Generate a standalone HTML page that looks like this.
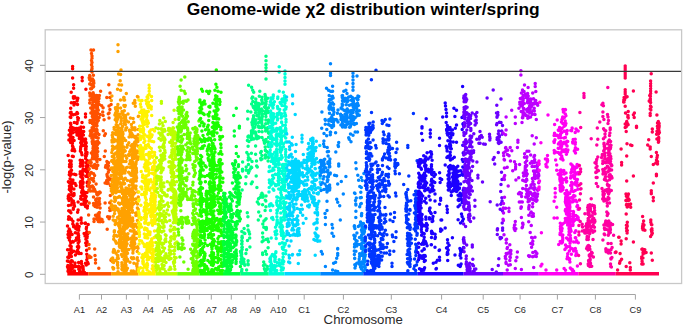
<!DOCTYPE html>
<html><head><meta charset="utf-8"><style>
html,body{margin:0;padding:0;background:#fff;overflow:hidden;}
svg{display:block;font-family:"Liberation Sans",sans-serif;}
</style></head><body>
<svg width="685" height="326" viewBox="0 0 685 326">
<rect width="685" height="326" fill="#fff"/>
<text x="363.2" y="14.8" text-anchor="middle" font-size="17.4" font-weight="bold" fill="#000">Genome-wide χ2 distribution winter/spring</text>
<g fill="none" stroke-width="3.50" stroke-linecap="round">
<path d="M72.6 66.4h0M72.6 68.8h0M72.6 78.0h0M73.6 84.8h0M73.6 88.2h0M71.2 92.3h0M82.2 77.4h0M82.2 80.7h0M85.9 89.3h0M70.7 108.3h0M85.5 113.9h0M85.5 117.0h0M82.0 122.6h0M73.5 97.1h0M73.4 97.9h0M77.1 101.1h0M77.4 99.5h0M74.3 97.3h0M76.8 98.5h0M74.7 103.2h0M77.5 104.6h0M73.7 98.2h0M74.2 103.1h0M74.6 102.8h0M73.6 97.6h0M73.8 102.4h0M74.0 105.1h0M77.8 98.3h0M73.4 96.7h0M74.7 96.7h0M71.3 102.8h0M77.0 123.4h0M71.1 112.2h0M78.0 120.2h0M77.1 122.5h0M70.2 117.0h0M71.5 114.3h0M75.6 114.2h0M70.8 124.5h0M70.8 113.0h0M78.4 118.3h0M77.0 112.4h0M73.2 114.7h0M77.9 119.7h0M70.3 113.0h0M70.5 123.2h0M70.5 117.0h0M74.3 122.4h0M70.8 117.5h0M77.6 113.6h0M70.5 112.5h0M77.6 117.5h0M70.7 132.5h0M70.8 142.5h0M71.1 130.0h0M70.8 131.4h0M70.6 132.0h0M70.6 127.6h0M68.9 140.1h0M71.6 127.2h0M72.4 139.7h0M70.8 127.7h0M69.4 130.3h0M73.6 129.5h0M70.8 135.4h0M70.6 142.4h0M70.7 135.5h0M70.5 134.3h0M72.8 132.7h0M70.2 136.5h0M71.7 132.1h0M73.4 127.9h0M75.9 128.5h0M75.8 131.9h0M69.0 135.0h0M70.0 130.6h0M71.0 133.1h0M71.4 141.4h0M70.7 137.2h0M74.1 140.6h0M69.8 139.5h0M70.8 136.1h0M70.4 135.0h0M73.0 137.6h0M70.2 135.1h0M72.6 149.8h0M72.1 150.6h0M72.5 145.9h0M72.3 156.2h0M68.2 155.4h0M74.7 151.1h0M73.3 156.4h0M74.1 149.2h0M73.0 146.9h0M72.4 143.3h0M72.8 148.6h0M73.1 148.2h0M82.5 133.0h0M82.9 138.7h0M78.5 128.2h0M79.2 130.2h0M80.6 131.7h0M80.3 134.7h0M78.5 132.5h0M80.3 128.9h0M78.3 134.5h0M76.7 129.9h0M83.5 127.3h0M83.7 131.5h0M80.7 136.6h0M80.9 127.1h0M78.2 134.4h0M79.3 138.6h0M80.6 138.0h0M81.8 136.1h0M79.4 136.4h0M77.0 134.9h0M79.8 134.1h0M81.1 130.7h0M76.5 128.5h0M80.1 129.8h0M83.4 135.1h0M78.0 129.5h0M80.0 128.0h0M85.4 156.0h0M80.7 146.9h0M85.5 149.7h0M86.3 146.5h0M81.5 140.5h0M85.6 158.6h0M81.9 143.1h0M80.9 142.4h0M86.0 147.1h0M81.8 141.9h0M85.7 153.5h0M80.4 150.9h0M85.5 143.2h0M87.0 152.4h0M86.2 142.9h0M85.8 142.2h0M85.5 148.4h0M82.3 141.8h0M85.8 142.1h0M81.3 145.6h0M85.9 151.4h0M83.1 145.5h0M86.9 153.9h0M80.6 149.0h0M80.7 142.7h0M82.0 154.8h0M86.2 156.1h0M85.5 139.1h0M85.6 139.3h0M85.4 145.3h0M86.0 149.1h0M81.4 152.6h0M83.6 140.5h0M70.8 164.6h0M69.6 164.6h0M69.2 182.5h0M75.9 174.8h0M73.9 189.0h0M71.2 166.5h0M71.5 170.3h0M70.8 165.8h0M69.6 172.2h0M71.3 183.3h0M71.0 170.6h0M69.3 189.4h0M73.5 182.9h0M71.3 184.6h0M70.9 186.2h0M74.4 174.3h0M71.8 174.0h0M69.7 160.9h0M71.5 186.7h0M70.4 173.6h0M70.2 175.4h0M70.9 162.8h0M70.8 185.1h0M76.0 185.5h0M70.7 162.4h0M69.6 174.7h0M70.8 167.1h0M69.3 174.7h0M69.6 160.8h0M70.8 189.3h0M71.7 181.3h0M72.9 180.1h0M68.4 181.7h0M70.8 165.8h0M69.4 186.0h0M69.7 188.3h0M70.1 178.7h0M75.1 183.6h0M71.2 164.4h0M70.3 190.4h0M69.6 187.9h0M71.3 170.5h0M69.5 166.7h0M69.8 166.6h0M69.6 171.9h0M71.0 191.6h0M71.0 185.0h0M71.2 160.9h0M85.8 176.2h0M80.3 171.7h0M82.9 165.5h0M83.0 169.4h0M82.5 181.8h0M80.8 185.1h0M83.5 191.6h0M82.6 178.8h0M82.2 164.3h0M80.2 166.2h0M82.6 171.8h0M82.7 171.5h0M87.1 182.8h0M80.7 183.9h0M82.2 162.7h0M86.6 165.9h0M80.2 160.3h0M82.4 160.4h0M82.3 163.5h0M86.6 166.9h0M82.2 165.1h0M82.6 189.4h0M82.0 191.0h0M80.5 163.5h0M82.9 182.6h0M80.7 181.6h0M87.5 168.0h0M80.5 187.3h0M80.3 182.4h0M83.1 182.3h0M82.7 181.6h0M82.8 174.6h0M81.8 172.0h0M82.5 174.2h0M80.7 184.2h0M81.2 162.3h0M82.8 186.8h0M80.1 173.9h0M82.2 177.2h0M80.8 176.7h0M86.6 166.3h0M82.3 190.9h0M85.3 169.6h0M82.6 161.6h0M80.6 184.0h0M82.9 183.5h0M80.4 186.0h0M82.8 187.0h0M80.8 163.0h0M85.8 162.7h0M82.9 166.3h0M82.9 170.2h0M86.0 171.4h0M81.8 177.5h0M68.7 210.7h0M69.2 200.1h0M68.5 205.4h0M73.3 195.7h0M70.9 212.8h0M69.0 200.4h0M69.4 217.2h0M72.0 202.3h0M70.1 210.9h0M68.5 219.2h0M70.5 198.1h0M74.5 206.2h0M70.7 219.2h0M73.4 207.9h0M69.4 211.3h0M71.2 199.1h0M69.0 194.7h0M72.9 221.2h0M74.1 194.9h0M74.0 203.0h0M71.2 194.5h0M68.3 196.2h0M71.3 219.1h0M74.1 204.8h0M70.9 205.0h0M73.3 201.0h0M68.7 216.8h0M74.0 193.4h0M73.3 209.2h0M68.2 198.5h0M85.1 200.6h0M83.0 194.0h0M83.6 195.3h0M81.6 192.6h0M81.2 204.2h0M85.5 202.7h0M84.3 201.4h0M85.5 198.1h0M86.7 201.2h0M85.2 192.6h0M83.6 194.3h0M82.3 195.3h0M81.2 198.5h0M80.7 198.8h0M80.9 196.2h0M83.6 194.5h0M85.4 202.5h0M84.8 194.1h0M83.7 199.5h0M87.0 192.6h0M86.2 196.4h0M78.1 202.1h0M84.0 202.0h0M83.7 204.3h0M81.3 199.3h0M84.6 198.4h0M81.0 219.9h0M85.2 223.4h0M86.5 206.9h0M85.5 206.6h0M81.9 223.1h0M85.4 223.1h0M87.3 208.1h0M87.5 206.0h0M81.1 218.1h0M78.1 220.0h0M78.1 209.9h0M86.1 205.8h0M81.3 223.2h0M77.6 212.3h0M75.4 254.9h0M72.6 241.4h0M69.2 229.1h0M77.5 237.5h0M69.5 231.4h0M77.7 249.9h0M77.2 252.4h0M77.5 226.1h0M69.5 230.1h0M76.5 238.1h0M71.5 253.0h0M79.1 241.4h0M69.8 235.6h0M71.0 250.6h0M78.6 237.4h0M67.6 249.8h0M78.2 233.5h0M69.8 237.3h0M78.2 246.0h0M67.5 226.0h0M78.5 252.2h0M79.1 253.6h0M77.7 229.9h0M78.7 246.7h0M71.0 248.3h0M73.7 251.2h0M78.2 236.6h0M78.2 243.0h0M78.3 238.5h0M75.9 228.7h0M70.7 232.0h0M68.0 234.4h0M69.4 239.9h0M71.0 252.1h0M69.8 230.5h0M78.6 235.5h0M69.8 233.1h0M78.6 227.0h0M69.4 252.9h0M78.7 230.3h0M73.6 226.8h0M78.4 247.8h0M75.8 240.3h0M72.8 224.1h0M68.3 237.5h0M70.8 242.9h0M71.3 250.3h0M79.2 226.4h0M78.7 247.3h0M70.0 245.7h0M78.7 246.8h0M78.9 240.0h0M70.7 242.0h0M71.1 251.7h0M68.4 231.5h0M71.2 246.4h0M73.2 241.9h0M70.8 242.5h0M70.0 249.6h0M77.2 224.1h0M71.0 251.4h0M73.8 225.4h0M78.6 228.8h0M75.3 232.7h0M77.9 234.0h0M69.4 255.0h0M77.5 246.8h0M69.8 232.5h0M77.4 246.8h0M74.1 226.7h0M77.5 252.9h0M76.7 226.5h0M76.6 251.8h0M72.1 234.6h0M71.1 250.9h0M86.3 245.5h0M87.0 241.4h0M84.1 233.5h0M87.1 232.7h0M87.2 243.3h0M86.6 250.3h0M86.8 254.2h0M85.9 239.3h0M87.0 237.9h0M87.7 233.7h0M85.0 234.2h0M86.5 234.9h0M87.2 236.5h0M86.3 228.8h0M88.2 224.5h0M81.1 253.4h0M86.5 227.3h0M85.0 236.1h0M85.7 242.9h0M86.8 231.7h0M72.0 260.9h0M67.5 266.8h0M68.0 261.3h0M68.0 271.2h0M68.9 257.7h0M71.1 267.6h0M68.0 268.0h0M71.4 256.5h0M71.7 267.0h0M71.9 260.8h0M71.4 260.7h0M72.2 268.5h0M72.3 261.3h0M70.6 265.8h0M70.5 262.4h0M71.6 261.0h0M72.4 267.0h0M72.1 266.9h0M71.5 271.5h0M67.4 260.9h0M72.0 271.4h0M71.4 264.8h0M70.1 261.9h0M71.5 264.9h0M67.8 257.2h0M71.5 261.5h0M71.1 264.5h0M67.9 265.6h0M68.6 257.5h0M68.3 270.2h0M74.8 265.2h0M75.0 262.9h0M78.6 262.5h0M83.1 267.1h0M71.8 272.0h0M82.6 272.3h0M82.5 266.2h0M84.5 272.4h0M74.3 272.2h0M79.6 271.6h0M81.0 267.1h0M69.9 267.5h0M82.4 266.2h0M78.6 266.2h0M83.3 269.9h0M78.5 267.4h0M70.3 272.2h0M67.7 266.5h0M75.9 266.5h0M82.9 266.4h0M70.6 271.0h0M81.2 267.1h0M82.9 267.6h0M73.3 271.9h0M74.5 271.1h0M81.8 271.9h0M83.1 268.8h0M69.6 272.2h0M78.8 269.3h0M69.0 270.9h0M82.9 269.2h0M82.9 271.3h0M70.2 266.9h0M74.3 266.8h0M79.1 268.3h0M79.3 269.6h0M85.5 263.3h0M81.6 263.7h0M81.0 263.1h0M87.3 256.9h0M81.4 261.6h0M86.3 265.0h0M87.7 262.5h0M86.8 259.7h0M88.2 263.8h0M87.4 174.2h0M87.8 162.1h0M87.7 161.3h0M88.0 172.6h0M87.5 182.3h0M87.9 167.5h0M87.7 176.6h0M87.4 186.1h0M88.2 165.6h0M87.5 163.3h0M87.3 182.0h0M87.2 160.4h0M87.4 164.4h0M88.1 170.1h0" stroke="#FF0000"/>
<path d="M67.3 273.8H88.3" stroke="#FF0000" stroke-linecap="butt"/>
<path d="M91.0 50.0h0M93.5 50.0h0M91.5 53.5h0M92.0 56.0h0M92.0 58.3h0M91.5 60.6h0M92.0 62.6h0M91.5 64.7h0M92.0 66.7h0M92.0 68.8h0M91.5 70.3h0M92.0 71.9h0M100.6 91.3h0M108.8 84.8h0M110.0 93.0h0M94.7 249.1h0M95.0 255.5h0M95.5 259.7h0M95.5 263.0h0M98.8 268.2h0M89.2 203.1h0M88.6 215.0h0M89.3 232.4h0M89.2 255.9h0M89.1 248.4h0M89.0 244.4h0M90.9 257.3h0M89.1 257.4h0M88.6 256.2h0M93.4 75.3h0M89.7 93.1h0M90.6 88.7h0M90.0 83.8h0M89.2 77.7h0M89.7 75.4h0M89.7 84.0h0M90.0 79.2h0M93.1 85.6h0M93.1 92.8h0M93.7 82.5h0M90.6 84.2h0M93.5 80.5h0M89.9 77.0h0M93.3 86.2h0M93.6 81.1h0M93.8 83.2h0M93.3 94.9h0M90.1 94.8h0M93.7 94.4h0M91.5 88.7h0M89.6 79.4h0M90.0 76.8h0M90.7 80.4h0M90.3 94.1h0M92.6 79.1h0M93.2 83.1h0M91.4 85.0h0M92.9 87.3h0M93.6 86.4h0M92.8 97.6h0M93.6 146.8h0M92.4 136.4h0M92.8 142.8h0M92.8 96.1h0M96.8 145.1h0M99.0 134.6h0M92.8 157.1h0M95.3 124.2h0M96.8 131.7h0M96.9 101.2h0M91.9 130.0h0M94.5 98.9h0M89.7 102.9h0M94.4 122.4h0M96.5 141.8h0M99.0 143.0h0M94.1 135.0h0M91.3 152.9h0M93.0 106.2h0M90.8 113.1h0M89.9 99.9h0M96.3 125.4h0M94.1 158.7h0M93.7 142.4h0M96.3 142.9h0M98.2 137.9h0M94.1 99.4h0M96.5 104.5h0M96.1 100.4h0M92.1 111.5h0M93.7 110.7h0M93.7 151.0h0M94.0 137.2h0M93.9 153.5h0M90.0 122.6h0M90.0 120.6h0M97.2 113.3h0M99.0 98.6h0M92.7 115.5h0M92.4 111.5h0M97.8 151.5h0M97.4 148.3h0M95.7 153.1h0M95.8 116.2h0M96.9 108.1h0M94.0 151.6h0M93.5 134.9h0M99.4 95.4h0M96.4 106.7h0M93.8 116.4h0M96.6 101.0h0M93.7 111.3h0M94.5 129.3h0M96.8 110.1h0M93.6 120.3h0M92.9 152.8h0M96.7 145.7h0M98.3 117.8h0M93.3 146.3h0M98.9 117.2h0M99.9 159.5h0M96.6 160.0h0M93.0 135.8h0M96.2 112.9h0M95.8 137.3h0M97.4 132.8h0M97.6 108.3h0M96.7 105.5h0M96.8 96.1h0M95.1 118.7h0M96.4 147.5h0M94.8 137.0h0M94.0 117.8h0M94.2 97.4h0M97.3 104.6h0M94.3 107.2h0M90.7 108.0h0M98.5 96.5h0M90.2 131.1h0M97.0 99.9h0M97.0 130.0h0M94.0 155.3h0M91.0 121.2h0M97.6 141.3h0M98.3 110.3h0M91.4 132.5h0M92.6 138.4h0M92.3 104.9h0M92.2 135.1h0M99.2 117.4h0M97.0 125.8h0M92.3 120.0h0M97.2 158.6h0M97.1 103.1h0M95.8 136.9h0M99.2 104.4h0M92.7 158.7h0M96.4 147.0h0M92.8 151.1h0M94.1 153.7h0M96.8 152.3h0M94.3 153.5h0M96.7 131.3h0M92.2 141.6h0M96.5 118.8h0M93.6 117.9h0M94.4 98.4h0M97.0 156.4h0M92.3 142.3h0M96.4 129.1h0M92.6 97.4h0M96.8 111.1h0M92.3 131.6h0M92.6 141.2h0M96.8 119.9h0M93.0 119.6h0M93.8 149.6h0M91.8 99.9h0M92.7 154.8h0M100.0 114.4h0M97.4 132.9h0M96.8 97.4h0M96.9 105.0h0M97.0 149.0h0M93.8 114.0h0M92.6 155.0h0M95.8 112.4h0M96.2 107.2h0M93.2 127.9h0M94.1 147.8h0M90.1 135.8h0M96.8 112.2h0M97.3 145.0h0M92.6 135.0h0M92.1 129.8h0M92.6 121.5h0M92.3 127.7h0M96.4 144.7h0M92.3 158.6h0M96.6 104.5h0M93.1 108.0h0M97.3 106.7h0M90.7 133.8h0M96.9 153.7h0M92.9 115.3h0M91.9 138.2h0M96.3 130.8h0M96.4 137.5h0M97.1 133.2h0M94.4 135.6h0M98.9 97.9h0M97.1 154.4h0M96.2 100.4h0M93.9 148.2h0M98.5 101.6h0M95.0 141.9h0M97.0 106.8h0M92.1 127.8h0M96.3 143.4h0M94.2 151.8h0M93.7 148.2h0M96.9 150.6h0M93.4 97.6h0M96.3 154.9h0M92.9 106.0h0M96.8 150.2h0M94.0 129.1h0M97.0 118.0h0M96.1 130.9h0M92.3 116.6h0M94.3 101.5h0M96.4 144.8h0M96.8 108.4h0M96.5 157.3h0M96.7 123.2h0M94.0 147.1h0M97.2 102.8h0M95.2 148.8h0M96.4 112.4h0M94.2 156.0h0M95.6 135.9h0M97.2 95.8h0M96.6 132.1h0M96.5 95.4h0M96.9 100.2h0M92.8 121.9h0M92.5 123.7h0M97.1 122.4h0M96.4 149.8h0M96.7 112.6h0M95.1 115.1h0M96.5 137.3h0M92.1 131.3h0M96.9 102.4h0M93.7 122.6h0M93.8 129.8h0M96.4 104.0h0M97.1 143.7h0M97.4 104.2h0M94.4 134.5h0M98.6 142.5h0M92.3 110.2h0M93.7 153.8h0M90.1 96.1h0M96.9 104.2h0M93.0 123.5h0M97.3 156.2h0M93.7 105.6h0M93.0 148.2h0M97.8 113.2h0M94.1 149.2h0M96.5 114.7h0M94.7 130.2h0M91.2 99.2h0M93.6 101.5h0M96.8 158.2h0M93.8 130.2h0M93.8 126.5h0M93.2 152.4h0M94.1 145.8h0M92.5 143.7h0M96.5 143.7h0M96.8 144.6h0M97.3 133.8h0M93.0 102.2h0M92.8 154.9h0M96.1 151.4h0M96.7 143.2h0M96.8 120.3h0M94.1 144.8h0M96.4 155.4h0M94.3 144.6h0M92.2 112.2h0M95.7 131.7h0M93.8 148.5h0M93.0 139.4h0M92.4 119.7h0M94.0 111.7h0M96.9 131.9h0M94.0 96.4h0M96.8 155.2h0M92.8 156.3h0M92.8 127.2h0M93.6 154.0h0M96.2 119.6h0M92.3 111.6h0M93.0 144.0h0M98.3 120.6h0M109.9 109.4h0M102.7 112.1h0M109.0 118.0h0M109.0 106.1h0M109.1 113.1h0M104.1 119.8h0M108.3 113.7h0M101.7 105.7h0M111.1 104.5h0M106.8 97.5h0M110.0 97.5h0M103.1 115.6h0M103.1 107.8h0M105.4 133.7h0M103.3 130.7h0M105.3 150.9h0M104.3 156.6h0M104.5 135.4h0M92.8 190.8h0M89.4 190.0h0M89.4 174.3h0M94.8 165.2h0M88.7 162.4h0M91.2 162.4h0M90.0 162.4h0M93.5 187.4h0M91.2 178.5h0M94.7 164.5h0M89.9 186.4h0M94.6 167.4h0M89.5 182.4h0M89.4 175.6h0M97.8 165.2h0M91.5 179.2h0M89.0 190.3h0M90.6 191.0h0M93.2 167.6h0M92.4 185.9h0M89.2 168.9h0M93.1 191.0h0M96.5 168.5h0M88.4 185.8h0M89.2 183.1h0M93.6 173.7h0M88.9 190.8h0M95.2 191.2h0M91.3 172.6h0M89.8 187.5h0M94.6 175.5h0M91.3 165.7h0M97.2 166.0h0M90.3 173.7h0M88.8 179.6h0M96.1 183.9h0M92.6 187.2h0M88.8 190.1h0M90.2 160.7h0M88.7 184.4h0M94.6 189.4h0M92.8 179.9h0M93.6 165.7h0M97.0 161.8h0M93.7 181.2h0M93.4 178.4h0M107.3 183.0h0M107.5 176.7h0M107.9 166.2h0M107.6 177.2h0M109.2 179.7h0M108.0 167.0h0M107.7 166.0h0M107.5 163.4h0M107.1 183.4h0M108.6 162.7h0M110.9 179.1h0M108.3 172.3h0M109.3 169.9h0M108.7 178.2h0M108.4 165.8h0M108.2 183.3h0M107.0 174.4h0M107.9 168.6h0M106.9 161.5h0M105.9 165.6h0M107.1 175.8h0M108.4 177.8h0M108.0 168.9h0M107.9 181.0h0M105.1 183.0h0M108.0 166.2h0M107.8 163.1h0M105.5 167.3h0M106.7 180.4h0M110.4 185.5h0M96.2 199.2h0M98.9 219.5h0M94.0 218.9h0M97.1 215.6h0M96.3 218.7h0M98.3 221.6h0M97.4 218.6h0M98.1 213.8h0M99.2 201.2h0M99.2 204.7h0M96.8 204.5h0M97.1 207.2h0M96.9 218.2h0M99.1 216.9h0M97.0 198.7h0M102.0 219.4h0M96.3 201.7h0M99.1 213.6h0M97.3 217.5h0M99.5 198.6h0M97.5 194.9h0M100.2 192.4h0M93.8 205.2h0M101.4 219.2h0M95.7 199.9h0M98.3 215.3h0M98.9 215.3h0M100.1 221.7h0M99.1 202.1h0M98.1 193.9h0M97.1 205.9h0M97.6 192.7h0M97.2 218.6h0M96.7 203.4h0M96.8 194.3h0M97.4 218.5h0M99.6 192.9h0M99.8 203.9h0M100.1 208.0h0M93.5 203.4h0M98.8 204.1h0M96.8 193.4h0M98.7 221.3h0M98.9 213.0h0M102.8 221.8h0M94.0 221.5h0M95.5 215.2h0M95.1 206.5h0M99.6 192.1h0M93.5 196.9h0M97.3 219.6h0M98.5 194.1h0M99.4 212.4h0M98.6 193.4h0M109.8 210.5h0M108.7 217.1h0M105.1 202.9h0M110.3 195.4h0M109.7 217.0h0M109.1 218.8h0M107.6 216.7h0M109.7 208.0h0M109.7 202.7h0M107.2 229.3h0M111.0 260.2h0M111.1 210.1h0" stroke="#FF5100"/>
<path d="M88.3 273.8H111.1" stroke="#FF5100" stroke-linecap="butt"/>
<path d="M118.0 44.7h0M118.0 51.5h0M121.0 69.9h0M118.6 74.0h0M120.6 74.5h0M120.2 80.7h0M119.0 84.8h0M121.6 85.0h0M117.5 89.3h0M120.6 90.3h0M126.3 93.4h0M135.0 103.0h0M138.0 97.0h0M133.3 103.2h0M135.3 106.2h0M134.8 100.6h0M137.4 96.5h0M111.9 95.9h0M111.3 100.4h0M111.8 152.6h0M111.9 160.6h0M111.6 168.4h0M111.7 168.7h0M111.4 168.0h0M111.4 184.5h0M111.6 161.0h0M111.1 175.5h0M111.3 190.9h0M111.2 188.6h0M111.4 258.9h0M123.7 97.6h0M124.6 100.0h0M124.0 97.5h0M123.9 99.9h0M120.5 99.9h0M123.9 98.9h0M115.7 113.0h0M125.2 115.6h0M122.2 112.4h0M117.7 126.6h0M117.4 117.0h0M125.5 124.4h0M119.0 116.6h0M125.3 105.5h0M117.2 107.3h0M117.4 108.8h0M120.5 107.9h0M117.6 111.3h0M117.1 108.9h0M124.5 120.4h0M124.4 118.0h0M123.9 105.5h0M121.2 121.1h0M125.5 116.3h0M115.9 113.0h0M124.7 123.3h0M117.3 106.9h0M117.1 107.4h0M117.0 125.0h0M115.5 113.3h0M117.9 125.8h0M124.4 116.0h0M115.2 119.7h0M125.6 117.9h0M124.4 117.8h0M122.0 111.5h0M115.6 109.0h0M121.5 118.5h0M117.9 114.6h0M117.2 118.8h0M120.6 117.3h0M116.0 116.7h0M119.6 114.3h0M118.9 115.2h0M124.2 105.9h0M116.1 112.2h0M115.8 118.8h0M120.7 123.8h0M115.6 115.0h0M116.0 115.1h0M115.4 107.7h0M124.1 123.8h0M124.8 106.6h0M115.8 119.2h0M126.1 120.2h0M114.9 115.0h0M116.0 109.6h0M125.4 121.8h0M117.9 104.5h0M117.7 119.3h0M116.7 121.7h0M117.3 118.9h0M124.2 123.0h0M122.9 114.9h0M122.9 113.6h0M116.2 124.7h0M123.9 111.1h0M122.5 126.4h0M124.3 110.7h0M131.4 124.5h0M130.4 118.0h0M133.1 118.4h0M128.0 114.0h0M133.7 122.2h0M128.5 122.1h0M118.1 152.5h0M119.6 135.5h0M122.1 141.6h0M112.4 146.3h0M123.0 134.0h0M118.3 146.0h0M114.2 129.3h0M119.2 131.9h0M128.8 142.7h0M134.6 156.4h0M122.8 132.0h0M117.8 134.4h0M122.3 153.9h0M132.4 157.4h0M119.2 158.8h0M135.4 136.6h0M122.5 154.6h0M122.2 159.7h0M114.5 148.2h0M132.2 129.8h0M122.3 151.6h0M112.5 149.3h0M120.0 137.4h0M122.0 137.9h0M128.7 154.6h0M134.9 127.7h0M133.2 128.1h0M134.9 158.2h0M133.8 145.3h0M122.1 156.7h0M118.1 151.0h0M134.6 144.3h0M129.7 130.2h0M121.9 129.3h0M114.1 127.5h0M134.7 151.7h0M122.6 134.8h0M118.0 155.4h0M134.8 141.9h0M119.1 154.7h0M114.1 133.7h0M118.2 146.1h0M136.2 140.0h0M118.7 135.1h0M121.4 140.1h0M119.4 131.9h0M118.4 127.7h0M115.6 132.7h0M120.9 142.8h0M136.0 144.2h0M125.5 155.8h0M117.2 133.6h0M119.6 147.4h0M116.1 146.9h0M121.4 139.5h0M134.9 129.4h0M118.1 158.4h0M131.8 136.7h0M122.1 141.3h0M116.6 140.6h0M114.2 158.0h0M129.1 136.9h0M117.2 146.1h0M112.7 149.7h0M122.1 145.0h0M121.6 133.1h0M122.5 153.1h0M122.2 138.4h0M125.7 130.1h0M131.1 155.0h0M114.2 154.4h0M121.0 140.3h0M123.0 156.2h0M132.5 146.9h0M117.6 127.4h0M118.6 149.0h0M121.2 134.5h0M116.8 133.2h0M135.4 137.0h0M118.2 138.6h0M112.2 135.3h0M135.0 149.8h0M122.2 159.5h0M133.3 155.9h0M117.0 154.3h0M134.6 149.3h0M132.6 159.1h0M122.5 133.0h0M130.2 134.2h0M132.7 135.1h0M114.2 157.8h0M115.7 153.1h0M131.7 133.6h0M134.9 143.0h0M118.0 147.3h0M135.0 130.0h0M133.5 146.4h0M121.1 141.7h0M122.0 137.7h0M112.7 132.8h0M135.8 154.3h0M133.4 155.5h0M130.7 130.2h0M112.6 137.3h0M114.4 139.5h0M121.4 154.5h0M122.2 146.6h0M125.2 150.9h0M130.8 149.8h0M120.9 149.3h0M112.1 141.9h0M120.3 145.0h0M125.9 128.3h0M118.2 128.4h0M123.7 147.0h0M122.0 131.2h0M113.4 156.3h0M118.3 157.0h0M118.1 139.5h0M119.4 140.9h0M117.0 148.2h0M132.5 128.1h0M135.2 154.4h0M113.5 141.7h0M126.7 158.3h0M121.6 134.5h0M119.7 137.7h0M119.5 132.8h0M112.8 146.2h0M133.1 151.4h0M116.6 146.9h0M128.8 155.5h0M136.2 156.0h0M112.3 156.5h0M118.7 150.8h0M118.7 135.1h0M118.1 153.6h0M112.3 150.0h0M132.2 153.4h0M132.4 148.8h0M121.8 146.2h0M122.2 150.7h0M119.2 130.9h0M122.5 141.4h0M116.0 130.4h0M118.0 146.6h0M118.0 145.2h0M122.3 136.4h0M130.9 145.7h0M114.3 141.6h0M131.9 127.2h0M118.8 135.9h0M132.1 154.9h0M122.0 156.8h0M117.1 127.0h0M123.9 152.1h0M118.4 136.1h0M122.0 137.0h0M119.4 148.7h0M132.4 144.6h0M132.8 149.5h0M120.9 141.0h0M134.6 158.2h0M121.1 157.1h0M122.2 158.4h0M121.3 148.7h0M118.2 131.8h0M118.3 132.1h0M125.6 140.5h0M119.5 135.7h0M129.8 131.4h0M134.6 128.7h0M134.3 156.7h0M122.6 136.8h0M127.5 145.0h0M122.0 144.0h0M118.1 156.6h0M132.0 146.9h0M134.3 143.6h0M119.7 143.1h0M122.6 136.4h0M122.1 145.2h0M120.4 159.4h0M117.0 147.6h0M124.3 149.9h0M116.1 134.4h0M121.3 141.3h0M117.9 158.9h0M118.3 127.4h0M124.1 138.5h0M121.8 157.9h0M134.8 146.4h0M117.7 150.9h0M126.9 147.2h0M119.1 143.9h0M119.4 150.6h0M118.1 140.6h0M134.5 149.1h0M117.6 156.8h0M120.9 132.8h0M119.8 143.6h0M120.4 155.6h0M122.0 145.1h0M120.2 153.8h0M114.0 159.9h0M129.4 130.3h0M118.0 142.4h0M119.6 156.8h0M121.3 128.3h0M117.9 152.3h0M135.8 152.5h0M134.8 137.4h0M121.2 158.1h0M118.4 130.9h0M120.9 132.5h0M122.2 143.2h0M132.1 147.3h0M129.7 151.7h0M112.0 140.2h0M136.1 137.7h0M121.6 146.1h0M126.7 127.8h0M116.4 191.7h0M130.6 181.7h0M131.0 180.0h0M122.2 169.5h0M121.6 173.2h0M116.5 184.8h0M116.0 164.9h0M131.2 173.2h0M131.2 162.5h0M114.1 172.5h0M132.9 170.3h0M136.4 170.2h0M115.5 189.6h0M120.4 165.7h0M135.9 189.1h0M128.6 189.8h0M114.9 170.0h0M133.9 187.3h0M117.4 172.7h0M132.3 184.7h0M121.0 173.0h0M124.2 179.1h0M117.7 162.9h0M120.6 191.1h0M127.3 167.3h0M112.6 179.4h0M132.6 162.3h0M121.3 165.6h0M136.2 171.4h0M135.9 177.2h0M116.8 180.8h0M123.0 171.4h0M130.0 174.0h0M120.5 163.8h0M120.5 168.3h0M116.2 168.8h0M136.1 161.9h0M120.3 178.8h0M113.8 179.8h0M120.6 166.6h0M123.6 180.2h0M115.5 165.5h0M132.6 182.9h0M135.9 173.3h0M114.8 160.9h0M135.9 173.7h0M136.6 172.3h0M133.1 186.1h0M121.5 177.2h0M124.0 161.4h0M120.3 171.7h0M121.9 184.3h0M116.4 187.2h0M115.5 185.7h0M118.5 183.1h0M120.6 168.5h0M113.5 185.3h0M116.8 187.5h0M130.2 160.7h0M112.1 181.5h0M124.1 169.7h0M130.3 167.6h0M120.1 169.5h0M132.7 171.6h0M116.7 178.3h0M125.7 191.5h0M119.0 163.1h0M116.5 167.2h0M114.0 186.6h0M114.1 189.8h0M121.7 183.5h0M132.9 169.3h0M115.1 182.7h0M121.9 189.3h0M133.1 185.1h0M118.1 180.6h0M120.8 178.6h0M120.4 182.7h0M125.3 170.7h0M120.4 172.6h0M116.7 182.7h0M117.7 191.5h0M116.1 162.4h0M122.9 172.2h0M129.7 173.3h0M120.5 184.3h0M113.7 178.2h0M125.3 178.3h0M121.9 184.3h0M116.8 160.8h0M120.2 164.6h0M115.3 182.3h0M122.9 182.9h0M115.1 165.9h0M121.4 188.0h0M135.9 173.9h0M133.1 186.6h0M116.6 189.4h0M119.8 191.2h0M136.3 168.3h0M117.6 169.5h0M122.0 188.5h0M120.4 162.2h0M136.0 164.0h0M124.9 173.0h0M132.3 184.9h0M115.6 184.4h0M117.3 187.5h0M132.3 182.5h0M128.6 172.3h0M124.0 184.0h0M129.3 188.8h0M134.4 168.0h0M136.2 180.9h0M114.0 184.5h0M121.7 165.9h0M116.8 181.3h0M132.8 172.8h0M114.3 182.2h0M112.8 171.4h0M115.3 184.0h0M132.9 174.9h0M121.3 177.2h0M119.9 171.5h0M135.5 165.1h0M129.4 164.1h0M120.3 172.9h0M120.4 160.3h0M120.2 190.9h0M130.5 181.3h0M123.0 167.0h0M116.3 169.2h0M136.0 177.6h0M135.4 180.2h0M135.9 163.8h0M135.9 177.5h0M112.8 168.1h0M116.7 163.4h0M113.0 192.0h0M135.7 172.7h0M122.3 191.1h0M115.1 168.4h0M117.6 167.1h0M115.3 168.4h0M121.7 168.9h0M131.1 175.3h0M116.5 185.4h0M115.9 176.8h0M116.4 184.0h0M132.7 183.6h0M113.6 160.6h0M124.6 172.7h0M132.8 165.1h0M115.4 181.9h0M134.2 171.5h0M113.7 160.3h0M136.1 176.1h0M112.1 186.4h0M113.7 163.4h0M113.6 175.0h0M132.7 187.8h0M113.9 174.7h0M120.3 178.8h0M133.2 176.2h0M120.9 177.1h0M117.7 182.9h0M122.7 172.9h0M134.1 179.1h0M127.5 188.8h0M135.8 167.6h0M117.0 166.4h0M115.3 172.3h0M112.5 191.5h0M116.4 171.2h0M121.5 187.0h0M120.0 175.5h0M132.6 180.8h0M132.8 179.6h0M133.2 186.2h0M116.4 190.7h0M126.0 188.0h0M136.1 161.7h0M132.7 183.6h0M112.3 161.6h0M132.1 161.2h0M116.9 162.3h0M133.1 184.2h0M117.3 167.9h0M115.3 165.1h0M119.6 178.0h0M132.8 172.7h0M132.6 171.3h0M120.6 177.5h0M117.5 164.4h0M124.4 179.0h0M121.2 168.0h0M116.6 160.7h0M133.3 164.5h0M136.0 185.9h0M135.6 187.1h0M117.0 162.0h0M131.5 188.9h0M120.6 177.2h0M135.9 179.8h0M113.9 189.4h0M121.5 172.9h0M135.8 180.3h0M113.2 188.9h0M113.2 189.2h0M120.5 161.5h0M120.1 174.7h0M131.5 191.8h0M114.1 190.4h0M115.5 177.0h0M133.6 164.2h0M121.8 173.9h0M119.9 191.4h0M121.1 174.7h0M115.4 177.2h0M117.2 173.2h0M117.1 189.1h0M117.4 187.9h0M116.6 190.0h0M115.7 182.2h0M136.4 177.3h0M113.6 180.5h0M133.7 181.6h0M121.3 167.5h0M132.8 191.6h0M119.9 172.8h0M132.7 171.3h0M116.3 189.4h0M124.6 183.5h0M115.3 183.2h0M114.0 171.5h0M116.3 178.6h0M119.8 167.6h0M116.4 187.3h0M132.6 166.7h0M115.8 174.0h0M116.3 177.1h0M120.6 162.0h0M118.0 179.0h0M120.0 179.0h0M126.4 167.8h0M117.3 160.7h0M113.2 179.3h0M117.3 182.3h0M117.1 162.2h0M132.5 170.5h0M133.0 187.0h0M124.6 190.2h0M113.2 188.2h0M115.1 160.9h0M120.2 163.3h0M132.4 164.9h0M131.7 165.0h0M115.8 188.0h0M132.6 173.5h0M116.9 188.9h0M116.5 186.1h0M126.0 161.6h0M134.8 165.7h0M120.9 161.1h0M125.2 190.7h0M132.4 191.9h0M132.6 190.2h0M120.1 173.8h0M133.0 175.1h0M136.6 177.9h0M117.1 174.2h0M117.2 185.6h0M121.5 162.1h0M120.7 186.8h0M116.9 165.6h0M114.0 190.5h0M133.4 165.5h0M129.7 190.9h0M114.2 176.9h0M117.7 181.0h0M115.7 186.3h0M113.6 163.2h0M129.2 185.6h0M116.6 170.1h0M127.4 180.5h0M133.7 194.0h0M138.2 223.1h0M128.2 193.2h0M117.6 197.6h0M124.4 206.4h0M126.4 203.0h0M115.1 209.8h0M122.3 217.9h0M123.9 205.3h0M132.3 219.6h0M118.6 210.9h0M119.4 196.9h0M134.6 193.0h0M122.5 216.8h0M114.8 221.3h0M124.5 217.5h0M117.7 209.8h0M124.5 204.1h0M126.5 201.6h0M123.7 196.3h0M132.1 194.7h0M127.1 220.2h0M119.6 213.5h0M122.4 193.4h0M115.4 192.1h0M114.6 197.3h0M125.1 220.9h0M133.8 203.8h0M124.9 204.8h0M124.1 192.8h0M132.8 195.4h0M124.1 203.7h0M126.0 198.4h0M124.0 193.5h0M119.3 222.6h0M124.4 209.8h0M117.0 208.3h0M126.3 211.7h0M114.6 201.5h0M133.0 200.3h0M125.3 213.5h0M121.9 198.3h0M132.6 217.9h0M119.2 210.8h0M126.7 197.2h0M128.1 205.8h0M122.3 211.5h0M131.6 222.2h0M119.4 196.6h0M111.7 204.8h0M124.4 211.0h0M114.7 210.6h0M119.2 212.7h0M126.4 193.5h0M128.6 205.5h0M125.6 193.0h0M123.2 218.8h0M124.8 215.6h0M127.4 214.5h0M124.9 197.1h0M119.3 216.1h0M132.4 210.4h0M128.6 216.8h0M137.5 204.1h0M129.7 216.9h0M129.0 215.7h0M128.4 206.2h0M135.9 215.4h0M114.4 206.4h0M125.2 218.2h0M128.0 192.3h0M125.0 199.1h0M112.4 192.2h0M132.6 200.6h0M128.1 209.4h0M129.5 194.5h0M115.4 206.2h0M130.4 198.8h0M129.9 195.8h0M127.6 212.5h0M129.7 202.8h0M129.6 223.0h0M132.4 212.3h0M122.7 219.3h0M124.3 222.3h0M129.7 195.5h0M129.8 194.9h0M132.0 223.4h0M115.8 192.8h0M119.7 219.3h0M121.8 221.0h0M128.1 205.1h0M135.6 212.9h0M115.4 200.5h0M125.0 197.6h0M125.8 196.6h0M124.8 203.9h0M123.2 192.5h0M123.7 215.4h0M124.0 209.3h0M125.1 201.6h0M127.9 206.8h0M127.7 218.9h0M129.5 213.0h0M138.3 197.1h0M129.8 223.7h0M137.4 207.9h0M115.2 220.7h0M130.0 207.4h0M114.9 197.8h0M119.4 212.0h0M125.1 192.8h0M123.4 194.3h0M121.3 211.6h0M128.8 213.5h0M119.2 222.8h0M126.6 221.9h0M122.3 203.6h0M123.7 211.2h0M129.7 222.1h0M114.9 221.1h0M132.3 197.4h0M129.7 215.7h0M123.8 201.7h0M124.2 202.1h0M126.6 219.7h0M128.8 203.2h0M113.2 220.1h0M135.0 199.3h0M125.2 202.8h0M123.7 211.4h0M122.1 219.8h0M122.6 200.8h0M124.9 192.9h0M137.9 211.8h0M129.7 219.2h0M118.5 202.9h0M111.4 205.4h0M125.1 194.3h0M122.1 213.1h0M129.8 221.4h0M137.4 220.5h0M132.8 220.7h0M118.2 209.0h0M127.1 207.4h0M119.6 203.4h0M123.8 194.6h0M124.1 218.1h0M128.5 208.3h0M129.8 207.1h0M137.8 214.9h0M128.8 221.1h0M132.0 209.9h0M119.1 219.2h0M125.6 195.2h0M124.9 217.4h0M129.0 210.5h0M111.2 207.0h0M125.3 199.8h0M125.8 212.5h0M126.9 206.6h0M122.4 218.1h0M113.2 216.2h0M122.3 214.6h0M121.9 211.2h0M128.4 206.6h0M114.0 206.2h0M124.4 212.9h0M112.5 194.0h0M124.4 213.6h0M114.9 208.7h0M132.4 194.0h0M114.6 213.4h0M128.5 214.6h0M119.7 204.3h0M136.2 202.6h0M126.7 215.7h0M123.9 221.5h0M132.4 205.0h0M122.1 213.3h0M129.6 200.0h0M123.9 207.8h0M135.9 199.0h0M132.1 204.5h0M112.2 209.2h0M125.0 205.6h0M122.1 202.5h0M114.9 208.8h0M114.6 198.4h0M125.0 197.1h0M124.2 205.9h0M120.5 219.8h0M127.0 217.6h0M132.4 202.4h0M121.9 222.8h0M126.5 193.2h0M126.3 214.1h0M129.0 205.2h0M132.1 197.2h0M127.0 219.8h0M115.3 199.0h0M123.8 220.7h0M111.2 201.1h0M129.5 194.6h0M115.5 221.6h0M124.1 193.2h0M138.2 209.3h0M122.0 208.6h0M129.3 192.3h0M132.7 220.8h0M120.5 221.2h0M131.9 207.3h0M137.9 192.1h0M131.3 206.2h0M125.2 193.5h0M123.7 211.6h0M128.3 206.5h0M122.5 211.3h0M124.8 193.4h0M125.0 194.8h0M132.2 223.8h0M128.5 199.9h0M133.5 192.3h0M129.5 195.1h0M120.5 215.5h0M119.5 211.7h0M125.7 212.4h0M115.2 200.7h0M125.0 205.6h0M115.8 220.4h0M116.6 223.3h0M122.1 214.0h0M123.2 217.1h0M117.5 217.6h0M124.8 229.3h0M114.5 230.7h0M125.1 235.8h0M123.2 233.2h0M116.3 243.0h0M117.2 236.3h0M137.6 246.8h0M124.0 237.6h0M119.1 231.5h0M127.5 236.8h0M125.9 237.4h0M118.6 232.1h0M119.5 224.8h0M133.9 236.9h0M121.2 234.1h0M126.4 224.5h0M124.2 233.1h0M123.9 230.6h0M133.1 244.1h0M125.9 239.2h0M119.4 246.1h0M132.3 224.1h0M126.4 237.7h0M131.2 242.5h0M124.0 245.4h0M132.9 244.5h0M123.8 238.8h0M120.5 234.7h0M115.4 241.2h0M120.5 230.6h0M136.1 232.2h0M127.2 224.3h0M123.2 241.4h0M132.3 238.4h0M119.4 246.6h0M126.2 246.0h0M124.0 246.4h0M126.5 243.6h0M134.3 242.0h0M126.8 227.9h0M134.1 226.4h0M130.9 239.3h0M119.4 226.9h0M119.5 226.0h0M116.3 243.3h0M133.2 242.4h0M135.6 238.9h0M126.6 235.7h0M124.0 225.2h0M120.4 229.5h0M124.1 230.4h0M114.3 236.1h0M133.5 244.3h0M124.2 238.4h0M127.5 227.0h0M113.7 239.2h0M131.8 248.0h0M123.5 242.0h0M127.1 243.8h0M136.3 238.6h0M116.4 235.5h0M118.7 225.7h0M137.0 247.4h0M134.1 246.2h0M124.1 246.4h0M124.3 238.9h0M120.9 236.4h0M126.2 241.7h0M137.0 233.6h0M133.2 231.0h0M114.3 232.1h0M120.9 247.7h0M113.9 236.6h0M120.4 238.6h0M127.9 233.7h0M132.8 224.1h0M120.1 246.8h0M119.7 241.1h0M118.9 242.4h0M123.4 237.9h0M123.8 227.1h0M127.5 239.8h0M137.4 227.6h0M134.0 230.1h0M133.3 237.9h0M114.4 235.2h0M114.3 231.1h0M132.1 247.0h0M130.7 226.0h0M120.1 225.8h0M131.0 238.3h0M119.5 231.0h0M123.9 234.6h0M123.9 242.1h0M130.5 239.0h0M119.7 228.3h0M120.9 245.9h0M126.2 245.7h0M132.7 242.9h0M131.3 230.9h0M132.6 241.0h0M123.6 234.0h0M133.9 235.8h0M119.4 239.9h0M122.6 241.9h0M121.3 243.2h0M126.9 234.3h0M133.0 227.2h0M121.1 232.2h0M119.6 235.8h0M119.3 244.1h0M132.3 241.1h0M120.1 241.7h0M133.0 235.8h0M123.6 233.9h0M123.4 247.0h0M122.7 234.0h0M130.6 245.6h0M122.2 228.7h0M126.4 236.9h0M119.7 234.3h0M130.3 230.8h0M133.8 239.7h0M135.0 224.2h0M134.2 232.7h0M126.5 226.2h0M127.4 226.3h0M124.1 236.6h0M119.8 247.2h0M123.4 227.0h0M120.9 239.1h0M120.2 241.1h0M126.2 239.1h0M119.3 242.1h0M135.6 225.4h0M132.9 227.4h0M132.9 236.6h0M123.8 243.0h0M134.8 243.8h0M127.2 224.2h0M125.7 225.5h0M126.2 235.6h0M128.7 239.1h0M132.9 247.5h0M127.7 225.1h0M124.3 238.4h0M134.0 244.1h0M123.7 230.1h0M135.2 233.4h0M123.3 245.5h0M115.2 224.4h0M132.9 245.4h0M120.3 242.8h0M125.5 261.0h0M125.3 255.9h0M118.0 267.9h0M125.1 258.5h0M133.1 250.5h0M113.6 262.4h0M124.5 267.6h0M136.9 266.2h0M134.2 248.4h0M127.4 259.3h0M118.0 257.8h0M122.2 250.5h0M122.1 268.7h0M125.9 257.3h0M125.9 249.2h0M118.3 258.5h0M112.4 261.7h0M124.1 259.6h0M130.0 262.2h0M126.4 251.1h0M125.6 270.1h0M116.0 253.2h0M128.8 249.6h0M117.7 262.5h0M125.6 268.1h0M113.3 252.2h0M125.8 255.4h0M132.3 258.7h0M131.4 257.8h0M137.3 257.7h0M112.6 257.9h0M117.6 265.2h0M117.4 255.2h0M127.4 268.2h0M136.9 263.8h0M123.7 250.4h0M127.7 260.4h0M126.3 253.4h0M113.7 268.2h0M125.6 258.5h0M121.5 254.4h0M133.3 271.0h0M137.1 263.8h0M124.0 265.4h0M131.3 271.0h0M115.9 260.6h0M121.9 262.7h0M121.4 254.4h0M117.5 264.3h0M124.4 270.3h0M126.1 259.2h0M132.9 253.0h0M126.1 269.3h0M112.9 259.2h0M117.8 255.7h0M126.0 265.2h0M124.2 254.3h0M122.0 266.5h0M117.7 265.2h0M125.4 257.7h0M124.1 268.9h0M125.9 248.4h0M127.5 253.3h0M137.1 270.8h0M113.8 249.6h0M137.8 271.5h0M125.9 255.0h0M125.3 263.7h0M125.6 265.5h0M121.9 269.3h0M125.7 258.0h0M133.9 263.3h0M123.2 255.0h0M136.7 264.9h0M122.3 256.4h0M126.0 259.3h0M113.4 269.0h0M124.2 265.4h0M122.0 264.7h0M122.3 248.4h0M126.0 270.9h0M126.0 252.2h0M133.6 258.6h0M117.3 258.2h0M113.3 251.4h0M133.4 257.7h0M126.2 257.2h0M137.1 259.3h0M122.4 268.9h0M127.4 253.4h0M133.3 271.4h0M125.3 255.8h0M138.1 260.7h0M123.7 251.7h0M126.1 261.7h0M124.3 251.5h0M137.4 268.0h0M124.3 271.2h0M137.2 251.5h0M126.5 270.3h0M122.5 269.9h0M126.6 251.7h0M114.5 250.5h0M137.3 269.0h0M113.7 268.2h0M125.1 261.4h0M117.8 257.1h0M133.9 271.5h0M118.0 271.8h0M125.3 248.2h0M138.0 248.2h0M123.6 249.2h0M112.8 267.4h0M118.3 251.3h0M138.5 116.3h0M138.3 116.6h0M138.1 134.8h0M138.0 138.7h0M137.8 152.5h0M138.4 157.0h0M137.8 159.6h0M137.7 150.9h0M138.1 158.4h0M137.9 138.3h0M138.2 129.5h0M137.9 141.4h0M138.4 139.8h0M138.3 146.3h0M138.4 269.1h0" stroke="#FFA100"/>
<path d="M111.1 273.8H138.5" stroke="#FFA100" stroke-linecap="butt"/>
<path d="M141.0 101.0h0M141.0 107.0h0M149.2 85.2h0M149.2 88.2h0M149.2 91.3h0M149.2 94.4h0M138.9 100.1h0M140.4 104.2h0M142.0 100.6h0M138.8 222.2h0M138.5 211.5h0M139.1 214.8h0M139.0 217.5h0M139.1 199.7h0M139.0 213.2h0M138.7 201.1h0M138.8 192.1h0M138.6 271.4h0M139.0 253.4h0M138.8 269.1h0M139.7 112.5h0M142.9 123.0h0M144.5 115.8h0M142.5 114.1h0M144.3 121.7h0M143.1 118.0h0M144.0 122.3h0M139.6 126.2h0M143.9 110.0h0M141.1 119.3h0M139.9 126.2h0M141.5 110.7h0M142.8 123.0h0M144.1 112.4h0M141.8 116.4h0M142.3 121.6h0M142.3 111.8h0M144.3 124.6h0M144.3 111.2h0M142.9 120.1h0M142.3 110.3h0M142.7 125.8h0M147.0 115.6h0M148.4 107.8h0M151.2 109.0h0M148.4 123.1h0M145.9 100.4h0M147.7 121.0h0M148.9 106.8h0M151.3 106.7h0M147.9 123.3h0M148.0 103.7h0M150.9 106.7h0M147.2 121.9h0M149.8 105.6h0M147.1 124.1h0M146.8 102.9h0M145.9 114.5h0M147.9 98.3h0M146.7 111.6h0M151.7 115.6h0M146.7 119.4h0M148.5 101.9h0M146.6 116.8h0M147.3 126.2h0M148.1 95.4h0M148.0 105.7h0M147.1 96.9h0M147.4 123.9h0M147.8 106.1h0M148.2 106.7h0M147.0 104.2h0M151.7 100.4h0M147.1 102.3h0M148.3 111.6h0M146.6 113.4h0M151.5 96.6h0M146.7 103.8h0M152.7 157.3h0M145.5 145.4h0M143.3 132.9h0M140.6 136.9h0M143.4 158.4h0M150.9 130.0h0M140.5 139.6h0M144.0 138.6h0M146.1 148.2h0M150.0 133.5h0M141.5 156.6h0M140.6 131.7h0M149.3 154.3h0M140.7 149.6h0M140.0 150.3h0M140.3 152.7h0M148.9 156.4h0M144.0 138.6h0M141.0 157.4h0M150.6 156.0h0M143.5 156.6h0M143.1 147.9h0M149.0 141.1h0M151.7 141.2h0M143.7 157.2h0M143.2 128.2h0M143.3 131.2h0M149.4 140.2h0M154.6 155.3h0M151.1 152.6h0M146.3 154.6h0M140.4 148.3h0M144.9 141.1h0M148.9 136.1h0M143.3 135.9h0M144.1 148.9h0M148.3 144.6h0M148.9 153.3h0M140.7 158.7h0M144.7 134.7h0M140.5 145.6h0M146.5 145.5h0M154.6 152.6h0M141.9 158.9h0M143.0 128.4h0M152.0 151.8h0M143.4 130.3h0M141.9 156.0h0M140.4 135.9h0M142.7 132.0h0M140.5 151.9h0M140.1 154.6h0M141.8 136.7h0M143.0 153.9h0M150.5 137.5h0M149.4 158.6h0M140.4 147.0h0M142.7 152.4h0M152.1 135.0h0M143.6 129.6h0M139.7 130.0h0M151.3 148.4h0M140.3 130.5h0M143.9 142.6h0M149.1 152.5h0M140.7 154.0h0M149.2 154.4h0M147.0 136.2h0M149.6 147.3h0M148.4 145.8h0M140.0 152.8h0M149.3 152.6h0M151.5 136.7h0M154.5 131.1h0M140.5 147.0h0M152.1 152.3h0M140.3 147.2h0M140.4 148.4h0M153.0 129.4h0M149.1 137.9h0M151.8 156.0h0M140.5 129.5h0M143.1 151.8h0M143.1 150.3h0M140.7 146.7h0M142.9 152.4h0M143.1 137.1h0M149.4 138.6h0M153.7 141.8h0M140.3 137.5h0M139.2 147.6h0M149.4 131.7h0M143.6 129.5h0M144.9 164.6h0M154.5 188.8h0M154.3 161.0h0M145.7 189.0h0M154.6 178.3h0M154.9 173.5h0M146.6 170.8h0M148.3 180.0h0M154.8 169.1h0M146.1 184.3h0M144.5 191.9h0M154.9 172.4h0M146.4 166.0h0M154.1 174.5h0M148.5 175.1h0M155.3 162.3h0M145.7 170.8h0M152.1 169.5h0M155.5 189.5h0M145.3 165.4h0M146.9 166.1h0M155.4 183.8h0M145.7 163.3h0M154.7 181.0h0M145.6 184.5h0M142.0 189.0h0M145.3 179.3h0M146.4 182.9h0M148.7 183.9h0M148.1 164.5h0M151.8 181.9h0M146.4 166.4h0M154.6 189.4h0M154.2 165.7h0M142.7 175.1h0M149.1 173.3h0M145.0 182.6h0M148.6 181.5h0M154.2 166.0h0M145.8 182.5h0M154.9 189.0h0M146.2 169.8h0M155.0 162.7h0M145.8 185.6h0M148.2 181.2h0M146.5 179.8h0M151.2 187.9h0M146.5 160.7h0M152.6 168.2h0M145.4 183.5h0M154.5 191.5h0M147.0 163.3h0M145.9 175.9h0M154.1 166.9h0M144.5 178.0h0M148.2 168.8h0M141.2 171.6h0M145.6 178.6h0M154.6 186.7h0M142.2 181.2h0M153.1 185.2h0M149.8 190.3h0M144.2 182.9h0M147.8 182.3h0M146.9 176.1h0M147.7 187.6h0M154.8 191.7h0M145.5 186.2h0M152.1 173.3h0M145.6 168.6h0M152.6 167.0h0M154.6 179.5h0M145.2 160.1h0M150.7 179.7h0M155.5 191.6h0M149.6 181.2h0M145.6 180.8h0M146.6 180.2h0M155.2 176.9h0M147.9 181.7h0M154.8 162.4h0M146.5 190.6h0M154.8 182.4h0M154.9 177.0h0M146.8 186.3h0M148.8 170.6h0M155.0 180.3h0M154.8 183.6h0M153.7 162.6h0M146.6 189.4h0M154.6 160.4h0M141.7 186.9h0M140.8 187.0h0M145.7 166.2h0M148.1 189.3h0M141.8 187.2h0M148.0 161.6h0M144.9 179.1h0M145.7 168.4h0M154.0 168.9h0M148.0 169.2h0M142.5 177.3h0M148.1 167.7h0M153.1 187.9h0M147.8 186.4h0M154.1 190.0h0M146.2 180.9h0M154.5 182.8h0M145.4 164.9h0M154.2 169.7h0M144.3 167.1h0M146.5 175.9h0M145.8 188.3h0M146.0 182.0h0M155.2 172.7h0M150.3 163.4h0M144.8 218.9h0M144.4 207.6h0M143.9 210.9h0M143.3 194.5h0M144.6 194.4h0M144.2 210.3h0M144.0 217.4h0M144.8 222.6h0M141.7 194.5h0M140.9 205.3h0M140.7 217.5h0M141.1 219.4h0M154.1 207.7h0M155.0 202.1h0M145.2 212.1h0M146.2 194.1h0M154.4 216.0h0M155.5 209.7h0M146.5 205.5h0M155.5 197.3h0M145.8 222.3h0M153.1 220.4h0M151.2 217.1h0M146.1 219.3h0M152.8 213.3h0M155.0 195.4h0M151.3 222.8h0M155.4 215.7h0M150.7 204.5h0M146.4 216.9h0M145.1 214.8h0M148.8 209.8h0M150.7 198.8h0M154.5 195.6h0M154.9 201.7h0M149.1 212.3h0M154.0 204.9h0M145.7 202.7h0M154.8 206.3h0M150.8 200.1h0M146.0 214.6h0M154.2 223.0h0M152.0 213.7h0M144.8 223.2h0M154.2 223.0h0M145.3 211.1h0M152.6 214.9h0M151.2 200.4h0M153.8 222.3h0M145.1 202.7h0M153.0 197.0h0M146.2 199.7h0M154.8 203.7h0M155.0 199.3h0M151.5 193.3h0M155.2 223.5h0M145.6 205.3h0M155.2 201.5h0M154.4 219.4h0M154.6 219.9h0M151.4 201.1h0M153.4 195.5h0M151.2 201.6h0M153.9 211.1h0M151.7 220.3h0M154.6 203.0h0M154.6 209.0h0M154.3 205.3h0M147.9 224.0h0M145.6 215.8h0M154.8 209.9h0M154.1 198.8h0M155.5 216.1h0M145.9 222.8h0M151.4 195.9h0M152.4 195.9h0M155.1 216.2h0M154.8 199.5h0M150.7 215.6h0M151.0 202.1h0M155.2 208.5h0M151.2 205.2h0M150.9 216.5h0M153.3 206.0h0M149.3 204.5h0M154.8 211.3h0M146.2 194.1h0M154.4 201.9h0M149.1 223.3h0M145.2 202.9h0M154.7 216.5h0M145.5 208.1h0M154.0 206.2h0M155.1 205.2h0M153.7 196.4h0M154.9 205.8h0M151.4 210.0h0M155.3 220.9h0M151.2 208.1h0M154.5 215.5h0M147.8 204.7h0M155.0 202.4h0M150.8 200.2h0M146.9 214.2h0M145.4 197.4h0M154.0 216.2h0M154.5 221.0h0M154.7 217.8h0M146.3 192.6h0M145.5 192.9h0M154.4 216.4h0M155.3 195.2h0M153.9 200.1h0M154.7 195.2h0M147.7 209.7h0M155.2 217.2h0M145.9 220.1h0M154.0 223.1h0M145.6 194.2h0M145.6 222.0h0M155.2 197.4h0M146.5 203.1h0M154.4 195.9h0M154.0 215.5h0M147.4 206.2h0M151.5 202.3h0M146.2 192.5h0M154.2 209.7h0M149.0 204.5h0M154.3 220.6h0M153.4 193.5h0M151.6 212.0h0M140.4 224.2h0M152.6 245.6h0M151.4 245.8h0M152.0 242.9h0M154.1 237.4h0M149.8 234.7h0M150.2 242.0h0M147.1 246.0h0M139.5 234.8h0M138.7 230.1h0M141.5 227.0h0M147.3 234.3h0M147.0 235.1h0M151.7 239.1h0M145.0 228.0h0M144.1 244.4h0M151.8 239.1h0M149.1 247.1h0M149.6 232.8h0M154.5 231.0h0M150.1 231.9h0M139.4 225.4h0M142.8 242.9h0M146.9 236.5h0M139.4 224.2h0M144.9 237.5h0M152.5 225.2h0M139.3 236.5h0M147.2 243.6h0M147.7 230.8h0M144.3 233.9h0M145.1 236.7h0M139.3 232.2h0M149.7 244.1h0M146.9 228.7h0M139.0 225.5h0M139.1 243.9h0M139.6 240.4h0M144.6 229.8h0M147.4 234.3h0M152.5 242.6h0M144.4 246.4h0M138.7 230.6h0M147.8 238.0h0M155.6 242.5h0M146.3 237.7h0M139.0 228.4h0M151.5 240.9h0M148.3 224.5h0M148.0 247.0h0M149.9 232.9h0M146.8 237.4h0M144.6 229.1h0M141.5 240.9h0M142.9 258.6h0M148.5 248.0h0M146.7 256.4h0M142.9 271.6h0M143.7 255.4h0M153.2 259.9h0M150.9 253.0h0M155.4 250.0h0M143.1 268.2h0M153.1 250.3h0M152.4 260.1h0M144.0 264.7h0M151.7 257.9h0M144.7 266.5h0M147.0 250.1h0M143.2 255.7h0M146.7 268.3h0M153.2 268.2h0M145.3 253.3h0M147.3 263.8h0M146.9 251.2h0M147.1 253.7h0M152.7 265.8h0M152.6 253.9h0M147.4 251.3h0M149.4 272.0h0M153.3 266.4h0M142.8 261.7h0M142.7 254.7h0M155.6 271.3h0M155.1 259.1h0M147.1 269.9h0M154.0 262.1h0M147.2 267.0h0M147.2 260.1h0M154.2 262.0h0M143.7 257.2h0M143.0 260.2h0M143.0 263.6h0M151.9 256.9h0M152.8 250.1h0M153.1 271.8h0M147.0 266.4h0M147.6 251.9h0M140.5 267.7h0M147.1 255.7h0M148.5 259.5h0M147.0 249.0h0M153.3 269.4h0M146.5 256.4h0M152.7 254.9h0M152.2 260.9h0M153.2 253.0h0M147.5 264.9h0M147.5 255.5h0M143.3 261.9h0M142.9 255.9h0M153.2 254.7h0M154.2 250.9h0M149.6 257.6h0M141.9 257.6h0M153.1 256.6h0M147.1 254.7h0M152.6 248.9h0M149.5 251.3h0M143.2 261.3h0M147.0 263.5h0M152.2 268.8h0M147.5 258.6h0M154.8 251.2h0M150.6 249.0h0M155.6 259.4h0M155.5 260.0h0" stroke="#FFF200"/>
<path d="M138.5 273.8H155.7" stroke="#FFF200" stroke-linecap="butt"/>
<path d="M161.4 101.6h0M161.4 103.2h0M174.1 110.3h0M175.2 119.5h0M173.1 122.6h0M155.9 191.1h0M163.7 118.1h0M159.8 120.5h0M162.2 123.0h0M165.3 121.4h0M159.4 124.0h0M163.0 125.7h0M158.4 128.8h0M156.6 157.7h0M155.9 128.0h0M161.6 133.3h0M162.1 129.8h0M161.0 140.3h0M161.8 132.9h0M164.2 140.4h0M159.0 138.4h0M163.4 144.9h0M163.3 153.5h0M164.9 140.0h0M164.6 156.1h0M163.5 144.5h0M161.8 129.9h0M164.3 142.8h0M165.1 152.6h0M163.9 130.4h0M163.4 147.7h0M164.2 137.7h0M164.4 129.6h0M163.9 146.3h0M161.4 156.5h0M160.7 135.2h0M163.3 131.6h0M165.0 139.5h0M162.2 146.9h0M162.7 157.2h0M164.8 158.9h0M162.2 134.5h0M164.3 137.9h0M161.3 128.7h0M162.9 156.1h0M160.9 159.8h0M165.0 131.0h0M163.0 136.3h0M163.6 145.8h0M159.4 147.2h0M162.2 130.1h0M159.0 133.0h0M160.2 150.7h0M163.8 145.9h0M164.1 147.0h0M161.6 138.9h0M161.6 158.8h0M164.1 147.5h0M163.8 158.9h0M164.2 153.6h0M164.8 150.4h0M160.9 155.3h0M163.3 130.3h0M170.9 132.9h0M172.2 132.8h0M176.1 159.2h0M171.8 152.4h0M174.9 151.4h0M172.0 145.9h0M175.6 143.2h0M175.2 154.3h0M175.8 149.0h0M172.1 145.7h0M172.4 145.7h0M175.5 146.7h0M172.0 130.3h0M175.0 133.8h0M172.2 128.7h0M172.4 139.8h0M170.6 142.6h0M175.4 156.1h0M171.8 141.9h0M172.5 158.7h0M173.1 149.3h0M171.4 134.8h0M175.1 151.7h0M171.7 139.9h0M175.8 137.4h0M172.0 150.1h0M171.8 145.9h0M171.4 141.2h0M168.1 134.5h0M169.5 128.6h0M168.6 128.5h0M173.1 127.8h0M172.7 144.7h0M172.7 135.4h0M168.6 130.2h0M172.1 153.7h0M169.8 156.9h0M173.4 150.8h0M174.0 159.4h0M169.0 130.9h0M175.5 156.7h0M173.0 137.2h0M172.9 152.5h0M174.0 150.4h0M172.4 142.5h0M171.9 154.4h0M174.8 139.0h0M175.5 146.9h0M171.5 155.2h0M175.8 135.3h0M171.0 155.6h0M173.5 128.2h0M172.3 145.0h0M171.8 141.8h0M172.6 142.0h0M174.5 131.8h0M169.7 142.3h0M176.3 133.3h0M172.1 155.9h0M169.7 130.2h0M159.2 168.0h0M161.0 190.5h0M161.2 177.0h0M160.9 182.9h0M156.5 184.0h0M163.9 186.7h0M160.7 187.3h0M156.4 170.4h0M161.1 180.2h0M161.3 186.4h0M161.2 187.2h0M161.0 172.4h0M157.4 169.8h0M161.0 186.7h0M161.1 179.8h0M157.3 188.4h0M157.2 166.9h0M160.8 181.4h0M159.4 160.6h0M162.9 169.8h0M161.7 171.2h0M161.3 185.8h0M163.3 168.2h0M161.2 166.8h0M161.0 172.7h0M160.6 179.9h0M157.2 180.7h0M156.8 176.1h0M156.9 181.0h0M163.8 183.1h0M160.7 162.5h0M161.9 184.2h0M159.0 176.8h0M161.6 170.9h0M161.2 189.6h0M160.5 162.5h0M159.0 165.0h0M161.8 190.0h0M160.7 165.1h0M159.8 178.7h0M161.3 185.0h0M162.8 160.2h0M160.4 183.7h0M161.3 163.2h0M160.6 179.4h0M156.8 177.8h0M160.1 185.9h0M161.0 168.8h0M168.1 190.3h0M169.0 162.1h0M167.3 181.7h0M168.5 189.6h0M169.1 166.7h0M168.9 162.1h0M173.4 175.0h0M172.1 187.6h0M171.0 170.8h0M172.6 182.4h0M170.1 182.9h0M172.0 164.1h0M174.1 189.5h0M174.0 167.4h0M173.4 191.0h0M176.9 170.4h0M172.7 162.8h0M170.3 166.4h0M175.1 166.3h0M172.4 164.3h0M171.6 177.0h0M173.3 172.0h0M172.9 190.0h0M172.6 176.5h0M172.5 169.0h0M170.3 184.5h0M171.8 163.4h0M173.8 189.2h0M173.6 165.1h0M171.1 186.7h0M174.0 177.5h0M173.0 191.2h0M173.3 180.7h0M173.6 183.5h0M172.6 161.8h0M172.4 174.9h0M172.0 163.9h0M173.6 182.8h0M171.0 172.7h0M172.1 182.2h0M171.2 167.3h0M170.9 183.1h0M173.3 165.9h0M171.1 169.9h0M174.5 167.0h0M175.2 190.9h0M173.0 162.0h0M172.5 172.9h0M171.1 187.5h0M171.1 188.1h0M170.8 167.8h0M172.1 180.5h0M171.6 162.7h0M173.6 181.2h0M172.9 181.1h0M173.5 191.8h0M171.1 169.9h0M172.2 172.9h0M172.0 188.6h0M172.8 167.9h0M171.5 190.0h0M171.2 173.1h0M173.7 173.5h0M174.6 184.7h0M170.8 165.9h0M176.7 181.7h0M176.3 176.5h0M171.9 185.4h0M170.1 161.7h0M162.1 215.7h0M161.3 198.5h0M161.0 201.1h0M161.9 220.6h0M159.1 206.2h0M159.3 217.7h0M159.3 195.5h0M161.2 204.5h0M159.5 210.1h0M159.4 196.2h0M161.4 220.8h0M159.4 202.0h0M161.4 208.0h0M161.4 196.6h0M159.8 216.1h0M159.2 214.4h0M157.3 213.9h0M157.5 219.8h0M160.9 208.9h0M157.7 192.4h0M160.1 214.7h0M157.9 208.0h0M159.4 220.7h0M159.9 207.3h0M160.0 213.5h0M161.9 213.9h0M159.2 204.8h0M162.6 192.3h0M167.4 209.9h0M165.5 216.9h0M164.0 206.3h0M167.8 203.0h0M166.7 221.7h0M163.9 211.2h0M163.8 215.6h0M162.6 222.9h0M163.9 192.7h0M163.0 201.3h0M163.2 214.8h0M167.2 196.1h0M168.6 206.4h0M167.0 204.2h0M165.5 220.4h0M164.4 218.2h0M167.1 194.9h0M166.2 195.9h0M164.5 195.1h0M163.2 192.4h0M169.0 215.1h0M166.2 213.6h0M169.8 220.6h0M163.3 215.5h0M162.4 223.0h0M167.6 203.7h0M163.8 222.3h0M164.3 193.0h0M164.5 205.5h0M176.3 203.3h0M173.5 211.4h0M174.2 214.1h0M174.5 220.1h0M173.8 195.3h0M174.0 218.0h0M175.8 192.7h0M174.4 207.6h0M173.8 201.7h0M174.6 209.3h0M174.7 195.3h0M174.0 194.5h0M174.2 205.2h0M176.0 210.3h0M175.9 194.5h0M176.5 219.6h0M174.0 214.0h0M175.8 220.5h0M173.8 216.7h0M176.1 216.8h0M176.7 220.7h0M174.0 199.0h0M174.6 196.5h0M175.8 196.4h0M176.1 202.7h0M175.2 200.7h0M175.8 201.1h0M176.6 197.9h0M173.7 209.5h0M174.6 198.8h0M174.5 200.6h0M175.0 210.9h0M174.7 216.7h0M174.5 202.5h0M175.8 194.1h0M174.7 212.4h0M173.1 201.3h0M175.7 220.8h0M175.8 219.8h0M172.6 212.4h0M175.2 212.5h0M176.2 202.6h0M174.8 208.0h0M176.0 198.5h0M174.5 214.4h0M173.8 201.5h0M176.1 204.7h0M176.6 202.9h0M173.3 214.5h0M174.6 203.7h0M172.9 198.1h0M174.1 204.5h0M174.8 207.0h0M176.2 202.6h0M174.8 201.9h0M174.7 197.5h0M174.3 206.8h0M174.6 207.9h0M174.2 219.8h0M175.9 194.1h0M175.2 194.7h0M176.1 207.4h0M175.2 217.7h0M175.9 199.1h0M173.3 222.7h0M175.5 203.5h0M174.9 202.8h0M174.9 196.5h0M171.5 202.7h0M175.8 214.1h0M175.9 206.4h0M176.1 200.8h0M176.1 222.8h0M175.6 216.1h0M174.5 212.6h0M175.7 207.2h0M175.9 199.7h0M174.0 195.7h0M176.3 218.1h0M173.8 222.2h0M176.5 203.4h0M175.7 192.5h0M176.1 195.7h0M171.1 197.5h0M174.1 192.4h0M174.3 208.1h0M175.7 217.0h0M176.0 203.2h0M172.3 211.1h0M175.3 200.9h0M158.1 254.8h0M159.1 226.2h0M161.7 232.1h0M158.3 224.3h0M162.6 247.4h0M158.4 230.4h0M158.6 255.7h0M158.6 250.3h0M158.5 229.2h0M160.4 253.9h0M158.6 249.5h0M158.2 248.3h0M158.0 253.8h0M158.9 231.6h0M158.2 255.2h0M159.3 244.2h0M159.6 241.6h0M159.1 244.5h0M158.5 239.8h0M160.6 239.0h0M158.4 243.7h0M158.9 229.2h0M156.5 242.7h0M162.0 252.1h0M158.9 249.0h0M160.2 237.5h0M158.9 252.3h0M158.7 227.7h0M158.5 246.8h0M157.9 243.2h0M156.4 254.7h0M156.9 237.4h0M159.3 253.6h0M162.1 243.2h0M158.7 238.3h0M158.8 255.7h0M159.5 240.4h0M158.7 231.0h0M158.7 243.0h0M158.9 246.5h0M158.3 233.8h0M158.6 245.5h0M159.2 244.4h0M158.3 228.8h0M159.4 229.8h0M160.4 231.2h0M158.7 235.0h0M158.8 247.8h0M159.3 230.2h0M158.6 253.8h0M159.5 243.1h0M159.4 244.1h0M157.2 230.5h0M158.7 228.0h0M158.2 253.5h0M160.7 227.1h0M158.9 237.6h0M159.1 252.4h0M159.1 231.2h0M159.1 252.3h0M159.1 226.1h0M156.2 248.5h0M157.9 249.1h0M158.8 225.2h0M159.8 238.4h0M158.7 231.7h0M159.1 225.8h0M162.3 244.4h0M159.6 254.8h0M158.5 253.5h0M162.0 231.6h0M158.0 232.1h0M159.1 252.8h0M156.2 250.8h0M158.4 229.1h0M156.0 235.8h0M158.9 247.5h0M158.2 228.8h0M158.2 224.8h0M157.1 245.9h0M159.4 249.9h0M158.2 234.2h0M159.3 253.8h0M159.3 244.1h0M160.2 236.2h0M158.7 255.2h0M157.4 234.9h0M164.5 248.3h0M166.1 235.6h0M165.3 234.8h0M164.1 227.1h0M166.1 254.9h0M163.1 227.5h0M165.0 240.1h0M163.5 251.1h0M163.6 243.5h0M165.9 253.7h0M165.7 238.7h0M165.4 241.5h0M163.8 230.9h0M166.0 241.4h0M163.9 225.7h0M170.9 253.9h0M173.8 250.8h0M169.5 246.4h0M174.7 250.4h0M169.6 242.2h0M174.4 228.1h0M174.1 234.4h0M170.7 251.1h0M173.8 238.8h0M174.9 244.1h0M174.4 235.9h0M177.0 242.1h0M174.7 228.1h0M174.2 233.3h0M170.1 230.0h0M174.2 227.6h0M171.2 236.7h0M170.7 237.5h0M170.3 243.9h0M175.3 243.3h0M174.2 254.1h0M171.7 246.4h0M169.3 249.8h0M173.0 229.4h0M170.8 225.9h0M170.4 231.1h0M170.6 230.9h0M174.4 239.1h0M170.7 240.4h0M175.7 236.1h0M174.8 247.2h0M175.5 229.2h0M169.5 252.9h0M166.9 257.7h0M165.7 271.7h0M162.9 261.6h0M156.2 265.3h0M164.6 261.3h0M174.5 257.3h0M155.8 266.3h0M164.1 269.1h0M156.6 270.2h0M162.0 264.6h0M158.1 267.4h0M169.0 269.7h0M162.6 260.1h0M155.8 262.0h0M164.9 257.4h0M160.3 258.3h0M160.5 257.6h0M157.3 259.7h0M157.6 267.3h0M155.9 265.1h0M158.7 256.4h0M158.1 267.6h0M159.7 269.1h0M158.0 257.3h0M174.4 266.3h0M160.0 259.1h0M174.2 261.2h0M171.1 258.6h0M158.2 266.1h0M158.1 261.6h0M173.8 263.5h0M174.4 260.5h0M164.8 256.0h0M162.5 267.3h0M176.1 257.7h0M174.9 269.3h0M170.2 267.2h0M170.9 269.0h0M164.9 256.3h0M169.1 259.4h0M164.4 259.0h0M155.9 258.4h0M164.1 265.4h0M173.5 261.9h0M169.1 256.1h0M160.4 260.6h0M174.6 262.2h0M156.1 268.1h0M159.9 258.6h0M159.1 260.9h0M166.0 262.6h0M162.7 268.7h0M160.1 269.1h0M159.9 271.7h0M162.3 258.3h0" stroke="#BCFF00"/>
<path d="M155.7 273.8H177.2" stroke="#BCFF00" stroke-linecap="butt"/>
<path d="M184.8 77.0h0M181.1 80.0h0M180.1 86.2h0M181.1 90.3h0M184.2 91.3h0M185.2 93.4h0M179.0 199.8h0M178.6 203.0h0M178.6 222.9h0M181.3 112.8h0M181.4 102.3h0M183.4 110.1h0M181.7 126.4h0M182.6 116.3h0M178.8 119.5h0M186.3 118.5h0M185.4 122.6h0M179.5 123.7h0M179.9 110.9h0M179.3 97.3h0M186.9 112.4h0M179.3 108.5h0M178.5 107.4h0M180.8 113.6h0M186.0 114.4h0M179.4 107.5h0M179.0 118.2h0M179.3 103.9h0M179.0 113.8h0M179.1 117.5h0M183.4 101.3h0M183.2 103.3h0M179.0 103.5h0M183.5 125.7h0M183.4 125.4h0M178.9 99.2h0M183.3 119.8h0M186.7 115.1h0M179.7 107.1h0M179.1 113.2h0M182.7 120.6h0M179.1 124.2h0M183.5 110.0h0M186.5 101.2h0M183.5 122.7h0M185.4 118.1h0M179.3 127.0h0M177.9 108.1h0M185.9 124.7h0M179.7 108.2h0M182.1 107.0h0M178.4 101.8h0M183.8 126.9h0M184.9 120.6h0M177.9 110.6h0M179.4 124.1h0M179.4 124.7h0M179.5 98.7h0M181.3 122.2h0M185.7 126.1h0M186.4 117.0h0M185.4 101.1h0M179.4 99.5h0M181.4 115.1h0M181.0 110.1h0M187.5 116.2h0M188.2 121.8h0M181.9 112.7h0M188.0 99.9h0M181.4 136.3h0M180.6 130.5h0M180.3 127.7h0M181.4 150.2h0M178.2 136.1h0M177.5 140.6h0M181.2 153.2h0M187.5 132.9h0M180.5 154.5h0M186.3 159.8h0M187.5 143.1h0M189.8 157.5h0M181.4 154.4h0M178.4 150.8h0M183.5 149.0h0M189.6 159.0h0M187.8 130.2h0M180.2 129.3h0M187.5 137.1h0M180.7 132.0h0M189.7 152.0h0M187.8 135.7h0M178.5 137.1h0M178.6 129.3h0M184.5 127.8h0M177.7 140.7h0M189.5 135.8h0M177.9 139.8h0M177.8 149.0h0M181.8 148.0h0M190.2 133.0h0M178.0 139.3h0M184.1 134.6h0M179.7 151.3h0M189.6 148.2h0M180.4 146.1h0M180.9 137.2h0M178.4 131.7h0M181.6 129.3h0M190.0 159.8h0M190.7 143.7h0M189.1 133.6h0M178.1 134.6h0M181.1 127.7h0M177.8 146.7h0M178.1 154.7h0M189.2 157.3h0M180.0 141.5h0M179.0 130.8h0M189.8 140.3h0M187.9 147.4h0M181.1 149.9h0M177.9 154.4h0M187.4 155.1h0M178.0 137.6h0M178.5 129.9h0M182.6 146.2h0M185.8 144.8h0M178.5 151.5h0M178.9 159.5h0M180.6 149.1h0M178.2 153.4h0M187.8 159.4h0M187.3 138.4h0M187.8 158.2h0M182.9 159.9h0M180.1 151.3h0M178.3 128.7h0M182.7 139.1h0M189.8 138.2h0M182.1 152.0h0M180.6 151.3h0M178.0 135.1h0M181.3 131.0h0M181.1 157.8h0M187.5 153.3h0M182.0 140.6h0M190.1 142.0h0M187.4 128.0h0M181.1 130.7h0M181.6 127.2h0M187.6 128.4h0M187.4 157.0h0M181.6 141.1h0M187.0 134.6h0M181.6 139.9h0M187.8 157.3h0M187.1 155.8h0M181.3 159.4h0M181.1 137.3h0M177.3 127.1h0M179.2 127.4h0M187.6 129.1h0M190.1 149.0h0M181.5 149.7h0M189.4 155.5h0M180.2 154.6h0M189.6 139.5h0M189.7 151.8h0M186.8 150.5h0M181.3 142.2h0M180.5 150.5h0M196.9 150.9h0M195.3 154.0h0M192.5 147.1h0M197.0 159.9h0M197.3 149.0h0M196.4 145.0h0M196.9 150.5h0M195.5 133.2h0M196.7 141.9h0M195.9 133.9h0M196.8 143.4h0M197.5 135.4h0M198.4 142.9h0M197.0 153.6h0M194.8 128.1h0M192.8 153.5h0M195.3 145.4h0M199.2 138.4h0M197.4 140.0h0M199.1 137.7h0M197.0 151.4h0M197.7 158.4h0M196.9 145.3h0M196.9 141.0h0M197.3 153.8h0M196.3 157.0h0M196.3 138.4h0M197.3 148.1h0M195.2 151.3h0M193.9 141.2h0M193.5 149.8h0M197.4 142.0h0M193.0 128.8h0M196.7 128.8h0M196.3 131.0h0M196.6 144.7h0M197.0 129.8h0M197.4 151.3h0M192.8 128.6h0M196.8 136.2h0M196.1 129.2h0M196.1 150.0h0M195.1 136.3h0M195.5 146.1h0M196.8 131.7h0M195.2 127.4h0M196.4 159.7h0M194.0 138.7h0M197.0 142.0h0M193.1 128.9h0M196.8 136.2h0M197.3 140.5h0M196.8 147.6h0M196.9 151.2h0M196.8 135.6h0M197.7 135.6h0M196.9 130.0h0M196.5 129.6h0M196.4 159.3h0M195.1 132.3h0M196.9 136.3h0M196.9 137.8h0M194.1 143.8h0M180.1 183.4h0M179.9 178.6h0M182.6 172.5h0M179.7 184.7h0M180.2 176.4h0M182.0 167.9h0M179.7 179.1h0M180.2 169.2h0M180.6 188.2h0M180.0 169.1h0M179.2 178.1h0M180.0 174.6h0M179.9 163.3h0M180.2 191.1h0M181.7 176.1h0M186.2 179.1h0M178.9 168.4h0M180.0 179.0h0M180.1 177.0h0M182.9 171.1h0M179.6 169.1h0M187.6 189.3h0M179.6 180.2h0M183.1 183.6h0M179.8 189.0h0M180.0 163.7h0M180.1 172.2h0M178.8 189.0h0M180.4 186.0h0M180.3 173.9h0M179.9 180.1h0M180.0 174.3h0M179.9 167.5h0M179.8 160.6h0M182.0 182.6h0M186.8 179.4h0M180.1 190.1h0M184.5 178.2h0M179.9 170.7h0M183.1 190.0h0M180.1 176.4h0M179.9 160.4h0M180.6 185.5h0M180.1 173.8h0M180.2 186.5h0M179.4 172.4h0M186.5 180.6h0M179.1 162.4h0M185.8 165.6h0M180.3 161.2h0M179.4 185.4h0M181.5 162.6h0M186.0 186.0h0M179.4 170.7h0M179.9 163.6h0M179.6 170.2h0M180.0 186.8h0M180.2 173.8h0M179.1 169.4h0M186.1 170.7h0M179.3 166.0h0M179.4 171.3h0M178.7 165.4h0M180.2 180.0h0M180.3 183.7h0M186.7 169.0h0M179.6 171.2h0M180.1 162.4h0M180.0 172.8h0M187.0 177.2h0M179.5 175.3h0M180.1 168.0h0M180.5 185.0h0M179.6 165.9h0M180.1 165.1h0M179.8 162.0h0M178.6 176.0h0M179.6 187.6h0M180.2 178.0h0M180.0 172.9h0M182.9 181.9h0M179.1 164.0h0M179.6 162.4h0M178.8 175.9h0M179.4 169.0h0M180.3 188.1h0M178.7 176.0h0M180.4 175.6h0M180.1 167.2h0M185.0 185.5h0M183.3 188.8h0M182.5 179.0h0M179.8 171.1h0M192.2 191.7h0M194.7 191.2h0M190.6 188.4h0M195.4 172.9h0M194.5 175.0h0M192.8 184.9h0M188.9 173.7h0M195.0 166.7h0M193.7 190.8h0M194.7 161.5h0M195.1 165.8h0M192.9 164.4h0M194.4 170.3h0M193.3 167.7h0M195.2 191.7h0M193.0 182.3h0M193.0 190.4h0M193.9 176.6h0M181.8 199.8h0M180.6 197.5h0M194.6 196.1h0M186.1 192.3h0M185.8 193.4h0M191.4 197.2h0M187.6 199.4h0M182.8 197.1h0M184.3 193.0h0M198.1 192.4h0M191.5 196.3h0M192.1 194.5h0M199.2 199.8h0M191.7 199.3h0M183.1 194.8h0M192.4 194.2h0M184.3 195.0h0M182.2 192.1h0M182.1 193.4h0M187.2 197.0h0M198.6 194.0h0M183.8 192.2h0M191.1 197.8h0M182.9 194.6h0M179.6 196.9h0M182.7 198.6h0M191.2 198.2h0M186.6 196.2h0M189.3 199.3h0M179.4 196.6h0M179.9 194.7h0M182.0 198.7h0M191.2 199.5h0M195.7 199.6h0M186.1 194.1h0M184.1 196.1h0M180.4 200.1h0M180.8 205.5h0M180.5 204.9h0M180.1 200.4h0M180.3 203.9h0M180.8 204.6h0M180.8 210.7h0M180.5 201.9h0M179.7 205.2h0M192.7 213.2h0M193.7 210.4h0M195.0 210.3h0M195.2 203.8h0M193.4 214.6h0M193.4 206.3h0M198.0 200.6h0M199.2 215.0h0M195.5 209.0h0M197.5 204.5h0M196.6 213.6h0M192.9 200.1h0M196.2 201.4h0M193.4 206.6h0M193.3 204.7h0M193.1 203.8h0M194.9 203.7h0M198.9 215.4h0M185.7 218.0h0M194.4 222.3h0M180.9 221.2h0M186.0 221.3h0M188.3 223.0h0M195.1 223.4h0M181.7 223.6h0M188.5 220.8h0M186.4 222.4h0M194.7 217.5h0M192.9 217.9h0M181.9 219.7h0M196.1 221.3h0M188.5 222.2h0M181.7 218.6h0M188.9 222.5h0M179.1 219.7h0M181.6 220.9h0M198.4 220.1h0M195.3 223.7h0M182.3 217.5h0M195.1 218.4h0M187.3 222.5h0M182.4 221.7h0M181.2 217.4h0M182.2 223.1h0M186.7 223.3h0M187.3 220.1h0M182.4 222.8h0M185.2 218.0h0M194.3 220.1h0M193.6 220.8h0M187.6 217.2h0M185.9 219.8h0M179.5 220.2h0M186.0 222.5h0M180.7 248.5h0M182.0 227.4h0M183.0 244.2h0M178.5 224.3h0M182.0 247.2h0M178.3 248.7h0M178.4 243.8h0M178.2 229.3h0M178.5 232.3h0M178.7 235.1h0M182.8 240.2h0M178.0 245.5h0M181.9 244.1h0M184.2 248.3h0M182.4 224.3h0M181.8 249.5h0M179.5 248.1h0M178.4 248.0h0M182.0 244.0h0M181.9 238.1h0M178.4 244.4h0M192.9 234.1h0M196.6 225.1h0M197.3 230.0h0M196.3 261.4h0M194.2 263.9h0M199.1 256.4h0M194.6 270.8h0M193.4 253.8h0M197.4 241.0h0M197.6 246.7h0M199.3 235.0h0M193.5 253.7h0M198.1 239.4h0M194.1 238.0h0M196.8 234.4h0M193.1 270.3h0M196.9 258.0h0M194.4 230.2h0M195.5 248.6h0M193.4 232.3h0M194.3 255.7h0M194.4 267.1h0M191.8 252.8h0M193.4 265.8h0M198.8 245.8h0M192.7 236.2h0M197.2 265.3h0M194.3 255.6h0M194.6 237.4h0M197.7 242.3h0M192.5 262.7h0M194.6 234.9h0M193.2 269.4h0M193.4 268.9h0M193.5 255.2h0M194.3 265.0h0M197.8 268.0h0M198.6 255.9h0M195.5 244.6h0M194.3 245.2h0M191.2 258.7h0M196.9 243.6h0M195.7 252.1h0M197.4 262.2h0M195.9 233.3h0M193.2 252.8h0M192.7 244.2h0M197.1 227.7h0M195.8 237.3h0M194.1 263.6h0M196.7 256.3h0M193.6 254.6h0M192.1 224.5h0M196.8 270.0h0M194.1 231.1h0M194.4 235.9h0M193.0 245.3h0M195.9 267.6h0M195.2 246.9h0M193.1 260.0h0M195.8 268.4h0M196.5 235.0h0M195.7 234.3h0M195.5 271.9h0M192.8 271.1h0M196.1 238.1h0M197.1 226.6h0M194.3 240.9h0M196.9 231.8h0M193.0 238.1h0M193.0 259.2h0M193.9 245.0h0M197.4 245.1h0M197.3 270.2h0M197.1 239.7h0M196.9 231.9h0M192.8 258.1h0M194.8 248.9h0M190.6 249.2h0M192.8 254.1h0M197.6 270.5h0M194.8 246.2h0M196.2 236.9h0M195.3 263.0h0M196.5 239.1h0M197.7 271.8h0M193.2 251.3h0M199.2 240.4h0M196.8 269.2h0M193.4 253.6h0M196.2 267.5h0M193.1 260.5h0M197.8 234.0h0M196.4 251.2h0M197.9 255.9h0M198.6 253.7h0M198.1 254.8h0M197.2 264.1h0M197.5 224.3h0M183.8 262.1h0M179.9 257.0h0M188.1 269.2h0M199.1 111.7h0M198.9 120.9h0M199.0 179.3h0M198.9 189.4h0M198.8 163.3h0M199.5 222.7h0" stroke="#6BFF00"/>
<path d="M177.2 273.8H199.5" stroke="#6BFF00" stroke-linecap="butt"/>
<path d="M216.3 69.9h0M215.9 84.2h0M216.9 87.2h0M214.9 90.3h0M218.0 91.3h0M221.0 92.3h0M201.6 89.3h0M202.6 91.3h0M206.7 91.3h0M209.7 91.3h0M208.7 93.4h0M199.9 99.9h0M200.0 107.9h0M200.2 111.3h0M202.1 122.0h0M199.8 102.1h0M203.7 126.1h0M201.7 109.1h0M203.4 113.7h0M203.9 102.2h0M199.7 112.8h0M201.5 122.8h0M201.8 105.0h0M202.3 113.1h0M204.1 124.1h0M201.7 105.0h0M202.3 102.7h0M201.0 107.3h0M204.3 101.1h0M201.5 104.1h0M199.8 119.6h0M202.2 105.1h0M200.6 118.5h0M199.8 125.8h0M205.0 103.9h0M204.2 114.6h0M208.2 125.2h0M209.9 106.2h0M209.7 112.3h0M207.9 114.4h0M209.9 107.2h0M208.9 106.7h0M208.9 116.1h0M208.7 115.0h0M208.7 120.5h0M217.0 118.1h0M216.8 119.0h0M217.3 110.6h0M216.2 105.3h0M218.6 126.3h0M215.8 113.6h0M215.7 95.7h0M218.8 119.1h0M212.9 122.4h0M219.5 99.6h0M216.5 126.7h0M214.1 110.9h0M216.9 96.4h0M215.6 114.2h0M218.6 125.5h0M218.1 109.6h0M216.3 98.7h0M217.1 99.0h0M216.0 123.1h0M217.3 109.1h0M216.8 97.5h0M213.0 116.8h0M216.7 104.3h0M216.9 106.9h0M216.1 96.8h0M216.4 101.9h0M216.7 124.4h0M215.9 106.3h0M215.9 106.5h0M216.2 118.7h0M215.4 116.9h0M216.5 123.0h0M217.4 125.0h0M212.9 103.2h0M213.5 118.4h0M217.0 107.3h0M220.0 101.7h0M215.6 98.5h0M215.8 104.4h0M215.8 116.9h0M219.7 104.5h0M215.7 114.8h0M216.7 98.4h0M215.7 125.0h0M216.8 109.4h0M214.1 125.3h0M217.8 122.8h0M216.1 106.7h0M213.7 122.9h0M219.0 101.0h0M215.8 104.1h0M216.9 114.7h0M214.9 99.8h0M215.8 112.6h0M204.8 141.4h0M202.7 148.2h0M202.5 146.7h0M204.2 138.4h0M201.8 141.5h0M205.5 129.8h0M204.3 145.7h0M201.6 141.7h0M200.5 139.6h0M204.4 140.8h0M201.6 140.4h0M205.1 139.6h0M204.8 140.7h0M203.0 135.6h0M202.7 148.2h0M200.7 148.6h0M201.9 131.0h0M202.6 146.4h0M200.6 155.6h0M200.5 159.4h0M201.7 156.7h0M214.0 132.0h0M213.2 127.0h0M212.3 157.9h0M207.7 148.7h0M213.9 156.5h0M214.1 130.8h0M208.2 154.8h0M208.4 159.6h0M210.4 138.5h0M211.8 132.1h0M212.7 135.5h0M214.6 139.7h0M220.5 159.8h0M220.8 129.7h0M214.5 147.8h0M211.3 140.4h0M212.8 158.3h0M213.8 146.0h0M212.7 135.8h0M212.4 157.6h0M220.8 127.5h0M219.7 136.4h0M209.4 133.2h0M212.1 153.8h0M212.3 145.9h0M213.9 146.7h0M207.2 151.0h0M220.1 159.5h0M208.7 130.0h0M208.3 146.5h0M208.6 132.6h0M209.1 144.8h0M207.7 134.2h0M220.7 143.9h0M212.4 159.1h0M218.9 153.7h0M208.0 140.2h0M211.7 151.1h0M212.1 148.7h0M221.2 137.2h0M219.9 139.5h0M210.9 151.0h0M211.8 159.3h0M209.2 155.4h0M220.5 160.0h0M213.0 159.3h0M208.2 158.2h0M212.2 158.2h0M212.5 147.0h0M216.4 128.5h0M208.7 132.9h0M206.2 139.4h0M213.8 158.9h0M212.6 157.0h0M211.4 132.6h0M210.4 148.8h0M213.7 154.3h0M211.8 134.2h0M213.8 135.8h0M212.3 127.2h0M220.7 151.5h0M207.5 127.1h0M220.9 144.5h0M213.4 131.5h0M215.0 152.2h0M212.1 148.0h0M207.4 150.5h0M221.0 147.8h0M211.5 151.6h0M211.8 153.9h0M212.4 143.2h0M212.2 132.7h0M211.6 149.9h0M208.2 139.4h0M207.7 154.2h0M215.0 149.1h0M212.8 127.1h0M208.9 137.9h0M213.3 134.0h0M214.0 128.3h0M217.0 132.9h0M213.0 143.5h0M221.9 154.3h0M222.5 136.4h0M200.1 173.2h0M199.5 163.0h0M201.2 164.1h0M201.1 187.3h0M200.9 169.5h0M201.7 169.3h0M201.0 182.4h0M203.2 163.1h0M200.9 166.4h0M200.5 174.3h0M200.3 182.0h0M201.7 167.0h0M199.9 189.4h0M199.6 177.8h0M200.4 188.4h0M200.4 183.8h0M200.2 190.4h0M200.6 164.2h0M199.7 178.8h0M202.5 188.2h0M203.2 170.1h0M200.2 165.6h0M202.4 176.1h0M200.3 190.6h0M200.8 182.0h0M199.8 183.3h0M200.1 162.6h0M200.4 171.7h0M201.1 176.0h0M201.1 182.4h0M200.7 170.0h0M200.1 191.3h0M199.8 171.4h0M200.7 176.6h0M201.0 160.7h0M199.9 175.3h0M204.8 176.6h0M205.1 165.7h0M206.6 191.3h0M206.2 167.1h0M205.4 181.8h0M207.3 175.6h0M220.2 164.9h0M210.4 168.9h0M219.2 177.1h0M218.8 162.0h0M219.8 178.1h0M213.3 162.1h0M220.0 189.5h0M219.5 165.3h0M216.6 169.4h0M220.0 166.5h0M219.9 160.7h0M219.8 164.6h0M212.9 164.6h0M220.2 176.1h0M209.8 191.3h0M219.7 173.1h0M210.1 181.8h0M210.2 177.1h0M214.4 163.9h0M210.0 187.3h0M219.2 169.7h0M211.6 190.5h0M220.7 186.3h0M214.0 168.8h0M219.5 169.0h0M214.2 165.6h0M214.0 185.8h0M220.3 170.2h0M219.7 161.6h0M212.7 172.3h0M221.8 171.9h0M213.2 187.5h0M214.4 185.0h0M220.0 164.4h0M219.2 160.4h0M219.9 168.3h0M209.2 183.7h0M217.3 170.8h0M213.5 174.3h0M212.6 186.5h0M212.0 191.3h0M213.2 188.1h0M219.4 186.3h0M219.9 180.6h0M219.8 181.0h0M212.3 163.8h0M220.0 175.7h0M213.6 164.8h0M212.3 170.2h0M214.0 189.2h0M213.8 160.4h0M220.1 177.7h0M213.4 183.4h0M212.4 171.9h0M208.9 191.6h0M212.4 175.3h0M219.8 183.3h0M214.4 186.6h0M218.1 185.7h0M212.9 175.6h0M219.9 172.9h0M213.3 179.5h0M217.3 169.1h0M211.7 170.2h0M222.8 182.2h0M214.2 187.1h0M213.3 175.1h0M209.8 162.0h0M212.7 182.9h0M212.2 169.3h0M209.9 165.4h0M214.1 179.3h0M220.0 188.2h0M219.7 163.5h0M216.2 177.5h0M210.5 173.2h0M210.6 165.2h0M222.1 163.8h0M213.6 187.1h0M209.6 173.9h0M219.7 177.4h0M213.7 164.9h0M220.1 165.9h0M212.6 183.0h0M210.5 162.0h0M220.1 187.5h0M213.8 166.7h0M219.6 187.1h0M212.6 188.5h0M212.4 175.3h0M219.4 190.6h0M214.2 182.8h0M212.4 168.1h0M219.9 190.1h0M209.9 164.0h0M209.8 173.6h0M214.2 162.3h0M221.2 190.3h0M214.0 189.7h0M212.9 171.2h0M211.0 188.2h0M219.2 160.1h0M211.6 168.4h0M213.4 160.8h0M212.4 166.8h0M212.8 188.5h0M213.3 189.7h0M209.5 191.8h0M215.5 188.8h0M220.0 170.8h0M212.5 160.5h0M216.7 165.4h0M210.2 169.5h0M214.2 184.5h0M213.3 162.6h0M209.5 184.6h0M209.9 187.7h0M214.0 187.3h0M213.7 164.5h0M214.3 182.6h0M214.2 170.5h0M212.1 191.4h0M210.1 190.0h0M213.4 169.4h0M213.9 165.5h0M210.6 178.1h0M216.3 174.2h0M208.7 160.6h0M209.5 184.3h0M217.2 188.9h0M209.6 176.6h0M219.9 165.5h0M213.5 178.6h0M213.0 161.0h0M219.8 178.4h0M220.0 168.6h0M214.2 190.2h0M212.7 176.3h0M209.6 182.3h0M214.2 164.7h0M212.6 168.2h0M219.5 187.0h0M222.9 178.3h0M220.1 167.1h0M212.9 189.3h0M210.0 185.5h0M213.8 186.4h0M210.1 207.6h0M201.2 212.2h0M221.8 220.5h0M210.8 199.0h0M211.9 223.3h0M201.3 207.1h0M214.0 219.2h0M212.9 195.5h0M206.8 198.7h0M212.1 207.8h0M200.9 195.7h0M200.7 198.1h0M202.6 221.1h0M206.1 199.5h0M206.1 224.2h0M212.5 223.2h0M213.9 217.6h0M212.2 203.0h0M213.0 216.5h0M214.7 196.8h0M201.1 206.5h0M214.4 206.0h0M207.4 224.2h0M201.0 213.2h0M200.4 192.7h0M201.8 223.2h0M206.1 222.6h0M201.3 195.2h0M208.9 220.6h0M214.7 197.3h0M207.8 214.0h0M207.1 193.6h0M200.1 209.9h0M218.4 202.7h0M200.2 193.7h0M222.6 200.1h0M218.4 210.7h0M203.5 209.7h0M209.6 219.6h0M220.8 206.9h0M201.4 221.6h0M206.7 203.7h0M214.1 198.8h0M217.7 210.2h0M211.8 211.3h0M206.6 212.3h0M218.8 203.1h0M206.3 194.9h0M219.5 198.8h0M218.9 213.7h0M200.9 222.0h0M206.9 208.8h0M212.2 213.0h0M206.3 195.6h0M211.0 214.2h0M213.2 224.3h0M218.8 202.8h0M220.3 222.0h0M214.0 194.6h0M210.4 222.5h0M210.8 219.9h0M200.1 204.5h0M220.6 210.9h0M201.3 222.5h0M206.7 220.7h0M200.5 200.7h0M201.6 216.2h0M219.5 206.6h0M218.7 220.8h0M220.4 224.0h0M206.3 201.8h0M213.8 215.8h0M207.8 199.9h0M220.5 221.2h0M218.5 192.9h0M206.5 220.3h0M212.5 198.9h0M206.2 201.3h0M215.1 221.1h0M210.5 210.7h0M200.4 211.9h0M221.1 206.0h0M206.8 217.9h0M220.5 210.2h0M201.8 212.1h0M212.9 192.6h0M212.5 218.4h0M210.6 198.2h0M213.3 198.7h0M206.1 200.5h0M207.1 211.6h0M220.7 211.8h0M208.5 204.2h0M209.2 204.8h0M215.3 205.1h0M206.6 223.4h0M214.7 202.0h0M206.5 204.7h0M206.3 213.8h0M206.7 196.4h0M212.1 198.2h0M211.2 212.2h0M220.6 212.9h0M207.0 193.1h0M217.2 196.1h0M220.4 208.3h0M210.5 203.2h0M213.9 200.3h0M206.3 210.2h0M212.4 212.5h0M213.2 219.0h0M204.2 221.6h0M203.0 198.5h0M217.1 219.8h0M210.4 195.2h0M206.9 193.6h0M210.8 208.2h0M213.0 213.8h0M206.6 196.0h0M213.1 207.1h0M209.0 193.4h0M214.9 201.9h0M203.4 198.9h0M206.6 206.6h0M210.7 208.9h0M201.1 215.9h0M200.0 202.3h0M208.7 223.3h0M214.3 199.2h0M217.7 199.2h0M218.4 202.6h0M212.2 192.2h0M220.7 211.8h0M213.0 204.6h0M210.2 213.7h0M220.9 206.4h0M201.5 222.0h0M221.8 224.7h0M211.8 207.5h0M210.6 207.3h0M201.1 205.8h0M207.5 207.6h0M223.0 212.6h0M207.9 203.8h0M201.5 195.7h0M212.0 202.7h0M220.7 213.6h0M220.6 203.9h0M214.4 203.1h0M210.4 221.7h0M212.4 205.7h0M211.0 200.0h0M206.3 215.1h0M206.7 202.8h0M206.1 193.6h0M203.3 223.3h0M201.1 213.2h0M222.9 218.7h0M214.0 211.0h0M206.9 211.9h0M206.6 219.7h0M220.0 213.6h0M201.3 203.9h0M200.2 224.9h0M212.1 203.8h0M201.4 193.8h0M207.1 213.0h0M203.0 201.4h0M199.9 222.1h0M207.6 198.6h0M218.5 223.8h0M213.7 206.5h0M207.5 203.7h0M220.3 219.3h0M206.1 195.2h0M214.1 222.5h0M211.9 222.2h0M211.7 201.5h0M204.6 211.8h0M212.4 224.5h0M217.0 218.5h0M211.6 208.1h0M210.9 198.9h0M218.5 223.5h0M211.2 220.7h0M200.3 194.1h0M201.7 204.5h0M220.3 197.6h0M218.7 267.1h0M221.9 270.5h0M199.5 265.8h0M200.5 270.3h0M207.8 260.6h0M204.2 231.1h0M217.6 269.2h0M213.2 240.1h0M221.5 246.2h0M217.9 226.1h0M213.2 226.8h0M218.8 243.2h0M221.7 244.8h0M202.5 230.1h0M212.9 265.6h0M205.6 268.9h0M200.6 242.0h0M213.5 253.0h0M213.5 264.1h0M203.7 237.8h0M203.6 252.7h0M212.0 249.0h0M200.4 254.8h0M201.2 262.0h0M218.6 243.8h0M199.9 245.2h0M217.1 224.9h0M212.4 242.3h0M211.9 246.8h0M204.5 258.3h0M207.9 269.5h0M215.9 257.7h0M221.6 263.2h0M213.4 259.5h0M220.6 259.6h0M212.2 252.9h0M215.1 257.5h0M213.7 244.5h0M222.0 224.1h0M204.6 231.2h0M200.1 224.8h0M218.4 242.0h0M213.4 227.1h0M221.7 262.8h0M200.2 261.3h0M221.7 232.4h0M217.9 270.1h0M217.6 251.2h0M222.4 264.0h0M216.4 230.0h0M207.2 230.5h0M212.9 246.1h0M219.6 250.0h0M204.5 235.3h0M205.0 253.8h0M211.9 262.2h0M218.3 227.5h0M216.2 248.2h0M218.7 248.0h0M204.9 255.7h0M200.2 230.7h0M211.9 230.6h0M211.2 271.6h0M203.2 236.7h0M212.8 243.2h0M212.0 252.7h0M203.6 227.8h0M204.2 270.5h0M210.2 255.7h0M222.9 242.1h0M204.2 271.6h0M210.2 226.2h0M218.4 260.0h0M221.9 235.4h0M222.1 245.3h0M219.1 248.9h0M216.2 229.6h0M207.6 245.4h0M204.7 268.2h0M203.7 265.6h0M217.6 262.4h0M200.3 242.4h0M200.4 228.1h0M210.4 233.2h0M210.1 228.6h0M213.1 260.2h0M217.9 255.0h0M213.1 227.6h0M204.5 234.2h0M217.9 229.0h0M202.8 225.0h0M218.6 269.3h0M218.8 247.9h0M219.0 236.5h0M204.2 237.1h0M202.6 247.9h0M211.6 238.2h0M204.0 252.3h0M201.3 260.3h0M214.5 261.9h0M218.4 229.2h0M200.6 241.0h0M200.1 251.3h0M207.9 268.7h0M214.4 241.2h0M221.3 241.7h0M212.1 269.7h0M218.5 268.9h0M217.9 238.4h0M215.3 268.8h0M218.6 258.3h0M213.5 254.4h0M204.6 255.3h0M213.5 234.5h0M204.5 269.9h0M213.2 262.3h0M204.9 269.5h0M203.8 235.5h0M211.8 269.7h0M200.8 225.8h0M212.1 228.1h0M204.3 258.0h0M200.7 264.3h0M200.1 250.7h0M211.7 247.0h0M200.1 231.2h0M201.1 249.5h0M203.8 264.5h0M213.2 257.8h0M211.9 260.8h0M204.7 227.0h0M208.6 234.7h0M211.6 254.5h0M200.2 244.3h0M222.2 264.5h0M202.1 224.1h0M207.0 228.7h0M208.4 237.4h0M218.1 248.2h0M211.3 264.7h0M211.8 252.2h0M201.9 271.2h0M212.3 243.1h0M221.5 255.2h0M213.1 242.6h0M213.6 229.9h0M218.1 229.6h0M201.7 271.0h0M218.2 261.2h0M208.4 271.9h0M217.8 249.1h0M200.4 237.0h0M203.5 231.4h0M206.6 266.5h0M208.2 227.8h0M216.4 246.6h0M221.5 232.2h0M203.1 228.0h0M218.3 230.8h0M200.5 271.8h0M215.8 268.4h0M221.3 251.6h0M213.5 235.0h0M214.0 225.5h0M200.3 225.5h0M201.8 237.5h0M213.4 243.0h0M202.3 237.1h0M203.2 270.5h0M204.1 226.9h0M204.8 228.2h0M205.3 228.6h0M213.7 239.5h0M201.6 236.0h0M203.9 237.1h0M217.5 269.3h0M221.8 270.8h0M212.8 255.5h0M213.6 271.5h0M201.0 235.5h0M213.6 243.5h0M222.2 266.6h0M221.6 226.1h0M213.5 271.9h0M221.8 249.4h0M220.4 270.9h0M222.5 255.8h0M218.1 251.3h0M203.9 257.1h0M222.1 243.4h0M201.0 224.3h0M200.7 243.9h0M205.1 240.0h0M204.4 272.0h0M217.9 242.0h0M210.5 234.1h0M218.0 252.7h0M211.7 258.2h0M200.5 265.8h0M213.5 243.4h0M212.0 246.7h0M213.1 230.2h0M215.4 226.8h0M200.5 253.5h0M220.9 229.9h0M200.2 266.1h0M213.0 241.2h0M213.6 224.3h0M202.0 243.5h0M200.9 271.0h0M202.6 263.6h0M221.8 242.9h0M200.8 232.0h0M221.5 247.8h0M210.2 244.3h0M202.6 248.4h0M221.3 232.9h0M213.2 261.0h0M222.5 270.5h0M202.3 250.5h0M213.7 257.6h0M218.3 227.3h0M221.5 255.8h0M203.8 246.4h0M203.9 258.6h0M204.1 260.4h0M204.7 264.7h0M205.0 243.6h0M217.3 270.0h0M204.3 236.1h0M212.4 269.9h0M211.8 234.9h0M203.3 236.7h0M209.6 262.2h0M220.7 231.4h0M211.6 237.1h0M211.2 244.8h0M220.0 266.2h0M211.9 257.8h0" stroke="#1BFF00"/>
<path d="M199.5 273.8H223.0" stroke="#1BFF00" stroke-linecap="butt"/>
<path d="M236.3 108.3h0M233.7 115.4h0M239.4 126.2h0M234.3 131.0h0M234.3 136.0h0M236.3 146.4h0M236.3 153.6h0M238.3 156.6h0M239.3 128.0h0M223.7 209.4h0M223.7 193.3h0M223.5 196.0h0M223.1 220.7h0M223.5 217.0h0M223.1 202.8h0M227.5 256.5h0M235.9 236.9h0M230.7 232.1h0M235.8 235.0h0M223.7 241.4h0M230.6 265.1h0M228.1 227.1h0M232.0 240.6h0M236.3 255.1h0M224.1 237.4h0M236.0 245.0h0M232.0 227.3h0M230.2 255.7h0M229.1 243.0h0M223.3 242.3h0M223.8 263.3h0M228.5 246.4h0M227.6 237.8h0M224.0 225.6h0M235.7 255.3h0M230.6 224.8h0M227.1 232.7h0M230.6 266.3h0M227.3 232.8h0M236.0 263.4h0M230.0 254.5h0M235.2 225.2h0M227.5 256.8h0M232.6 247.8h0M228.7 255.2h0M233.1 242.3h0M227.6 269.9h0M234.5 252.3h0M230.6 250.4h0M228.5 270.0h0M228.1 241.1h0M227.4 244.0h0M226.8 244.4h0M234.0 229.6h0M232.7 233.0h0M228.8 254.4h0M231.3 255.3h0M226.7 263.1h0M227.3 242.9h0M231.6 236.5h0M230.5 269.4h0M230.3 256.9h0M227.0 232.6h0M229.9 231.9h0M231.0 235.6h0M228.8 270.6h0M224.1 232.0h0M226.9 236.3h0M236.3 242.2h0M228.5 242.9h0M227.0 267.7h0M227.0 265.9h0M230.4 250.3h0M224.1 242.2h0M235.9 226.0h0M224.1 264.2h0M236.1 261.4h0M228.4 237.9h0M224.0 231.9h0M230.5 237.8h0M231.6 238.3h0M231.6 266.8h0M230.3 246.7h0M227.8 254.1h0M236.7 241.0h0M232.4 260.6h0M229.6 271.4h0M224.1 228.8h0M227.0 241.4h0M223.7 235.6h0M223.4 255.7h0M224.2 228.4h0M227.2 260.6h0M233.8 237.7h0M235.9 226.4h0M229.1 238.8h0M229.2 240.4h0M224.5 236.0h0M227.1 236.6h0M226.8 236.4h0M224.0 260.9h0M236.2 259.1h0M230.5 243.8h0M224.2 248.6h0M230.0 230.8h0M230.3 257.5h0M227.9 265.9h0M236.5 241.0h0M227.7 228.1h0M236.0 262.3h0M224.0 230.9h0M236.3 240.0h0M226.8 260.5h0M225.2 248.6h0M232.2 262.5h0M230.4 227.7h0M223.7 245.2h0M232.8 234.8h0M227.0 243.4h0M230.4 264.3h0M236.3 253.4h0M230.8 265.6h0M233.8 246.8h0M228.0 267.3h0M226.8 257.1h0M234.9 244.4h0M232.1 231.3h0M229.4 231.1h0M230.6 256.8h0M231.0 255.1h0M228.9 241.2h0M230.6 246.5h0M231.1 265.5h0M227.2 256.8h0M236.1 243.9h0M236.6 242.0h0M234.7 258.2h0M230.3 231.4h0M227.0 233.2h0M227.3 229.6h0M224.6 250.4h0M228.8 235.7h0M223.9 259.2h0M230.7 265.7h0M230.6 264.3h0M224.2 254.5h0M227.4 226.0h0M230.4 229.9h0M231.6 235.4h0M230.6 225.4h0M223.7 244.5h0M228.6 246.6h0M223.7 251.3h0M226.9 253.4h0M230.6 239.5h0M236.2 261.8h0M227.1 254.3h0M230.8 236.1h0M224.2 257.1h0M230.0 249.0h0M230.4 237.9h0M227.0 265.6h0M226.9 271.8h0M231.6 254.6h0M230.5 270.0h0M228.2 252.6h0M229.8 247.0h0M230.5 263.4h0M236.1 235.7h0M230.7 264.0h0M230.7 235.6h0M224.1 257.1h0M236.1 252.0h0M229.6 262.7h0M227.8 254.2h0M228.0 261.8h0M224.1 252.1h0M226.8 266.2h0M230.4 235.4h0M227.8 231.1h0M230.5 237.9h0M223.9 254.8h0M236.3 229.1h0M231.0 231.2h0M230.7 260.7h0M224.0 253.3h0M230.9 233.6h0M225.8 262.3h0M227.8 249.9h0M236.2 250.1h0M227.1 254.1h0M223.9 263.2h0M228.9 258.8h0M230.2 245.0h0M223.6 243.3h0M230.3 231.3h0M227.1 235.6h0M232.4 256.8h0M230.3 231.6h0M225.6 271.1h0M223.9 252.5h0M230.1 256.1h0M227.0 247.3h0M230.3 261.8h0M223.9 249.6h0M229.9 262.5h0M223.7 266.0h0M228.5 228.2h0M233.2 255.4h0M227.6 224.3h0M236.6 256.1h0M235.9 186.5h0M238.5 164.8h0M239.5 176.0h0M235.3 160.7h0M238.1 172.8h0M237.2 184.0h0M234.1 164.4h0M234.0 168.4h0M235.6 177.1h0M235.7 179.0h0M235.7 168.9h0M232.5 163.7h0M232.4 183.0h0M235.6 176.7h0M236.9 177.7h0M234.1 177.2h0M238.2 182.7h0M238.4 175.3h0M235.8 175.6h0M238.8 183.2h0M237.9 179.2h0M238.7 190.4h0M238.4 166.5h0M233.5 172.5h0M235.1 177.0h0M239.1 186.9h0M235.9 181.4h0M238.3 187.2h0M235.9 176.6h0M235.7 162.0h0M234.2 175.2h0M236.3 185.9h0M233.5 165.4h0M235.4 169.9h0M236.0 189.3h0M235.9 177.4h0M236.1 179.8h0M234.5 165.0h0M239.1 182.9h0M234.2 171.9h0M233.9 189.1h0M236.0 188.5h0M235.1 222.4h0M239.2 217.0h0M239.2 192.4h0M236.6 193.7h0M229.2 197.0h0M224.1 207.6h0M237.1 221.6h0M227.1 203.7h0M239.1 199.0h0M226.1 212.9h0M224.2 204.2h0M232.4 201.1h0M228.4 206.9h0M224.3 209.8h0M231.7 210.3h0M231.0 194.8h0M238.8 199.2h0M236.5 222.6h0M230.9 214.4h0M237.6 215.7h0M238.6 216.0h0M238.1 198.8h0M226.5 199.2h0M236.5 215.7h0M239.3 193.0h0M235.4 192.4h0M240.3 193.5h0M238.9 198.8h0M224.1 219.7h0M238.5 214.6h0M233.5 213.8h0M226.5 217.3h0M230.6 204.1h0M238.0 215.9h0M226.1 202.0h0M239.1 204.2h0M238.6 201.5h0M240.3 211.3h0M230.8 217.2h0M231.2 216.0h0M239.4 195.0h0M239.1 218.0h0M230.9 216.1h0M225.2 211.5h0M225.4 212.0h0M225.3 203.1h0M237.4 197.2h0M238.7 213.6h0M234.7 196.9h0M228.7 222.5h0M239.1 202.2h0M225.6 206.7h0M224.6 199.1h0M225.7 201.1h0M228.3 206.6h0M229.3 196.9h0M231.1 220.9h0M224.8 208.6h0M225.5 214.3h0M238.7 214.6h0M230.1 221.1h0M229.3 211.5h0M224.1 193.5h0M239.5 221.0h0M237.3 194.1h0M225.1 222.4h0M225.0 197.3h0M231.4 199.0h0M232.8 195.7h0M224.8 214.6h0M238.8 217.0h0M228.6 220.7h0M224.9 222.3h0M230.8 194.8h0M229.1 210.7h0M239.3 200.6h0M232.3 221.5h0M228.2 209.6h0M225.0 216.1h0M224.9 202.3h0M236.8 214.0h0M225.0 193.5h0M231.0 208.5h0M225.7 213.5h0M230.9 205.9h0M231.9 218.0h0M231.0 209.0h0M224.8 211.4h0M239.1 195.6h0M229.8 192.6h0M229.4 209.4h0M229.0 211.3h0M236.7 206.2h0M225.8 201.2h0M225.0 205.9h0M239.1 202.5h0M237.1 202.3h0M225.8 216.5h0M232.3 217.2h0M226.1 199.6h0M239.6 198.7h0M237.4 194.4h0M237.3 224.0h0M239.0 214.0h0M224.3 207.2h0M238.9 217.1h0M238.7 194.6h0M238.7 215.2h0M225.6 212.0h0M224.4 194.9h0M236.6 211.9h0M226.0 222.6h0M225.5 217.9h0M224.2 198.4h0M230.9 193.8h0M231.1 193.7h0M225.8 223.1h0M232.3 216.6h0M238.2 192.6h0M224.9 215.5h0M230.7 205.0h0M237.4 210.5h0M240.3 218.9h0M240.4 177.5h0M240.2 196.4h0M240.5 251.5h0M240.4 266.5h0" stroke="#00FF36"/>
<path d="M223.0 273.8H240.6" stroke="#00FF36" stroke-linecap="butt"/>
<path d="M247.7 111.3h0M247.7 119.0h0M266.0 56.2h0M266.0 60.7h0M266.0 64.7h0M266.0 67.8h0M266.0 70.9h0M266.0 79.0h0M248.6 85.2h0M251.6 87.2h0M252.7 90.3h0M253.7 92.3h0M259.8 91.3h0M265.0 94.4h0M241.8 247.4h0M243.9 262.1h0M241.9 269.6h0M241.9 243.9h0M241.5 263.8h0M242.1 249.4h0M241.8 231.6h0M241.4 254.9h0M241.5 252.7h0M242.3 247.2h0M241.8 247.6h0M242.3 237.8h0M241.6 271.4h0M242.1 258.0h0M241.8 259.2h0M242.1 236.3h0M241.7 261.8h0M241.6 256.4h0M241.7 254.2h0M241.9 237.6h0M241.2 259.0h0M242.0 260.1h0M242.0 260.7h0M241.6 244.1h0M241.9 244.3h0M241.4 251.0h0M241.8 258.6h0M241.7 240.5h0M244.1 232.9h0M242.1 241.6h0M248.9 141.6h0M248.0 137.0h0M248.6 136.0h0M249.0 136.9h0M248.0 136.4h0M247.4 140.5h0M248.1 146.2h0M246.8 152.4h0M248.4 157.6h0M248.2 154.6h0M250.0 158.9h0M248.1 160.0h0M251.9 122.4h0M253.0 133.0h0M253.5 107.5h0M251.8 138.8h0M255.8 99.1h0M253.3 132.2h0M252.5 97.0h0M250.9 111.9h0M253.7 122.0h0M256.1 134.9h0M256.9 138.7h0M256.2 105.9h0M255.1 105.8h0M253.5 117.6h0M251.4 139.5h0M255.9 109.9h0M251.9 137.6h0M252.6 121.2h0M251.6 135.0h0M254.9 127.2h0M253.1 129.3h0M255.6 133.5h0M252.1 131.1h0M252.8 97.3h0M251.6 132.5h0M255.3 132.0h0M251.8 130.7h0M255.6 124.3h0M256.1 107.7h0M251.6 104.1h0M256.2 137.0h0M255.8 108.8h0M253.1 106.4h0M252.7 123.0h0M255.9 102.0h0M255.1 109.8h0M251.9 98.3h0M252.8 126.4h0M251.4 131.0h0M255.9 119.8h0M253.7 139.0h0M252.8 101.4h0M251.6 133.8h0M255.0 109.6h0M251.7 130.7h0M255.8 123.7h0M255.3 121.5h0M252.3 124.8h0M256.9 115.8h0M255.5 102.9h0M252.1 122.6h0M255.5 112.7h0M252.9 119.3h0M253.5 115.8h0M251.4 153.3h0M255.6 154.3h0M255.6 146.1h0M258.9 105.1h0M262.1 113.9h0M262.0 119.8h0M259.1 137.3h0M261.7 127.7h0M262.0 125.2h0M258.4 108.4h0M259.3 96.3h0M259.5 127.5h0M261.8 123.2h0M259.0 118.6h0M258.3 104.6h0M258.8 116.4h0M258.9 113.7h0M262.1 115.2h0M260.4 120.4h0M261.1 110.8h0M258.5 106.8h0M258.4 137.9h0M261.7 99.9h0M258.5 138.0h0M262.3 114.0h0M258.7 127.2h0M258.9 105.5h0M261.9 117.7h0M258.4 107.4h0M262.4 116.6h0M258.6 122.6h0M258.8 109.3h0M262.1 131.7h0M258.4 125.9h0M258.4 110.2h0M262.0 137.5h0M262.4 110.4h0M258.9 131.4h0M258.4 136.8h0M258.8 112.8h0M261.9 103.7h0M261.7 120.8h0M260.3 111.2h0M261.4 108.9h0M262.1 102.1h0M262.0 97.2h0M262.0 99.9h0M258.6 103.5h0M261.0 159.7h0M261.3 151.4h0M260.6 152.7h0M260.7 158.5h0M262.0 159.1h0M261.9 155.6h0M265.8 113.9h0M265.4 149.9h0M266.1 108.2h0M267.6 98.2h0M265.2 146.9h0M265.4 157.9h0M265.9 120.1h0M265.5 128.3h0M265.3 107.7h0M268.3 145.1h0M265.3 111.4h0M268.5 107.8h0M266.7 151.6h0M265.7 104.6h0M268.6 157.6h0M268.1 123.2h0M267.1 109.1h0M268.3 144.7h0M265.9 116.6h0M264.4 142.5h0M266.0 156.2h0M265.4 150.6h0M265.3 154.9h0M265.7 155.0h0M268.5 121.4h0M268.5 133.0h0M266.0 139.6h0M265.6 130.9h0M268.5 120.1h0M265.3 157.5h0M263.7 140.2h0M264.5 143.2h0M268.6 137.3h0M265.3 95.9h0M265.5 113.4h0M266.0 103.9h0M268.3 112.5h0M266.2 101.5h0M266.1 108.4h0M268.7 133.3h0M265.1 113.5h0M263.9 126.4h0M265.4 105.9h0M265.6 141.5h0M268.5 131.9h0M265.4 142.0h0M265.6 157.4h0M265.6 99.3h0M268.4 127.5h0M268.5 146.6h0M264.6 103.2h0M265.7 111.3h0M268.4 122.3h0M266.7 129.7h0M264.4 107.1h0M265.8 100.6h0M267.8 128.0h0M268.5 127.9h0M268.6 152.8h0M268.3 141.9h0M265.7 123.7h0M268.7 111.8h0M267.0 128.0h0M265.6 98.2h0M256.9 187.4h0M251.3 183.7h0M246.2 170.2h0M248.8 170.5h0M246.2 166.9h0M242.5 171.1h0M252.0 161.4h0M246.0 176.8h0M249.1 171.2h0M242.6 162.0h0M256.2 176.1h0M248.4 172.9h0M256.5 161.1h0M242.5 169.2h0M250.3 169.0h0M248.4 164.5h0M251.7 167.6h0M242.1 190.0h0M251.1 166.9h0M252.3 182.0h0M257.3 167.0h0M245.7 183.8h0M256.6 166.1h0M247.3 212.8h0M247.9 216.7h0M258.5 198.7h0M261.9 193.2h0M258.3 220.0h0M265.8 201.1h0M258.7 212.0h0M265.9 206.8h0M266.1 218.7h0M262.8 223.9h0M261.1 194.9h0M262.6 204.7h0M262.9 197.2h0M257.3 202.0h0M265.2 219.7h0M266.0 196.1h0M260.3 197.3h0M260.5 215.9h0M263.9 221.1h0M265.3 200.3h0M262.8 194.7h0M265.1 210.6h0M258.8 204.0h0M249.9 246.9h0M244.8 233.4h0M249.7 238.1h0M249.6 234.1h0M247.5 240.5h0M244.1 228.4h0M247.8 225.7h0M249.0 231.8h0M248.1 229.9h0M241.7 271.0h0M241.3 253.9h0M240.8 262.4h0M240.8 252.8h0M240.7 261.8h0M241.1 255.6h0M241.7 262.6h0M246.6 270.1h0M248.2 264.8h0M244.8 265.2h0M243.9 259.2h0M246.6 249.7h0M244.6 264.6h0M248.0 263.7h0M248.1 260.7h0M245.9 253.6h0M262.8 237.2h0M262.6 253.1h0M266.3 227.6h0M268.5 241.7h0M266.0 229.2h0M262.1 241.8h0M266.5 254.2h0M266.0 239.4h0M265.5 251.3h0M266.4 228.6h0M262.7 254.4h0M262.6 233.1h0M267.7 239.1h0M268.1 247.8h0M263.8 227.2h0M266.2 229.5h0M263.2 240.7h0M267.5 269.1h0M263.5 265.6h0M267.3 266.4h0M266.2 270.4h0M265.5 271.2h0M265.0 270.3h0M264.4 268.8h0M265.0 264.7h0M263.7 262.0h0M268.1 161.1h0" stroke="#00FF86"/>
<path d="M240.6 273.8H268.8" stroke="#00FF86" stroke-linecap="butt"/>
<path d="M279.2 66.8h0M279.2 71.9h0M285.0 70.9h0M285.0 74.0h0M285.0 77.4h0M285.0 81.0h0M285.0 84.2h0M279.2 91.3h0M283.3 92.3h0M269.0 145.1h0M269.0 154.7h0M272.7 205.8h0M272.5 217.5h0M270.5 210.4h0M270.2 204.2h0M269.4 206.1h0M269.6 204.7h0M271.6 217.9h0M271.0 203.7h0M273.1 219.5h0M271.2 238.1h0M285.3 125.2h0M282.3 99.1h0M273.5 114.4h0M273.4 104.6h0M277.7 118.7h0M273.9 123.3h0M285.6 116.1h0M277.4 119.9h0M272.5 123.7h0M284.8 113.1h0M271.6 119.9h0M277.5 115.2h0M272.9 98.4h0M277.5 113.6h0M272.2 118.8h0M271.3 122.0h0M281.6 122.5h0M273.9 113.9h0M281.5 113.7h0M273.3 95.1h0M280.4 103.3h0M273.4 118.4h0M281.9 116.5h0M273.0 124.4h0M285.1 114.5h0M284.2 109.9h0M281.9 99.6h0M286.3 100.2h0M280.8 114.7h0M273.2 116.0h0M272.8 107.0h0M271.6 105.2h0M276.6 116.8h0M271.1 99.8h0M271.3 126.8h0M286.0 119.4h0M284.5 105.7h0M284.6 95.8h0M282.0 105.6h0M270.6 111.0h0M272.5 103.3h0M285.6 109.1h0M270.6 127.0h0M273.6 117.6h0M271.2 122.7h0M277.8 97.1h0M284.6 101.6h0M285.8 109.0h0M277.9 108.7h0M285.0 103.1h0M285.3 115.0h0M284.6 98.1h0M272.8 120.0h0M273.2 96.4h0M270.8 116.0h0M282.8 125.2h0M279.4 112.4h0M277.7 108.0h0M277.7 98.5h0M272.1 122.1h0M270.9 114.2h0M283.8 99.6h0M270.9 126.2h0M285.4 115.1h0M272.4 113.4h0M280.1 102.5h0M277.5 119.0h0M279.7 109.5h0M274.2 117.0h0M271.6 115.5h0M269.8 105.0h0M270.8 98.0h0M281.9 102.2h0M273.0 107.9h0M274.4 101.7h0M281.6 122.0h0M281.2 118.1h0M284.7 115.9h0M281.6 116.6h0M284.9 97.0h0M273.6 104.6h0M269.4 126.8h0M273.1 117.8h0M270.3 101.7h0M286.2 106.9h0M271.1 117.6h0M277.5 106.4h0M286.0 122.0h0M275.7 123.2h0M271.7 142.2h0M281.8 133.0h0M285.8 130.6h0M276.5 159.1h0M285.7 138.0h0M283.4 146.8h0M273.5 158.9h0M280.3 148.6h0M275.3 158.9h0M283.4 143.7h0M280.6 144.2h0M286.0 156.9h0M280.3 147.2h0M270.8 154.6h0M282.3 131.7h0M281.5 136.4h0M280.8 128.0h0M280.0 127.8h0M280.6 152.2h0M284.1 135.8h0M280.7 136.9h0M286.2 132.7h0M276.9 143.3h0M270.6 127.5h0M280.6 131.0h0M281.0 140.2h0M270.6 144.8h0M281.3 141.2h0M277.1 153.7h0M279.1 144.2h0M270.6 142.9h0M271.5 131.6h0M285.5 154.4h0M272.9 127.9h0M271.6 136.6h0M280.3 128.9h0M271.5 131.7h0M284.8 130.7h0M281.3 139.7h0M285.7 149.6h0M277.2 129.7h0M270.2 150.2h0M276.6 149.6h0M270.6 147.1h0M270.9 130.9h0M281.3 149.5h0M285.7 152.1h0M272.2 131.0h0M271.7 128.0h0M270.3 138.5h0M276.5 137.8h0M284.4 130.8h0M279.9 149.3h0M275.5 139.8h0M277.0 128.4h0M280.0 136.6h0M285.8 159.9h0M273.1 138.2h0M281.4 140.0h0M270.8 127.6h0M285.5 128.2h0M280.1 159.0h0M276.7 141.6h0M276.3 129.3h0M276.7 154.9h0M272.5 154.4h0M275.7 155.7h0M274.7 152.2h0M278.9 133.9h0M271.7 138.6h0M270.6 135.7h0M272.0 142.2h0M276.5 134.5h0M272.7 139.7h0M276.6 128.4h0M276.6 131.3h0M271.1 133.2h0M276.9 139.6h0M285.8 129.0h0M271.8 146.2h0M281.4 155.4h0M285.5 133.3h0M270.5 155.8h0M272.1 158.7h0M285.8 156.2h0M276.5 158.4h0M273.0 129.6h0M281.4 143.7h0M271.0 134.9h0M274.4 158.0h0M280.1 135.7h0M276.8 150.1h0M276.2 135.0h0M281.9 149.2h0M274.8 144.0h0M276.0 154.4h0M281.2 130.2h0M280.4 151.5h0M279.4 158.6h0M276.9 152.3h0M270.8 156.3h0M270.0 152.5h0M281.2 133.2h0M276.4 158.6h0M276.1 139.6h0M277.1 155.7h0M276.8 146.1h0M280.5 142.7h0M280.0 136.3h0M281.9 142.5h0M281.7 133.2h0M272.1 132.3h0M281.7 150.0h0M271.7 145.6h0M276.4 136.5h0M285.8 142.1h0M272.5 140.1h0M271.9 156.4h0M274.8 131.3h0M276.8 160.0h0M281.5 137.5h0M282.2 157.5h0M277.0 154.3h0M277.2 135.6h0M281.1 159.3h0M276.0 164.1h0M278.6 170.2h0M278.5 184.2h0M282.2 164.9h0M284.6 185.9h0M275.6 184.6h0M278.1 180.8h0M273.0 168.3h0M271.1 185.1h0M278.8 180.3h0M284.0 188.0h0M269.3 179.9h0M278.7 189.0h0M285.0 180.3h0M282.2 165.2h0M282.7 164.5h0M282.0 182.6h0M286.1 181.4h0M273.7 163.7h0M283.6 165.6h0M283.8 188.1h0M279.8 177.3h0M273.7 161.7h0M281.9 179.9h0M278.5 173.1h0M284.6 176.7h0M284.1 185.9h0M284.6 177.9h0M282.2 173.2h0M282.5 181.5h0M281.8 188.3h0M281.4 187.2h0M282.1 173.6h0M272.6 175.5h0M284.6 181.8h0M284.3 168.6h0M285.8 180.0h0M285.0 170.9h0M281.0 190.2h0M278.7 183.0h0M286.1 190.8h0M269.0 192.0h0M284.5 167.5h0M278.5 178.0h0M282.3 179.2h0M278.3 161.3h0M286.3 164.4h0M269.2 187.4h0M272.6 179.0h0M278.9 163.7h0M279.0 174.5h0M283.2 185.2h0M278.1 174.5h0M286.3 170.8h0M285.0 174.0h0M275.2 174.2h0M269.0 171.4h0M277.4 174.4h0M279.1 171.2h0M271.8 170.7h0M285.7 190.4h0M282.5 167.7h0M284.6 184.8h0M271.2 161.5h0M273.9 170.0h0M278.9 164.5h0M278.5 168.0h0M269.6 166.4h0M286.2 160.9h0M269.6 171.2h0M272.2 181.6h0M282.9 180.5h0M275.5 185.6h0M275.4 166.6h0M283.3 181.1h0M273.0 189.1h0M273.2 183.0h0M284.5 164.4h0M277.9 160.8h0M282.9 181.6h0M282.4 180.8h0M284.7 180.4h0M284.3 190.2h0M278.4 175.1h0M278.5 160.1h0M275.7 163.8h0M275.8 160.6h0M273.6 178.0h0M275.9 166.1h0M276.2 185.6h0M275.8 166.1h0M286.3 170.0h0M269.4 167.0h0M282.0 171.1h0M284.6 168.9h0M279.4 168.7h0M275.9 174.6h0M269.5 182.7h0M284.4 187.2h0M278.5 176.3h0M272.8 182.6h0M283.5 164.4h0M279.1 163.6h0M275.9 184.7h0M273.8 190.2h0M283.5 175.2h0M278.7 184.7h0M283.6 175.6h0M285.9 214.7h0M284.7 209.1h0M285.3 216.1h0M278.7 207.3h0M284.3 208.6h0M284.5 219.9h0M276.6 202.5h0M284.3 214.5h0M276.9 223.2h0M280.7 223.7h0M280.8 192.7h0M280.5 203.5h0M284.9 198.2h0M283.7 203.7h0M277.0 200.8h0M283.1 197.7h0M276.9 210.2h0M284.4 207.2h0M283.6 211.2h0M280.9 218.0h0M284.7 203.8h0M280.4 207.4h0M280.9 199.1h0M280.5 202.8h0M283.6 201.5h0M280.3 205.5h0M280.1 200.9h0M280.3 197.9h0M281.2 222.0h0M277.6 209.7h0M283.7 217.1h0M284.8 211.4h0M282.3 220.2h0M276.9 216.7h0M277.1 221.0h0M277.2 219.9h0M277.7 205.6h0M280.8 213.0h0M284.5 205.6h0M280.9 220.1h0M279.1 223.0h0M277.5 197.2h0M276.8 197.0h0M277.0 204.8h0M280.7 208.3h0M281.6 207.8h0M277.4 205.6h0M281.4 194.9h0M276.9 213.3h0M277.3 211.1h0M280.2 223.4h0M282.9 235.1h0M281.2 229.8h0M283.0 235.7h0M281.0 231.7h0M276.9 234.0h0M281.1 231.2h0M281.6 235.5h0M281.6 229.3h0M282.6 227.1h0M275.4 234.6h0M282.0 225.5h0M276.7 224.9h0M279.9 227.0h0M283.3 232.9h0M282.1 230.2h0M275.0 231.7h0M281.3 234.6h0M275.8 235.1h0M281.8 233.9h0M280.8 226.4h0M282.3 230.9h0M282.0 227.5h0M275.8 234.8h0M280.8 224.9h0M275.5 227.3h0M281.4 225.2h0M276.5 230.8h0M282.6 248.8h0M283.4 249.5h0M283.1 253.6h0M285.0 236.1h0M275.9 251.7h0M282.3 247.2h0M283.3 238.7h0M283.8 243.6h0M285.7 253.7h0M285.8 250.8h0M283.6 237.0h0M275.8 252.8h0M279.6 243.7h0M285.3 243.2h0M284.0 246.4h0M285.0 244.4h0M276.2 238.5h0M282.2 242.8h0M275.0 259.4h0M273.8 266.6h0M276.3 265.9h0M282.8 269.7h0M270.4 260.0h0M272.0 255.5h0M283.1 257.1h0M283.3 268.1h0M282.9 264.1h0M270.1 270.9h0M271.4 263.8h0M274.2 255.1h0M274.9 261.0h0M277.3 262.7h0M272.2 268.9h0M274.6 267.5h0M270.7 261.4h0M274.9 261.5h0M272.4 254.5h0M270.8 271.5h0M272.6 269.9h0M281.2 270.2h0M283.2 257.0h0M272.9 269.6h0M274.9 260.5h0M274.3 268.1h0M283.3 268.6h0M270.0 261.6h0M269.9 258.7h0M283.8 261.6h0M270.4 257.9h0M283.0 264.1h0M271.6 266.5h0M279.6 263.0h0M270.5 260.6h0M270.6 271.4h0M270.3 270.1h0M274.9 270.1h0M274.7 266.0h0M281.5 267.4h0M274.9 265.8h0M279.4 265.5h0M275.2 271.8h0M275.2 257.7h0M270.4 265.7h0M270.2 269.1h0M270.5 259.1h0M282.7 260.1h0M274.5 265.5h0M272.4 266.0h0M275.5 256.8h0M280.4 264.1h0M274.6 257.3h0M276.7 270.5h0M270.9 256.9h0M271.9 269.5h0M275.1 259.4h0M281.0 263.3h0M282.3 261.6h0M279.2 259.7h0M285.8 212.6h0M286.3 195.9h0M286.1 216.9h0M286.1 202.8h0" stroke="#00FFD7"/>
<path d="M268.8 273.8H284.5" stroke="#00FFD7" stroke-linecap="butt"/>
<path d="M292.5 95.0h0M292.6 96.0h0M292.6 103.7h0M295.2 114.4h0M302.0 135.2h0M302.0 138.5h0M302.0 142.0h0M303.3 154.6h0M319.8 145.4h0M309.0 207.0h0M319.8 240.9h0M315.2 255.2h0M286.6 97.0h0M286.7 134.0h0M286.8 179.6h0M286.6 167.7h0M292.3 157.2h0M296.1 144.6h0M291.2 154.2h0M289.0 142.1h0M289.6 146.7h0M289.6 155.4h0M288.8 157.2h0M292.3 137.2h0M289.2 142.0h0M287.2 142.0h0M292.3 145.0h0M295.7 159.2h0M289.7 149.5h0M295.5 151.4h0M291.4 143.7h0M311.6 159.2h0M307.5 157.1h0M309.4 152.9h0M312.9 157.1h0M312.2 156.2h0M307.9 149.2h0M313.3 143.7h0M312.4 143.1h0M313.0 142.3h0M310.4 155.9h0M313.6 147.6h0M313.0 159.0h0M313.5 149.4h0M309.3 158.7h0M313.2 154.6h0M312.9 146.5h0M313.0 149.3h0M313.0 158.5h0M312.7 154.1h0M314.8 149.3h0M309.3 146.9h0M313.3 156.3h0M312.5 143.9h0M313.2 152.3h0M313.0 158.7h0M313.0 154.8h0M313.3 149.4h0M313.1 147.6h0M312.8 150.3h0M312.8 154.8h0M312.8 142.1h0M310.1 157.2h0M312.5 147.9h0M313.1 153.0h0M313.0 152.5h0M312.3 159.2h0M311.4 146.5h0M312.6 144.5h0M310.6 147.8h0M297.8 177.4h0M295.9 168.2h0M294.9 183.8h0M293.5 175.1h0M292.7 181.1h0M291.4 179.1h0M293.5 180.8h0M293.2 171.2h0M298.9 178.2h0M295.4 189.0h0M298.1 182.1h0M294.4 172.6h0M299.3 175.7h0M300.6 182.4h0M299.3 179.9h0M295.3 183.4h0M304.3 185.2h0M295.4 177.1h0M302.4 182.3h0M294.1 173.0h0M304.0 160.2h0M301.3 174.5h0M292.3 176.6h0M299.3 170.3h0M293.9 191.6h0M292.2 162.8h0M293.8 161.3h0M294.1 165.2h0M291.4 171.3h0M296.0 178.3h0M295.9 178.1h0M295.8 178.6h0M303.1 176.7h0M293.8 188.1h0M295.8 181.8h0M296.0 169.3h0M299.4 180.2h0M301.7 165.5h0M288.2 170.3h0M293.4 171.4h0M297.3 168.4h0M296.0 171.9h0M296.1 189.8h0M293.9 179.4h0M295.0 185.8h0M299.0 186.0h0M292.3 190.2h0M302.0 165.8h0M288.3 174.2h0M296.5 187.9h0M298.8 179.7h0M294.0 165.9h0M296.5 176.7h0M295.8 160.9h0M298.9 178.0h0M295.2 178.4h0M292.3 171.6h0M294.9 176.3h0M291.7 191.2h0M290.6 182.0h0M292.4 173.0h0M299.4 173.7h0M298.0 174.4h0M292.6 167.9h0M295.4 182.9h0M301.5 163.0h0M293.5 162.8h0M293.6 172.8h0M293.9 175.9h0M289.0 176.6h0M296.4 161.3h0M302.4 172.7h0M296.0 175.2h0M297.7 162.7h0M295.3 164.9h0M295.2 177.1h0M298.5 181.3h0M294.1 178.3h0M293.5 180.2h0M296.0 170.6h0M289.0 162.4h0M297.0 181.5h0M296.4 165.5h0M295.4 177.2h0M293.1 181.9h0M293.9 187.2h0M294.8 189.5h0M302.4 174.8h0M302.6 191.8h0M298.6 162.5h0M302.9 167.8h0M304.1 162.5h0M296.0 185.4h0M291.8 181.7h0M295.2 173.2h0M293.3 189.0h0M299.7 172.3h0M288.8 173.7h0M297.8 175.2h0M292.2 170.8h0M291.9 188.7h0M296.6 182.1h0M299.0 182.9h0M296.2 168.7h0M293.1 178.2h0M292.3 181.9h0M292.5 165.6h0M299.2 167.6h0M292.3 163.5h0M293.7 175.2h0M295.4 189.2h0M304.5 189.8h0M288.2 164.9h0M298.5 161.5h0M297.3 186.7h0M288.3 177.7h0M293.4 170.2h0M295.5 184.6h0M302.8 162.8h0M296.1 173.1h0M296.3 168.9h0M293.4 188.9h0M288.6 161.8h0M299.8 164.5h0M294.7 175.9h0M295.7 175.5h0M304.4 175.8h0M296.2 168.7h0M296.0 190.8h0M295.1 187.9h0M287.0 176.3h0M291.6 187.7h0M298.4 161.2h0M293.0 168.8h0M295.9 185.3h0M295.7 182.5h0M301.8 165.6h0M293.0 163.2h0M288.5 185.4h0M294.5 169.1h0M295.4 171.8h0M296.1 166.9h0M297.9 186.4h0M296.3 165.2h0M295.4 173.4h0M294.5 188.9h0M298.8 177.8h0M295.3 164.1h0M296.2 164.1h0M291.3 163.2h0M290.6 170.4h0M303.3 183.7h0M295.3 168.4h0M295.0 182.7h0M299.0 168.3h0M298.8 165.6h0M288.7 188.0h0M296.1 183.1h0M292.9 179.8h0M293.4 186.5h0M296.2 183.9h0M296.3 168.5h0M291.5 165.6h0M295.5 160.1h0M292.5 171.6h0M291.9 181.9h0M299.3 163.6h0M295.8 171.1h0M298.8 191.6h0M301.8 164.6h0M297.8 167.2h0M288.6 170.9h0M294.8 185.7h0M296.2 175.4h0M293.8 185.7h0M298.7 186.1h0M297.4 184.0h0M299.1 184.3h0M295.3 186.4h0M299.1 175.4h0M296.2 190.2h0M295.3 160.4h0M296.3 166.1h0M298.9 170.2h0M295.7 178.5h0M296.1 190.6h0M293.0 178.0h0M293.8 177.6h0M295.8 163.4h0M299.9 173.5h0M295.6 190.8h0M289.4 164.6h0M292.1 177.8h0M290.5 172.8h0M296.1 176.2h0M298.9 172.7h0M298.4 167.3h0M292.7 191.6h0M298.5 186.9h0M299.5 163.0h0M294.1 177.0h0M295.2 163.4h0M293.3 182.4h0M292.0 161.0h0M298.3 166.7h0M294.5 189.4h0M293.8 166.3h0M293.1 181.1h0M292.5 186.6h0M298.1 177.7h0M288.2 184.3h0M295.6 171.3h0M300.9 181.5h0M295.2 183.0h0M289.7 185.9h0M296.1 169.6h0M297.3 222.7h0M293.4 204.5h0M287.8 219.8h0M297.4 194.5h0M293.3 199.3h0M287.0 196.3h0M293.5 207.3h0M297.2 208.6h0M293.4 204.4h0M290.7 194.9h0M289.9 219.2h0M293.2 192.1h0M297.1 199.1h0M289.4 195.1h0M288.7 192.6h0M296.6 218.5h0M288.9 206.5h0M297.5 197.0h0M289.6 215.7h0M297.4 197.2h0M294.0 196.7h0M289.6 208.0h0M293.9 207.3h0M289.5 214.7h0M289.5 195.2h0M287.3 215.9h0M289.7 210.6h0M297.9 220.6h0M289.8 203.8h0M287.3 198.0h0M289.6 203.5h0M287.8 223.3h0M287.7 197.7h0M292.6 216.0h0M288.9 222.7h0M287.6 208.9h0M293.7 219.5h0M290.1 205.6h0M287.1 207.6h0M290.2 206.0h0M293.8 195.1h0M297.7 216.0h0M292.3 220.4h0M292.1 201.5h0M290.4 212.8h0M296.3 219.7h0M296.3 197.9h0M287.5 215.0h0M296.2 200.0h0M292.0 214.8h0M292.6 192.1h0M289.8 198.8h0M292.4 223.0h0M289.5 213.6h0M293.0 212.2h0M290.7 197.1h0M296.0 204.0h0M294.1 209.9h0M290.0 195.4h0M303.4 196.8h0M302.9 194.7h0M305.4 192.4h0M302.4 196.3h0M302.7 195.0h0M304.1 196.6h0M303.3 197.2h0M302.5 199.0h0M303.8 196.2h0M309.2 193.2h0M303.7 199.4h0M302.6 198.7h0M302.5 196.7h0M304.4 193.7h0M299.8 195.4h0M307.2 197.6h0M304.1 194.7h0M302.8 193.5h0M302.9 195.2h0M305.7 195.4h0M303.0 193.1h0M304.3 197.3h0M304.0 198.5h0M309.0 192.4h0M300.1 194.6h0M304.0 196.3h0M302.3 195.8h0M304.4 194.7h0M303.3 197.8h0M304.3 199.3h0M306.0 218.5h0M302.7 215.2h0M307.6 206.1h0M304.4 200.1h0M305.0 201.3h0M303.3 223.2h0M302.3 209.3h0M301.5 205.0h0M300.5 212.4h0M299.9 209.4h0M308.0 200.9h0M309.5 205.1h0M299.0 228.5h0M289.3 224.9h0M286.9 233.6h0M298.9 233.5h0M293.5 229.9h0M297.9 230.6h0M297.6 235.4h0M297.6 224.4h0M292.6 228.2h0M295.2 235.2h0M292.8 235.0h0M299.4 235.1h0M287.2 226.4h0M287.2 234.6h0M294.8 224.9h0M298.8 231.5h0M287.0 231.2h0M287.3 233.8h0M293.2 225.0h0M290.0 235.5h0M297.8 230.6h0M287.3 224.1h0M297.4 231.3h0M289.0 225.7h0M298.1 228.7h0M291.9 230.1h0M297.4 230.4h0M288.5 233.4h0M297.0 224.2h0M297.1 233.8h0M295.6 225.7h0M298.0 224.2h0M297.3 230.1h0M293.9 234.0h0M294.9 225.7h0M297.4 233.4h0M287.1 240.5h0M297.9 254.8h0M299.8 250.8h0M299.4 254.4h0M291.0 241.0h0M289.1 246.1h0M298.3 263.6h0M289.8 262.7h0M288.6 261.9h0M292.5 254.5h0M292.3 255.1h0M289.4 262.6h0M297.8 254.5h0M289.4 257.9h0M289.0 255.3h0M310.8 153.6h0M312.2 158.3h0M316.1 147.6h0M310.8 155.1h0M310.6 156.9h0M313.0 154.1h0M308.0 153.8h0M312.6 149.8h0M310.8 139.3h0M311.9 155.6h0M316.3 141.2h0M312.3 139.9h0M312.9 151.2h0M310.7 140.3h0M308.5 143.4h0M316.5 158.5h0M313.1 148.9h0M312.9 138.3h0M312.1 150.1h0M313.4 153.8h0M312.9 146.9h0M312.5 138.3h0M312.1 152.7h0M313.1 152.0h0M312.5 152.0h0M313.0 139.4h0M315.5 150.8h0M309.9 147.7h0M310.3 155.2h0M312.9 156.8h0M310.6 153.4h0M312.4 145.9h0M310.8 151.9h0M311.5 171.0h0M307.6 170.3h0M305.5 168.8h0M306.7 185.1h0M318.2 187.7h0M319.7 173.7h0M311.9 189.7h0M306.9 159.8h0M306.3 169.1h0M311.9 182.0h0M305.1 180.8h0M312.3 175.7h0M311.5 166.5h0M307.9 168.3h0M314.3 164.2h0M309.4 188.6h0M307.5 177.1h0M316.0 188.2h0M312.5 163.8h0M315.2 162.6h0M309.8 169.2h0M306.9 173.6h0M315.5 189.6h0M315.0 163.9h0M312.7 182.6h0M307.0 165.8h0M320.1 188.1h0M312.4 182.0h0M320.2 182.3h0M308.6 172.2h0M319.4 167.9h0M308.3 160.8h0M320.0 173.1h0M311.7 186.5h0M312.8 162.1h0M311.3 160.4h0M306.6 184.2h0M312.2 173.0h0M314.6 184.6h0M312.5 163.6h0M311.5 186.6h0M316.9 173.2h0M314.9 173.9h0M311.8 163.6h0M312.8 177.2h0M320.0 171.4h0M320.1 175.6h0M307.8 189.8h0M312.8 163.1h0M314.6 162.6h0M315.4 180.6h0M319.7 173.6h0M314.4 179.7h0M320.0 178.1h0M315.4 175.3h0M314.8 185.3h0M307.8 179.9h0M315.0 174.9h0M318.5 162.3h0M312.5 187.1h0M312.2 159.3h0M307.2 169.6h0M313.0 173.1h0M315.1 168.4h0M314.1 160.0h0M312.5 176.1h0M312.5 163.9h0M312.8 172.2h0M311.2 175.0h0M315.0 161.0h0M312.7 187.7h0M313.2 174.4h0M315.3 168.8h0M316.5 179.8h0M306.5 162.8h0M311.3 197.1h0M318.9 201.2h0M312.6 202.3h0M318.4 192.7h0M305.7 191.3h0M313.9 197.2h0M313.2 198.1h0M304.9 197.6h0M317.0 193.4h0M314.1 202.5h0M314.5 199.6h0M306.4 195.7h0M310.9 195.7h0M312.6 196.9h0M311.9 199.0h0M305.1 192.2h0M305.8 194.5h0M313.6 198.3h0M318.1 193.9h0M306.9 195.5h0M305.0 198.0h0M307.2 198.5h0M305.5 198.1h0M313.6 192.8h0M316.7 204.7h0M317.1 207.5h0M314.3 204.5h0M314.7 205.4h0M317.6 213.9h0M315.1 212.7h0M317.0 221.9h0M314.4 203.1h0M317.5 212.4h0M317.3 213.3h0M317.5 214.9h0M316.7 222.4h0M317.2 222.8h0M316.5 206.0h0M316.0 203.6h0M317.7 203.8h0M316.4 204.8h0M317.0 203.8h0M317.1 205.6h0M317.1 219.3h0M316.8 209.5h0M316.5 228.9h0M314.9 223.2h0M315.7 233.9h0M315.2 240.3h0M316.8 228.3h0M313.9 239.5h0M317.7 241.2h0M317.0 239.7h0M313.9 224.1h0M317.7 237.0h0M318.1 236.0h0M317.0 236.4h0M315.0 232.9h0M316.0 236.2h0M316.3 235.1h0" stroke="#00D7FF"/>
<path d="M284.5 273.8H320.3" stroke="#00D7FF" stroke-linecap="butt"/>
<path d="M330.5 63.7h0M330.5 73.3h0M330.5 75.4h0M353.0 73.3h0M353.0 76.5h0M353.0 80.0h0M353.0 83.5h0M353.0 87.0h0M353.0 90.3h0M357.0 76.0h0M347.0 83.5h0M326.5 88.2h0M328.5 90.3h0M330.5 91.3h0M332.6 86.2h0M332.6 91.3h0M343.8 91.3h0M345.9 90.3h0M347.0 93.4h0M321.9 111.9h0M338.7 164.0h0M338.7 166.0h0M334.6 175.3h0M336.6 175.8h0M345.9 176.4h0M341.3 181.5h0M337.7 184.0h0M327.0 192.0h0M327.0 201.2h0M327.0 210.4h0M325.0 213.5h0M325.4 217.6h0M336.7 199.2h0M337.7 202.2h0M339.7 205.8h0M340.3 220.1h0M343.3 194.0h0M325.4 224.5h0M332.0 224.5h0M332.6 228.1h0M332.0 233.2h0M333.6 236.3h0M337.7 248.5h0M337.7 253.6h0M337.7 249.0h0M337.7 255.2h0M336.7 258.2h0M335.6 262.3h0M333.6 263.3h0M325.4 266.4h0M332.6 270.0h0M335.6 271.0h0M337.7 271.5h0M321.3 251.6h0M322.4 254.0h0M334.4 120.1h0M332.1 98.6h0M330.2 125.6h0M331.5 99.3h0M332.5 96.2h0M329.1 120.2h0M333.5 125.0h0M329.4 125.0h0M329.3 106.4h0M334.5 119.6h0M329.9 105.5h0M332.5 103.7h0M329.5 113.3h0M328.8 120.9h0M331.6 125.8h0M333.9 111.9h0M332.2 118.2h0M328.5 124.5h0M333.4 109.6h0M331.1 119.7h0M331.4 121.3h0M332.2 115.3h0M329.4 99.4h0M333.5 126.0h0M329.1 101.6h0M330.6 107.0h0M332.2 109.8h0M332.0 121.3h0M331.4 117.6h0M328.8 119.8h0M332.0 96.7h0M333.4 121.4h0M330.7 104.0h0M333.4 122.6h0M329.3 109.3h0M333.1 97.9h0M330.6 118.8h0M329.2 95.6h0M332.7 120.1h0M329.0 108.1h0M331.1 99.3h0M333.4 114.4h0M332.4 102.7h0M333.6 104.2h0M333.3 108.0h0M336.3 119.5h0M340.8 115.2h0M340.9 125.0h0M337.0 120.2h0M338.0 109.9h0M337.4 113.2h0M338.0 122.0h0M340.6 114.3h0M340.9 115.7h0M342.6 105.1h0M344.2 117.9h0M342.6 121.6h0M345.8 126.9h0M342.4 118.5h0M347.4 117.8h0M345.3 119.3h0M345.6 121.9h0M342.2 95.7h0M342.3 97.4h0M347.1 118.0h0M345.2 116.6h0M344.2 99.4h0M347.1 109.0h0M345.0 98.2h0M344.5 101.3h0M342.1 95.7h0M345.0 126.2h0M342.1 125.2h0M342.2 104.0h0M346.8 98.6h0M341.1 107.9h0M342.3 123.2h0M342.1 108.8h0M346.7 116.5h0M344.7 100.0h0M342.5 116.5h0M342.7 98.0h0M345.2 113.9h0M341.0 116.4h0M347.2 98.5h0M342.3 124.3h0M342.3 124.6h0M344.0 110.2h0M342.5 126.9h0M342.1 115.4h0M340.9 119.5h0M342.7 125.0h0M342.5 100.7h0M346.3 115.6h0M345.8 120.2h0M343.0 98.4h0M347.0 115.8h0M345.2 120.0h0M346.2 104.8h0M341.7 108.8h0M346.7 113.3h0M345.7 110.7h0M344.7 125.5h0M342.5 95.6h0M344.7 127.0h0M347.2 109.1h0M347.3 101.7h0M342.3 105.7h0M347.5 112.4h0M347.4 124.2h0M347.0 120.6h0M357.6 99.7h0M357.4 104.0h0M348.6 111.5h0M348.1 100.6h0M352.9 103.4h0M349.4 105.3h0M351.3 100.2h0M356.9 106.4h0M352.9 101.7h0M358.0 99.6h0M352.3 97.4h0M358.0 114.3h0M356.7 108.6h0M356.4 98.3h0M357.2 113.3h0M348.7 97.0h0M351.1 114.1h0M350.8 111.3h0M351.3 113.3h0M352.6 98.1h0M354.9 106.4h0M356.6 111.6h0M357.6 98.5h0M356.6 106.0h0M357.0 110.5h0M351.1 114.6h0M351.0 115.6h0M352.5 112.6h0M355.5 107.5h0M359.3 110.7h0M353.1 112.3h0M357.5 103.3h0M357.4 99.4h0M348.7 111.1h0M352.7 112.2h0M356.8 105.5h0M357.9 96.1h0M357.7 104.0h0M357.2 115.7h0M353.1 112.6h0M351.5 104.6h0M358.3 105.4h0M357.0 111.5h0M353.2 106.7h0M352.9 105.5h0M353.5 101.0h0M357.7 105.3h0M354.2 108.3h0M350.6 110.7h0M359.3 115.3h0M348.3 110.7h0M350.5 114.6h0M354.1 103.5h0M350.7 96.2h0M357.5 98.6h0M358.8 96.4h0M357.2 103.9h0M353.4 98.5h0M351.2 112.3h0M352.3 100.2h0M353.5 110.1h0M356.8 113.0h0M352.5 110.3h0M356.9 113.5h0M357.6 104.6h0M358.0 115.1h0M350.4 126.6h0M352.7 120.1h0M355.1 117.7h0M350.8 124.7h0M350.3 117.2h0M350.5 116.5h0M350.9 117.6h0M348.0 122.2h0M350.7 123.9h0M350.8 120.9h0M351.4 123.5h0M351.0 124.7h0M353.7 119.6h0M350.7 116.2h0M353.3 116.6h0M353.7 123.0h0M350.9 120.8h0M350.5 118.0h0M351.5 118.0h0M354.4 124.4h0M356.4 123.5h0M325.3 124.3h0M325.4 120.3h0M325.1 119.6h0M321.7 128.3h0M328.1 156.1h0M330.3 132.3h0M324.0 133.6h0M324.2 159.5h0M330.6 132.2h0M327.3 151.8h0M328.5 151.5h0M323.6 144.0h0M327.2 147.4h0M330.3 134.7h0M326.7 135.7h0M323.9 140.9h0M326.8 129.4h0M324.3 146.5h0M338.4 146.4h0M335.8 151.9h0M338.1 145.2h0M335.6 132.7h0M338.7 142.5h0M331.9 127.4h0M351.0 141.8h0M349.2 139.3h0M350.2 127.1h0M349.6 127.2h0M357.5 132.1h0M353.0 135.2h0M348.7 137.7h0M355.2 131.9h0M350.5 134.0h0M323.9 189.5h0M323.2 178.9h0M327.4 181.6h0M321.1 160.4h0M327.9 162.1h0M329.7 188.8h0M323.6 161.8h0M329.9 159.0h0M321.0 190.6h0M324.7 159.3h0M330.3 172.9h0M329.2 167.1h0M329.6 165.9h0M329.7 163.2h0M327.8 170.2h0M324.1 163.6h0M325.0 183.9h0M329.4 188.8h0M324.3 167.8h0M328.3 163.6h0M321.0 161.8h0M321.4 172.6h0M325.9 188.9h0M327.4 177.3h0M329.5 161.3h0M321.4 164.5h0M321.7 171.6h0M323.1 170.8h0M327.5 172.0h0M323.8 176.4h0M326.5 186.2h0M329.8 166.8h0M324.3 171.7h0M320.7 171.2h0M327.3 180.5h0M321.2 161.6h0M322.5 182.7h0M324.3 164.5h0M323.9 171.8h0M327.9 179.9h0M327.3 171.7h0M325.6 167.7h0M321.3 161.1h0M323.8 170.6h0M323.5 166.0h0M329.8 187.9h0M328.4 176.8h0M330.1 173.9h0M327.2 176.9h0M327.8 163.5h0M322.9 163.4h0M323.9 168.0h0M327.6 187.8h0M328.6 175.1h0M329.6 190.1h0M321.0 184.4h0M321.2 169.5h0M329.6 185.1h0M328.0 188.9h0M329.7 187.2h0M356.2 168.7h0M358.6 180.2h0M359.8 186.5h0M362.2 180.4h0M361.2 177.6h0M363.9 173.6h0M357.8 175.2h0M361.3 187.4h0M355.8 162.7h0M360.8 192.2h0M355.9 205.0h0M360.6 222.0h0M360.6 204.1h0M355.5 200.6h0M361.5 215.2h0M355.8 204.0h0M355.9 211.3h0M356.3 197.9h0M359.7 206.8h0M360.2 197.8h0M361.7 213.5h0M361.3 203.6h0M355.0 193.6h0M361.3 197.4h0M361.5 215.7h0M354.5 193.0h0M355.8 217.6h0M363.7 256.7h0M363.4 230.5h0M357.2 245.1h0M364.7 257.7h0M354.7 258.6h0M354.7 258.2h0M361.5 248.4h0M363.2 271.0h0M363.8 266.9h0M354.9 245.8h0M354.7 236.8h0M359.6 256.4h0M364.4 231.2h0M360.0 244.4h0M364.1 241.1h0M362.4 246.6h0M359.5 264.2h0M364.2 259.5h0M354.3 250.9h0M363.9 256.4h0M363.7 259.1h0M354.4 225.8h0M356.8 246.1h0M356.9 233.1h0M365.2 260.4h0M361.6 235.2h0M363.1 240.1h0M362.2 252.8h0M361.6 261.9h0M362.2 230.8h0M361.6 267.4h0M355.0 268.0h0M363.6 259.2h0M365.3 254.7h0M353.9 235.2h0M363.4 223.4h0M354.6 244.2h0M363.9 233.3h0M363.9 248.9h0M363.3 239.7h0M361.5 245.8h0M355.2 243.7h0M354.3 226.6h0M363.6 247.1h0M363.6 241.8h0M363.2 253.6h0M362.0 263.7h0M356.8 263.3h0M363.8 261.8h0M363.9 240.8h0M358.3 226.5h0M361.5 247.2h0M363.5 253.7h0M359.5 237.4h0M361.5 254.6h0M364.0 271.1h0M365.2 267.4h0M361.4 269.0h0M361.9 231.5h0M357.1 241.1h0M362.5 228.1h0M362.1 232.4h0M361.3 255.1h0M363.2 250.1h0M359.6 253.8h0M361.4 229.9h0M364.9 247.6h0M361.8 243.4h0M363.9 263.6h0M361.7 224.8h0M359.9 225.1h0M360.5 266.9h0M365.1 256.1h0M362.2 226.8h0M365.3 249.6h0M364.4 231.7h0M354.5 247.0h0M363.5 233.7h0M354.4 254.6h0M364.4 256.6h0M356.0 240.6h0M354.8 264.7h0M362.0 231.8h0M363.0 262.3h0M362.2 266.8h0M359.1 261.6h0M364.0 271.0h0M364.2 242.7h0M365.1 265.9h0M362.1 238.0h0M365.2 269.2h0M362.2 230.0h0M361.0 267.0h0M361.3 255.2h0M355.9 251.2h0M355.5 265.8h0M354.9 228.6h0M364.6 257.2h0M365.1 261.6h0M364.9 238.3h0M362.3 226.4h0M359.2 259.1h0M361.0 263.9h0M355.2 236.1h0M357.5 244.2h0M362.1 227.7h0M365.2 238.0h0M365.1 228.7h0M364.0 239.5h0M361.6 263.9h0M354.6 238.8h0M361.8 240.0h0M320.4 167.3h0M320.3 175.4h0M320.5 160.6h0" stroke="#0086FF"/>
<path d="M320.3 273.8H363.3" stroke="#0086FF" stroke-linecap="butt"/>
<path d="M376.0 70.3h0M371.4 79.7h0M371.5 112.4h0M382.0 120.5h0M385.3 119.5h0M383.8 121.6h0M382.3 123.6h0M386.9 125.1h0M389.9 119.0h0M388.9 125.6h0M396.6 142.3h0M397.1 149.0h0M396.0 152.6h0M392.5 148.5h0M407.8 145.4h0M407.8 147.4h0M413.4 113.4h0M408.8 175.9h0M403.7 184.5h0M407.8 189.6h0M395.5 193.0h0M396.0 196.0h0M394.5 212.5h0M394.5 217.5h0M393.0 221.6h0M392.0 263.3h0M392.0 266.4h0M365.3 240.7h0M365.7 246.2h0M365.3 237.3h0M365.5 251.5h0M365.7 250.5h0M365.4 226.0h0M365.3 236.9h0M365.3 239.7h0M365.6 245.8h0M365.7 227.1h0M365.6 238.0h0M368.8 123.6h0M369.9 123.3h0M372.8 125.5h0M369.0 126.5h0M373.0 125.7h0M373.2 121.9h0M365.7 129.9h0M370.4 132.4h0M368.4 156.8h0M367.3 145.8h0M365.7 148.0h0M366.1 135.1h0M371.8 156.1h0M366.5 129.8h0M371.4 127.6h0M365.9 127.5h0M367.9 158.4h0M369.9 147.0h0M366.3 133.9h0M370.7 153.7h0M370.6 129.9h0M368.0 130.4h0M366.4 142.5h0M366.1 130.1h0M366.0 146.6h0M366.5 151.7h0M368.3 131.6h0M370.3 130.9h0M368.4 148.2h0M367.1 131.1h0M368.8 135.2h0M368.4 139.1h0M366.6 141.1h0M371.1 147.4h0M373.2 128.0h0M370.1 128.0h0M366.4 158.2h0M366.0 146.4h0M368.4 138.9h0M366.3 132.5h0M367.8 127.7h0M370.2 142.4h0M366.4 153.8h0M369.0 158.1h0M370.2 131.1h0M368.4 134.8h0M367.6 145.2h0M369.7 159.3h0M369.9 148.7h0M369.9 153.5h0M371.7 129.9h0M370.4 153.7h0M373.1 139.9h0M368.5 153.9h0M372.5 128.9h0M369.0 157.8h0M368.0 132.4h0M368.1 130.3h0M368.4 142.9h0M369.6 153.9h0M387.0 139.9h0M383.1 141.4h0M384.6 154.0h0M388.6 147.6h0M388.8 152.7h0M388.7 140.0h0M388.8 133.9h0M384.1 134.8h0M385.5 140.1h0M389.7 146.5h0M388.7 138.4h0M388.5 159.6h0M388.6 159.0h0M388.6 154.1h0M383.2 143.0h0M386.2 143.6h0M389.0 135.8h0M389.0 138.8h0M388.0 136.6h0M389.1 148.6h0M382.5 158.8h0M388.9 146.7h0M383.4 132.1h0M383.7 156.7h0M388.3 158.4h0M389.3 153.2h0M386.3 140.3h0M388.8 144.5h0M383.0 138.8h0M386.0 158.0h0M389.4 156.6h0M387.7 152.3h0M389.8 156.3h0M390.1 159.3h0M390.6 159.9h0M387.9 150.0h0M375.6 145.6h0M376.2 148.0h0M389.7 149.4h0M365.4 185.5h0M371.7 182.0h0M365.6 172.1h0M366.5 165.3h0M366.5 188.3h0M365.6 180.9h0M372.6 164.3h0M367.1 177.6h0M367.1 172.0h0M366.3 168.8h0M367.1 187.8h0M366.9 171.4h0M366.6 166.0h0M369.9 172.1h0M372.0 169.4h0M369.6 182.2h0M366.8 179.9h0M373.3 181.6h0M371.4 166.3h0M366.9 166.1h0M371.2 166.1h0M366.8 189.4h0M366.5 184.6h0M366.0 171.9h0M372.2 182.1h0M370.8 182.4h0M372.5 175.9h0M371.3 176.7h0M372.6 184.2h0M368.9 174.2h0M371.0 178.5h0M372.4 189.3h0M367.1 185.5h0M372.8 165.0h0M365.9 182.6h0M366.5 175.6h0M371.3 190.5h0M372.3 188.6h0M366.3 162.7h0M366.4 183.7h0M366.7 170.5h0M370.9 181.5h0M369.6 178.4h0M366.3 170.3h0M372.5 177.5h0M371.2 186.9h0M373.3 187.2h0M371.0 182.2h0M366.8 167.1h0M369.2 160.6h0M370.8 169.2h0M372.6 174.8h0M373.0 180.0h0M366.8 188.0h0M370.9 180.4h0M372.1 175.3h0M370.7 177.9h0M370.3 180.0h0M370.8 182.6h0M365.4 171.1h0M371.2 176.4h0M370.9 164.3h0M371.3 177.5h0M367.2 209.9h0M369.5 209.4h0M369.3 206.7h0M372.8 215.7h0M368.2 220.1h0M367.5 196.8h0M367.6 203.7h0M373.8 209.0h0M372.9 221.4h0M369.7 204.5h0M368.4 199.3h0M369.9 206.9h0M367.7 196.4h0M368.0 196.5h0M367.8 194.9h0M370.0 196.4h0M369.3 210.5h0M374.3 210.2h0M373.8 202.2h0M374.0 209.8h0M370.3 198.4h0M371.1 191.4h0M370.0 201.6h0M369.4 192.5h0M368.1 192.9h0M369.9 220.6h0M372.8 219.2h0M369.8 220.7h0M370.4 216.4h0M369.2 196.8h0M373.2 220.2h0M374.0 205.9h0M369.3 215.1h0M367.3 214.7h0M368.2 198.3h0M367.5 221.7h0M367.5 200.1h0M367.4 206.1h0M373.8 203.7h0M373.4 197.8h0M369.8 215.9h0M367.4 208.6h0M367.8 220.4h0M372.5 215.0h0M367.2 207.8h0M373.2 196.1h0M368.3 205.4h0M370.0 191.0h0M369.9 221.8h0M375.0 196.6h0M370.0 218.9h0M373.6 209.6h0M371.0 205.7h0M373.5 215.2h0M371.3 191.8h0M370.1 206.3h0M369.8 206.7h0M369.7 205.4h0M369.7 215.3h0M367.5 220.6h0M367.4 201.2h0M369.5 221.8h0M369.8 204.9h0M373.4 219.2h0M367.2 217.6h0M373.2 196.9h0M367.6 213.8h0M369.8 212.6h0M373.1 197.8h0M371.9 209.9h0M367.7 213.4h0M367.4 202.4h0M370.1 197.1h0M373.3 217.5h0M371.6 205.8h0M377.4 188.5h0M388.4 177.1h0M376.1 162.0h0M379.8 187.1h0M389.0 168.5h0M379.6 169.6h0M376.5 185.8h0M378.0 165.6h0M375.2 162.9h0M385.9 185.5h0M384.4 189.6h0M381.8 174.8h0M377.5 169.6h0M388.5 174.3h0M378.3 177.4h0M377.8 169.8h0M385.0 180.8h0M382.5 165.6h0M378.2 190.4h0M379.9 186.1h0M377.5 172.4h0M382.4 172.2h0M382.0 174.2h0M383.9 187.2h0M382.4 182.6h0M388.7 183.0h0M378.0 187.4h0M386.0 189.2h0M388.4 181.3h0M389.5 183.9h0M385.2 185.6h0M379.9 176.8h0M388.5 174.6h0M379.6 183.8h0M382.5 184.6h0M386.0 174.4h0M378.5 184.6h0M389.0 185.3h0M387.4 166.9h0M379.8 179.8h0M382.1 180.8h0M383.9 178.6h0M382.4 190.9h0M385.9 175.4h0M382.4 160.1h0M376.7 181.1h0M377.6 165.7h0M385.9 186.1h0M397.7 163.6h0M397.9 164.5h0M395.1 162.7h0M395.4 159.8h0M395.3 173.8h0M395.0 170.9h0M394.8 166.3h0M394.9 159.9h0M394.9 163.9h0M396.7 165.5h0M395.4 167.6h0M399.4 173.7h0M380.6 196.4h0M377.8 210.7h0M378.4 217.7h0M374.6 199.1h0M370.8 196.6h0M373.4 217.5h0M374.8 207.5h0M379.8 201.4h0M379.9 195.1h0M379.1 204.2h0M379.5 203.0h0M370.1 213.8h0M380.9 220.6h0M380.4 213.7h0M380.0 216.7h0M378.9 198.1h0M378.5 206.2h0M375.0 214.4h0M374.9 195.6h0M379.6 211.2h0M379.6 207.9h0M373.5 192.9h0M380.2 215.5h0M379.4 221.9h0M375.5 207.5h0M378.3 210.6h0M379.0 201.4h0M379.3 221.0h0M374.5 201.7h0M373.0 221.3h0M375.4 195.6h0M379.7 192.4h0M379.9 219.4h0M384.3 223.0h0M383.7 196.5h0M390.0 219.9h0M385.9 214.5h0M385.0 207.5h0M385.8 221.6h0M385.7 215.3h0M385.5 191.0h0M383.2 215.1h0M390.5 214.1h0M385.7 191.7h0M389.3 196.9h0M384.3 222.5h0M384.8 218.7h0M388.1 195.8h0M408.9 214.0h0M406.2 195.2h0M406.0 211.1h0M408.1 219.6h0M406.5 204.6h0M406.8 210.1h0M410.1 210.2h0M406.8 220.0h0M406.6 211.3h0M406.3 192.6h0M406.3 222.5h0M406.2 207.2h0M408.4 201.3h0M405.9 193.6h0M406.7 218.3h0M406.7 197.9h0M406.1 209.3h0M406.6 217.8h0M406.7 219.4h0M409.9 209.4h0M406.6 196.9h0M406.2 205.7h0M406.2 215.5h0M406.8 222.8h0M406.3 215.4h0M406.8 219.8h0M407.0 205.6h0M410.8 200.8h0M405.8 193.8h0M406.3 194.9h0M406.6 221.6h0M406.5 203.1h0M406.5 208.2h0M405.8 208.9h0M406.4 197.2h0M407.1 199.4h0M371.5 231.7h0M371.7 228.3h0M370.8 225.2h0M371.7 226.4h0M374.1 225.4h0M372.1 223.4h0M370.1 227.1h0M371.0 227.1h0M370.0 228.9h0M369.6 228.2h0M369.9 224.5h0M369.7 225.2h0M372.0 230.0h0M375.0 233.5h0M369.9 223.1h0M370.1 227.8h0M371.7 230.6h0M371.5 227.4h0M372.6 231.8h0M374.7 232.4h0M369.7 227.3h0M371.3 234.1h0M370.0 226.0h0M369.6 228.9h0M367.5 264.6h0M374.5 263.7h0M375.1 260.4h0M369.8 237.9h0M369.5 254.5h0M374.4 246.6h0M373.0 261.8h0M373.6 268.6h0M374.2 262.4h0M370.6 251.2h0M373.8 248.2h0M374.7 253.6h0M367.3 270.7h0M374.1 254.9h0M373.7 243.7h0M374.7 240.3h0M373.3 248.2h0M371.6 254.2h0M374.6 268.6h0M374.7 264.2h0M371.5 254.0h0M373.6 271.0h0M368.8 243.0h0M369.5 248.8h0M373.7 263.3h0M374.7 242.4h0M371.0 270.4h0M374.7 249.6h0M374.5 255.7h0M369.3 251.1h0M369.9 242.9h0M372.6 252.2h0M374.8 267.4h0M372.0 260.0h0M369.0 249.1h0M369.2 271.5h0M374.9 268.2h0M374.7 261.5h0M374.7 247.7h0M369.6 256.3h0M373.0 253.1h0M374.5 243.1h0M370.1 271.0h0M374.5 238.9h0M371.9 247.6h0M370.1 257.0h0M374.7 260.1h0M369.6 245.3h0M374.8 255.9h0M371.9 263.7h0M367.7 243.4h0M374.3 246.3h0M373.5 254.2h0M370.9 238.8h0M367.9 261.2h0M372.9 244.6h0M373.3 250.4h0M374.7 240.4h0M372.6 256.7h0M368.4 235.0h0M384.0 247.4h0M379.8 224.4h0M383.1 248.4h0M382.9 245.1h0M376.2 250.5h0M380.0 233.2h0M379.4 228.9h0M376.9 249.9h0M371.5 234.4h0M372.8 229.3h0M382.0 239.1h0M373.5 228.5h0M380.9 224.6h0M378.6 249.7h0M380.2 245.3h0M382.0 227.3h0M382.2 229.1h0M380.9 244.0h0M377.7 235.8h0M378.6 226.3h0M376.5 225.8h0M371.8 236.5h0M372.8 247.2h0M381.9 234.8h0M380.0 242.6h0M375.1 235.6h0M380.5 226.9h0M380.0 228.2h0M373.9 236.5h0M373.5 226.4h0M381.2 238.4h0M381.6 246.2h0M373.9 249.5h0M370.8 237.9h0M373.3 235.7h0M375.4 225.8h0M380.5 227.8h0M385.4 230.2h0M376.4 228.1h0M373.2 246.8h0M370.8 234.6h0M381.5 239.4h0M379.7 233.3h0M374.3 247.4h0M371.2 244.0h0M380.5 248.6h0M383.4 236.1h0M384.2 252.9h0M380.9 252.2h0M373.6 251.8h0M380.0 229.8h0M379.7 229.5h0M382.9 239.6h0M372.7 253.7h0M373.1 227.7h0M381.6 226.8h0M384.1 233.1h0M386.6 247.3h0M392.6 236.7h0M386.5 253.0h0M395.9 237.5h0M393.9 241.6h0M389.7 254.5h0M386.9 234.7h0M389.8 251.0h0M392.3 234.9h0M393.8 251.3h0M396.1 231.7h0M387.4 243.4h0M377.9 257.1h0M372.8 265.2h0M377.9 261.7h0M378.5 261.0h0M376.0 259.3h0M371.7 259.4h0M378.4 255.5h0M377.7 256.3h0M371.7 261.5h0M374.2 262.4h0M377.4 265.6h0M378.1 261.0h0M376.1 264.7h0M374.2 265.8h0M378.2 260.9h0M379.1 262.9h0M379.0 261.7h0M371.5 262.5h0M379.2 259.0h0M374.2 261.7h0M377.4 261.4h0M374.6 263.3h0M374.2 260.7h0M374.5 260.7h0M379.1 262.0h0M371.7 258.1h0M378.3 261.6h0M379.1 255.4h0M371.5 263.0h0M373.0 261.4h0M377.6 263.9h0M377.7 265.2h0M373.2 266.4h0M373.0 259.8h0M376.8 261.3h0M373.8 264.5h0M372.6 260.2h0M378.6 262.7h0M379.0 263.7h0M372.5 263.4h0M378.6 255.7h0M378.2 262.1h0M378.2 258.9h0M377.9 255.5h0M373.5 255.1h0M378.7 266.0h0M379.5 258.2h0M377.8 261.9h0M378.6 257.6h0M378.3 257.9h0M373.8 258.4h0M378.9 266.5h0M380.0 256.8h0M373.5 258.2h0M381.6 259.9h0M382.2 256.3h0M372.8 262.8h0M410.0 259.1h0M407.8 243.6h0M407.2 238.9h0M408.2 241.9h0M408.1 264.1h0M411.3 238.6h0M410.4 227.6h0M409.6 258.3h0M409.6 237.2h0M409.7 253.5h0M407.5 235.8h0M407.6 258.7h0M409.3 252.2h0M407.4 223.5h0M411.4 243.2h0M410.9 235.3h0M407.8 270.9h0M409.0 240.9h0M411.1 239.1h0M407.8 227.1h0M407.3 227.8h0M409.6 239.0h0M409.7 233.7h0M407.5 223.4h0M410.0 256.7h0M409.7 245.8h0M409.7 237.7h0M408.3 252.6h0M410.0 239.0h0M407.7 238.4h0M410.0 266.4h0M408.0 250.2h0M409.0 227.5h0M407.9 270.8h0M410.0 264.3h0M407.9 245.5h0M409.9 244.2h0M409.5 265.4h0M407.6 233.2h0M407.1 254.6h0M410.6 259.2h0M409.7 242.8h0M408.0 251.8h0M409.2 224.7h0M409.8 225.1h0M409.7 255.1h0M408.2 253.6h0M410.0 261.1h0M409.6 263.4h0M409.6 239.4h0M409.7 248.9h0M407.4 262.4h0M408.9 249.4h0M410.0 229.6h0M417.1 160.8h0M417.4 201.5h0M415.6 194.9h0M415.5 208.4h0M415.7 217.7h0M416.0 211.2h0M416.2 216.8h0M416.1 200.4h0M416.8 218.2h0M415.8 199.4h0M414.9 206.2h0M416.0 211.5h0M416.9 193.9h0M415.6 202.7h0M416.2 192.0h0M416.7 194.3h0M414.8 205.5h0M417.1 218.1h0M414.4 213.0h0M415.6 205.2h0M416.9 194.0h0M416.9 191.9h0M415.4 194.5h0M417.3 192.0h0M416.5 212.1h0M416.9 192.3h0M417.1 198.8h0M416.3 209.0h0M416.4 201.7h0M415.5 219.5h0M415.6 202.8h0M416.4 198.6h0M417.0 220.3h0M415.6 191.2h0M417.3 194.9h0M415.6 201.6h0M415.6 198.8h0M415.6 214.2h0M415.9 198.2h0M415.9 220.2h0M417.4 206.8h0M416.1 221.1h0M416.3 217.8h0M417.6 203.0h0M417.1 215.6h0M417.5 193.8h0M417.2 210.7h0M416.3 191.2h0M416.1 216.8h0M414.1 194.8h0M415.4 199.1h0M415.7 225.0h0M416.4 226.7h0M417.5 226.9h0M414.0 228.9h0M415.2 223.3h0M417.6 228.0h0M416.0 225.2h0M415.5 225.1h0M415.0 224.7h0M415.6 228.1h0M415.5 226.4h0M415.6 223.7h0M417.4 224.2h0M415.2 225.2h0M415.6 230.9h0M416.4 247.9h0M414.6 258.9h0M416.9 235.2h0M415.7 244.2h0M416.3 245.4h0M414.6 266.1h0M413.9 268.7h0M415.3 239.2h0M417.2 261.8h0M416.3 250.1h0M415.8 251.2h0M417.1 233.3h0M415.6 270.4h0M415.9 255.6h0M416.5 265.0h0M417.2 233.7h0M415.7 252.3h0" stroke="#0036FF"/>
<path d="M363.3 273.8H417.8" stroke="#0036FF" stroke-linecap="butt"/>
<path d="M426.2 118.7h0M422.0 126.7h0M422.0 128.0h0M421.6 133.6h0M422.6 140.3h0M430.3 130.0h0M430.3 133.5h0M430.3 137.0h0M439.5 138.2h0M439.5 145.4h0M433.3 263.3h0M436.4 268.4h0M437.4 260.3h0M439.5 250.0h0M439.5 257.2h0M462.6 86.6h0M445.2 103.0h0M445.5 106.0h0M446.0 109.5h0M446.5 113.0h0M446.5 116.5h0M442.7 117.0h0M446.2 122.6h0M447.3 125.6h0M453.9 108.3h0M456.5 110.3h0M454.9 116.5h0M456.5 125.1h0M456.5 142.3h0M439.6 172.8h0M440.1 178.4h0M440.1 182.5h0M445.2 165.1h0M450.3 165.6h0M435.0 194.0h0M435.0 201.0h0M435.0 212.5h0M440.6 198.2h0M440.6 200.2h0M439.6 204.3h0M441.0 220.1h0M451.3 192.0h0M451.3 195.6h0M446.8 206.3h0M447.3 209.4h0M447.3 212.5h0M440.6 229.1h0M440.6 231.2h0M445.2 228.1h0M439.1 250.6h0M452.4 237.8h0M439.6 260.3h0M436.0 262.3h0M436.0 269.0h0M455.0 255.1h0M460.5 223.0h0M430.3 152.0h0M427.1 152.8h0M431.6 154.2h0M430.6 151.8h0M425.8 156.9h0M431.0 156.9h0M430.2 156.9h0M431.2 152.0h0M423.7 155.8h0M422.4 177.5h0M419.8 159.8h0M419.0 160.6h0M421.8 176.5h0M431.5 164.7h0M418.6 184.0h0M424.6 165.7h0M419.3 183.0h0M424.3 187.2h0M430.5 191.0h0M425.4 160.8h0M425.0 159.6h0M422.5 176.6h0M423.1 186.1h0M435.4 174.5h0M422.6 187.4h0M424.5 160.8h0M432.4 188.2h0M422.2 177.6h0M423.8 176.7h0M422.4 180.3h0M431.3 169.1h0M431.1 171.1h0M428.2 189.8h0M431.7 179.9h0M433.2 181.4h0M424.5 185.4h0M419.4 164.9h0M418.7 185.0h0M431.3 172.7h0M424.7 166.3h0M419.7 175.1h0M424.3 173.4h0M418.1 162.9h0M424.7 162.8h0M421.9 162.2h0M421.4 169.3h0M424.7 166.2h0M418.6 186.3h0M418.9 182.9h0M419.9 180.3h0M420.0 162.4h0M426.9 171.0h0M419.5 186.9h0M424.8 181.8h0M424.6 173.1h0M428.9 171.9h0M425.7 170.1h0M425.6 168.1h0M431.6 173.9h0M431.9 174.6h0M418.4 182.9h0M425.3 181.4h0M418.3 183.6h0M431.4 166.5h0M420.4 183.8h0M428.2 169.3h0M431.7 184.3h0M425.6 184.8h0M430.7 184.9h0M418.6 165.7h0M424.7 190.8h0M431.8 189.1h0M432.8 186.3h0M424.2 184.4h0M425.5 185.7h0M433.9 190.3h0M431.3 181.3h0M428.1 159.0h0M425.0 164.4h0M424.5 176.3h0M431.7 179.3h0M422.4 181.0h0M434.1 176.6h0M431.8 181.1h0M432.1 160.3h0M424.6 181.5h0M434.8 182.6h0M422.6 180.9h0M426.7 183.0h0M421.7 179.9h0M424.2 160.8h0M418.6 182.5h0M419.6 186.6h0M420.2 177.8h0M420.9 168.1h0M426.0 165.5h0M424.5 180.6h0M421.1 159.7h0M418.3 184.0h0M421.3 178.9h0M424.5 176.5h0M418.6 166.6h0M421.9 177.2h0M419.8 187.7h0M419.0 184.7h0M418.7 173.3h0M420.3 180.0h0M424.4 185.3h0M423.0 179.3h0M425.8 175.8h0M422.4 161.0h0M424.6 185.4h0M432.0 169.6h0M426.3 189.8h0M424.4 177.0h0M424.4 185.5h0M424.9 188.5h0M424.8 178.6h0M418.5 186.9h0M428.2 188.2h0M419.1 177.5h0M423.3 175.0h0M420.2 159.8h0M434.0 172.5h0M419.9 163.9h0M419.9 215.3h0M419.8 206.9h0M421.8 220.3h0M418.9 198.8h0M418.6 193.7h0M418.1 194.2h0M418.4 197.9h0M418.8 215.8h0M419.9 210.6h0M419.5 219.0h0M419.4 192.8h0M419.0 206.5h0M418.2 203.1h0M420.3 205.8h0M419.7 196.3h0M420.2 205.6h0M420.0 209.1h0M418.7 211.9h0M419.6 207.2h0M419.9 202.9h0M422.1 214.5h0M419.8 215.6h0M425.7 198.2h0M418.3 204.7h0M425.8 217.0h0M418.9 204.9h0M418.3 202.6h0M419.8 215.4h0M418.6 219.1h0M421.2 217.6h0M418.8 221.4h0M419.5 199.0h0M419.3 197.9h0M418.7 207.3h0M419.4 200.4h0M420.0 205.1h0M418.8 198.5h0M421.3 216.2h0M419.7 219.9h0M418.9 192.7h0M421.2 201.2h0M420.8 193.2h0M421.3 194.0h0M419.5 216.1h0M418.7 215.4h0M419.0 203.5h0M419.8 192.0h0M421.1 208.1h0M419.3 199.4h0M420.6 217.3h0M418.4 206.3h0M425.9 219.3h0M424.5 201.3h0M418.5 208.8h0M422.8 196.0h0M418.1 216.5h0M421.2 202.8h0M418.7 204.0h0M419.9 214.3h0M420.0 193.3h0M419.6 206.7h0M418.7 216.7h0M419.3 209.3h0M421.4 199.0h0M418.8 211.9h0M419.1 191.8h0M420.1 212.3h0M419.2 211.6h0M419.7 208.6h0M418.8 215.4h0M418.7 219.9h0M418.7 191.2h0M419.1 206.4h0M422.0 218.9h0M419.1 193.4h0M426.2 203.1h0M429.4 210.8h0M432.5 218.8h0M430.0 208.0h0M429.0 196.2h0M430.1 192.0h0M432.8 221.0h0M432.1 221.4h0M430.5 212.5h0M430.2 199.9h0M431.2 213.5h0M429.7 208.5h0M429.4 217.7h0M429.5 219.1h0M433.0 216.5h0M432.5 191.1h0M441.7 179.6h0M441.7 220.0h0M441.9 230.1h0M427.3 224.9h0M426.6 230.3h0M421.1 225.0h0M425.8 226.2h0M421.5 223.3h0M426.4 223.6h0M421.3 229.5h0M420.6 224.0h0M421.7 227.0h0M419.2 223.8h0M421.5 224.2h0M421.9 223.9h0M427.1 228.6h0M421.5 224.2h0M426.6 230.4h0M426.7 226.9h0M423.8 225.4h0M426.3 226.1h0M417.8 252.5h0M424.9 255.6h0M423.8 244.2h0M421.6 244.2h0M423.9 239.9h0M424.0 242.5h0M424.0 269.5h0M422.0 251.1h0M423.4 258.4h0M424.2 233.8h0M424.1 248.7h0M424.3 249.3h0M419.4 255.3h0M421.6 235.3h0M427.1 245.7h0M425.3 256.3h0M421.7 232.0h0M423.6 241.3h0M421.6 257.2h0M426.2 243.6h0M418.9 258.7h0M423.8 255.5h0M424.2 237.2h0M419.0 257.4h0M422.0 258.2h0M421.7 269.5h0M422.0 255.9h0M425.4 241.6h0M423.8 257.0h0M421.8 269.7h0M421.5 270.7h0M418.6 243.2h0M418.7 247.3h0M419.0 258.3h0M418.6 259.7h0M423.1 270.0h0M424.1 255.9h0M422.6 243.0h0M424.6 267.8h0M423.9 233.5h0M426.0 243.0h0M423.7 270.3h0M423.9 244.0h0M425.3 260.4h0M419.5 268.8h0M424.3 261.5h0M431.5 237.6h0M432.7 233.4h0M431.7 233.6h0M435.1 234.3h0M431.4 244.7h0M435.0 238.4h0M431.5 231.8h0M432.7 233.0h0M435.4 237.2h0M431.2 244.8h0M431.6 231.2h0M435.0 247.2h0M450.0 128.8h0M446.7 130.5h0M453.2 142.0h0M447.7 129.9h0M448.1 133.3h0M452.4 158.7h0M447.9 140.8h0M450.5 145.3h0M450.1 143.6h0M450.8 137.5h0M447.1 133.3h0M450.0 127.6h0M450.5 148.4h0M450.2 152.2h0M450.3 129.5h0M447.7 135.0h0M450.0 154.9h0M449.6 129.6h0M450.4 159.9h0M446.2 146.3h0M446.6 129.5h0M450.8 137.8h0M455.3 128.2h0M447.8 130.0h0M450.9 132.9h0M448.0 133.2h0M450.5 146.1h0M449.8 137.3h0M450.3 137.8h0M452.4 130.1h0M447.8 156.5h0M446.9 157.5h0M447.1 151.0h0M454.3 157.3h0M450.0 158.4h0M449.6 144.3h0M450.1 140.9h0M446.7 129.2h0M446.9 148.5h0M449.7 146.0h0M452.7 134.8h0M451.3 148.8h0M450.4 146.8h0M450.4 155.4h0M452.9 133.7h0M447.1 147.5h0M447.7 127.5h0M451.0 134.3h0M453.7 184.1h0M457.6 185.6h0M449.7 182.5h0M455.8 183.7h0M452.9 167.8h0M459.4 188.4h0M449.3 189.1h0M457.8 187.3h0M456.2 187.5h0M453.3 178.3h0M454.2 172.9h0M449.0 175.5h0M453.3 180.3h0M448.4 167.0h0M452.7 177.6h0M449.1 177.9h0M455.5 170.7h0M453.8 179.7h0M453.5 173.5h0M449.2 173.1h0M455.9 183.7h0M452.9 173.0h0M453.0 168.1h0M453.2 176.1h0M454.5 175.0h0M455.5 177.1h0M452.0 184.6h0M456.2 167.7h0M453.4 168.8h0M456.1 179.3h0M453.8 190.3h0M455.9 184.4h0M459.1 171.0h0M449.0 181.2h0M449.3 184.8h0M456.1 174.1h0M454.2 180.5h0M456.0 171.6h0M453.0 181.7h0M455.7 185.3h0M455.9 172.8h0M456.8 177.4h0M460.6 184.1h0M456.3 188.7h0M453.4 178.9h0M448.0 185.8h0M456.1 169.9h0M457.3 187.1h0M455.9 168.1h0M448.8 171.2h0M455.9 181.3h0M448.6 186.8h0M457.8 184.9h0M455.8 185.3h0M452.5 177.0h0M453.4 166.4h0M449.3 173.7h0M457.7 171.2h0M455.7 190.7h0M456.4 172.1h0M448.6 167.0h0M448.2 179.1h0M449.1 173.4h0M457.4 172.1h0M448.6 185.1h0M455.7 181.9h0M448.9 184.7h0M455.8 189.9h0M455.9 173.1h0M458.1 175.8h0M448.3 190.0h0M457.8 183.7h0M455.8 188.8h0M457.8 190.1h0M456.0 188.3h0M455.2 182.5h0M449.3 189.4h0M453.1 181.0h0M453.1 169.2h0M459.6 175.4h0M457.2 177.3h0M453.7 180.9h0M453.1 190.1h0M453.1 178.5h0M447.8 175.2h0M454.6 186.9h0M453.6 178.4h0M450.2 183.9h0M453.6 166.8h0M449.2 178.7h0M453.4 185.5h0M457.4 180.7h0M454.1 170.2h0M449.6 186.7h0M455.9 180.6h0M448.7 178.7h0M456.0 167.8h0M457.4 187.0h0M454.2 168.5h0M457.9 181.7h0M448.1 183.5h0M453.1 166.2h0M453.1 176.9h0M456.0 177.4h0M449.1 188.6h0M453.7 174.7h0M449.4 169.1h0M452.2 168.3h0M459.5 187.9h0M453.2 191.0h0M462.6 172.7h0M455.9 168.3h0M457.8 166.2h0M455.7 186.5h0M450.4 169.0h0M461.8 174.4h0M460.7 170.7h0M457.7 182.3h0M453.6 168.9h0M448.8 190.0h0M457.9 189.4h0M452.9 184.9h0M450.7 186.4h0M462.3 199.7h0M460.1 193.3h0M458.2 200.0h0M460.2 199.5h0M463.1 193.7h0M458.6 195.2h0M460.3 194.0h0M458.8 200.6h0M461.4 195.7h0M461.0 198.7h0M458.8 199.1h0M459.4 195.5h0M456.5 191.4h0M460.1 199.3h0M458.1 195.2h0M458.1 206.7h0M461.5 213.9h0M462.4 201.2h0M462.5 220.9h0M459.9 205.1h0M463.3 218.9h0M462.2 202.4h0M458.1 219.8h0M462.1 216.5h0M447.7 260.4h0M447.5 252.3h0M447.3 253.1h0M446.5 248.0h0M447.2 254.4h0M448.2 250.1h0M447.5 239.8h0M447.9 242.9h0M447.8 243.0h0M449.1 245.3h0M447.3 247.6h0M447.9 253.9h0M463.4 239.5h0M462.5 251.2h0M463.5 247.5h0M461.8 250.1h0M458.3 265.3h0M460.1 255.6h0M460.9 258.1h0M461.1 264.0h0M460.4 253.8h0M460.1 266.4h0M460.6 250.8h0M460.4 266.1h0M459.9 248.4h0M463.3 123.5h0M463.3 116.6h0M463.5 125.2h0M462.9 123.9h0M462.0 117.5h0M463.2 153.0h0M462.3 159.5h0M462.2 129.5h0M462.8 145.2h0M463.1 161.6h0M462.8 166.9h0M463.6 167.5h0M463.0 175.2h0M463.2 190.3h0M463.6 199.7h0" stroke="#1B00FF"/>
<path d="M417.8 273.8H463.6" stroke="#1B00FF" stroke-linecap="butt"/>
<path d="M465.7 94.4h0M463.6 224.0h0M465.6 226.6h0M493.2 89.9h0M487.1 98.0h0M500.9 99.1h0M496.8 105.2h0M498.3 152.5h0M494.2 157.6h0M472.8 161.0h0M476.9 162.0h0M477.9 175.3h0M477.9 177.9h0M482.5 182.0h0M470.2 194.6h0M474.9 200.2h0M474.9 206.3h0M473.8 218.1h0M490.2 201.7h0M493.2 159.5h0M494.7 164.1h0M466.7 245.0h0M472.3 245.0h0M472.3 247.0h0M472.8 259.2h0M498.8 258.7h0M498.3 265.4h0M492.2 269.5h0M496.3 272.0h0M501.0 99.1h0M501.0 122.6h0M502.5 125.6h0M501.5 172.3h0M502.0 179.4h0M501.0 184.5h0M502.6 228.1h0M502.6 230.2h0M501.5 237.8h0M465.2 199.4h0M464.0 199.9h0M465.3 192.5h0M464.0 242.9h0M464.1 251.7h0M463.9 247.9h0M463.7 240.8h0M464.0 240.3h0M463.8 237.7h0M464.5 242.6h0M463.7 241.8h0M465.8 101.8h0M463.9 112.0h0M463.7 98.0h0M465.8 106.8h0M466.2 108.0h0M464.0 96.1h0M466.2 100.7h0M464.1 107.5h0M464.3 99.4h0M467.1 107.3h0M466.7 99.4h0M465.8 97.8h0M465.2 101.4h0M464.6 98.3h0M464.2 97.8h0M464.2 109.2h0M465.9 108.3h0M464.3 99.2h0M464.1 101.7h0M464.6 111.1h0M464.4 100.9h0M476.9 112.5h0M475.2 114.4h0M468.9 121.5h0M470.7 115.8h0M464.7 118.7h0M463.7 127.0h0M468.3 117.9h0M463.9 116.4h0M464.0 112.8h0M463.8 126.5h0M476.2 116.6h0M470.5 118.4h0M476.2 120.0h0M468.2 123.5h0M465.0 123.3h0M472.2 113.1h0M468.9 124.9h0M468.9 117.0h0M468.8 117.0h0M468.9 121.9h0M475.1 120.9h0M469.2 118.6h0M464.3 126.6h0M464.8 125.1h0M466.4 114.3h0M475.1 125.1h0M468.0 126.6h0M464.6 114.6h0M467.2 120.7h0M476.3 123.1h0M466.8 112.7h0M464.3 122.7h0M470.6 123.5h0M468.6 114.2h0M468.5 122.4h0M465.0 117.2h0M463.6 115.4h0M473.8 133.8h0M470.4 136.1h0M465.9 141.5h0M470.0 154.1h0M470.7 153.1h0M471.7 141.9h0M467.5 152.5h0M471.4 151.1h0M470.2 143.0h0M470.9 130.1h0M463.9 132.6h0M466.6 148.1h0M470.1 157.3h0M464.1 134.1h0M465.7 159.2h0M473.5 152.5h0M469.9 145.6h0M467.1 141.7h0M470.1 136.3h0M463.9 145.5h0M471.7 136.4h0M473.6 150.7h0M469.6 146.5h0M468.3 151.1h0M472.0 147.0h0M463.7 155.0h0M466.4 143.0h0M463.9 142.2h0M465.7 139.7h0M470.1 139.6h0M470.8 130.6h0M470.4 144.6h0M470.4 142.4h0M465.5 133.5h0M469.8 153.5h0M465.7 147.4h0M471.3 153.9h0M470.0 153.5h0M470.8 159.3h0M470.1 159.0h0M471.2 137.8h0M466.8 130.0h0M464.1 152.1h0M464.0 135.5h0M471.4 151.0h0M465.3 154.1h0M469.8 139.7h0M465.4 144.2h0M464.1 159.5h0M471.1 157.1h0M465.9 133.0h0M470.8 128.5h0M465.5 149.4h0M481.3 135.6h0M476.8 139.3h0M479.7 136.7h0M485.3 144.3h0M482.2 137.3h0M480.0 131.4h0M483.6 144.0h0M489.7 136.7h0M479.3 139.1h0M479.6 137.1h0M489.8 140.1h0M489.5 134.3h0M478.9 143.3h0M480.1 143.2h0M490.0 138.2h0M499.4 122.3h0M496.5 113.0h0M497.0 117.3h0M497.1 116.5h0M497.0 117.0h0M496.6 124.8h0M497.9 114.9h0M497.0 123.4h0M497.8 112.5h0M499.4 136.9h0M498.7 136.9h0M501.1 142.2h0M498.7 130.9h0M498.9 143.4h0M501.7 131.0h0M499.6 142.5h0M497.1 139.6h0M502.2 134.3h0M497.2 137.8h0M499.0 140.0h0M499.4 136.0h0M498.3 142.7h0M498.3 133.8h0M465.2 175.4h0M470.3 190.4h0M468.0 160.7h0M467.1 190.3h0M470.5 186.0h0M469.4 175.5h0M465.5 168.9h0M468.5 189.9h0M464.0 181.7h0M465.2 175.4h0M468.8 187.5h0M470.0 178.0h0M468.9 162.8h0M469.7 173.8h0M467.1 166.7h0M468.2 180.0h0M465.4 176.0h0M466.9 159.6h0M469.0 179.9h0M466.8 166.6h0M465.8 159.2h0M470.3 189.7h0M469.3 168.0h0M465.4 180.9h0M472.0 180.5h0M469.5 186.6h0M468.9 167.3h0M466.9 176.0h0M465.3 168.1h0M467.6 182.5h0M465.8 177.6h0M472.6 166.5h0M470.6 188.1h0M467.2 170.2h0M465.6 173.1h0M465.8 161.7h0M469.0 179.9h0M468.9 184.6h0M467.6 189.1h0M467.7 172.2h0M471.3 187.1h0M468.8 188.8h0M469.1 182.8h0M463.7 172.1h0M465.2 168.2h0M469.0 159.1h0M471.4 171.0h0M465.6 159.1h0M464.9 166.0h0M467.1 189.1h0M468.7 179.5h0M465.0 164.6h0M465.4 171.6h0M466.9 167.0h0M466.7 161.5h0M469.0 161.3h0M467.2 174.7h0M467.4 168.0h0M465.9 171.2h0M465.6 188.8h0M464.0 169.5h0M466.1 161.2h0M472.4 190.9h0M465.9 174.9h0M463.7 188.2h0M468.4 164.8h0M466.7 190.1h0M468.2 203.7h0M466.2 195.7h0M463.6 207.0h0M465.2 192.4h0M463.9 193.7h0M463.9 205.6h0M464.1 199.6h0M469.4 209.5h0M469.0 206.5h0M469.5 209.7h0M469.3 207.0h0M467.9 192.2h0M463.7 192.1h0M464.9 198.4h0M468.9 204.7h0M464.1 208.4h0M464.9 197.9h0M466.0 197.1h0M469.2 205.8h0M465.2 193.8h0M467.1 209.3h0M468.7 202.8h0M464.1 200.0h0M469.3 194.0h0M465.1 196.1h0M469.5 210.2h0M464.1 202.1h0M468.5 206.9h0M463.9 196.5h0M468.8 207.9h0M464.1 193.7h0M465.0 203.7h0M465.0 196.9h0M464.5 202.7h0M469.5 191.4h0M466.4 201.7h0M464.0 202.7h0M463.7 192.9h0M464.8 209.6h0M468.9 197.7h0M464.5 200.9h0M468.6 215.0h0M468.5 217.4h0M469.4 218.8h0M468.8 215.2h0M469.1 217.2h0M468.7 214.9h0M469.0 220.0h0M469.7 215.5h0M469.5 215.1h0M470.0 215.7h0M468.9 215.4h0M469.3 215.1h0M470.5 221.4h0M469.6 214.1h0M468.9 219.8h0M502.5 211.0h0M497.2 205.0h0M501.9 197.7h0M502.1 201.1h0M502.2 222.9h0M500.8 204.3h0M500.2 209.3h0M501.6 203.0h0M466.4 262.1h0M466.3 256.1h0M466.1 258.7h0M467.5 267.2h0M467.1 272.2h0M468.1 268.8h0M469.0 270.8h0M474.1 271.4h0M470.0 270.4h0M467.6 264.8h0M473.1 265.4h0M473.5 265.8h0M470.1 268.5h0M466.8 265.9h0M469.5 266.5h0M473.3 271.6h0M469.4 271.7h0M469.7 263.3h0M469.9 271.3h0M467.0 266.9h0M472.5 264.6h0M467.7 267.5h0M467.1 269.8h0M466.1 264.0h0M474.5 269.2h0M469.6 269.1h0M475.8 269.0h0M497.3 234.5h0M500.3 238.7h0M500.1 237.5h0M497.3 230.1h0M497.5 228.7h0M500.7 191.4h0" stroke="#6B00FF"/>
<path d="M463.6 273.8H503.0" stroke="#6B00FF" stroke-linecap="butt"/>
<path d="M504.0 177.4h0M520.9 70.7h0M520.9 75.0h0M524.5 85.0h0M528.1 87.5h0M522.5 90.1h0M524.0 91.6h0M521.4 93.1h0M527.6 93.6h0M525.0 94.1h0M535.2 83.4h0M535.2 86.5h0M535.8 91.6h0M532.7 93.1h0M511.7 110.3h0M518.9 108.3h0M506.1 117.0h0M515.3 117.0h0M515.3 123.6h0M522.0 122.6h0M530.6 117.0h0M536.3 119.5h0M506.1 130.0h0M505.6 134.7h0M517.9 140.3h0M517.9 142.3h0M517.4 147.4h0M532.2 135.7h0M536.3 137.7h0M534.2 143.9h0M507.2 167.2h0M508.2 186.1h0M515.3 221.6h0M521.4 217.6h0M517.4 252.1h0M516.9 257.2h0M515.8 260.8h0M515.3 268.4h0M521.4 269.5h0M507.2 270.0h0M528.6 255.7h0M533.7 267.4h0M503.1 132.9h0M504.7 175.4h0M504.1 159.5h0M503.5 213.0h0M503.5 203.4h0M504.4 179.6h0M504.4 168.0h0M504.5 160.0h0M504.0 234.7h0M522.3 97.4h0M526.9 110.2h0M522.6 111.5h0M522.6 98.5h0M524.9 114.0h0M527.6 102.7h0M522.6 104.8h0M526.4 95.2h0M522.9 116.3h0M523.1 114.0h0M527.5 98.4h0M526.0 97.4h0M519.9 104.3h0M523.8 108.4h0M526.1 115.4h0M528.1 102.8h0M523.2 95.8h0M524.3 103.6h0M523.9 109.2h0M528.0 100.2h0M521.0 106.0h0M522.8 112.0h0M528.4 109.0h0M528.3 108.6h0M527.9 100.9h0M522.8 117.8h0M528.5 117.8h0M528.3 99.7h0M528.5 109.0h0M528.0 99.5h0M527.7 111.7h0M528.2 96.1h0M521.5 102.1h0M522.4 117.8h0M520.3 98.5h0M522.9 102.2h0M522.7 117.3h0M523.1 100.8h0M523.1 100.8h0M524.0 112.8h0M527.8 118.3h0M519.8 102.2h0M522.4 105.6h0M521.2 111.6h0M522.7 112.3h0M528.0 115.9h0M523.0 100.4h0M527.2 109.3h0M523.4 108.6h0M527.8 97.5h0M527.6 101.6h0M527.7 116.3h0M523.2 98.9h0M527.1 97.6h0M530.2 109.0h0M535.0 114.4h0M531.6 106.3h0M530.7 98.9h0M529.7 111.5h0M531.5 106.0h0M537.4 103.4h0M529.8 109.9h0M531.1 99.5h0M533.6 103.6h0M537.7 105.3h0M531.4 112.8h0M534.2 108.3h0M529.8 113.1h0M535.7 100.5h0M530.3 100.5h0M529.6 100.9h0M529.5 106.3h0M530.7 102.1h0M533.5 98.7h0M531.1 112.6h0M534.7 103.7h0M535.4 101.1h0M532.4 114.2h0M531.3 105.4h0M533.0 104.2h0M530.9 111.6h0M530.6 101.9h0M533.7 103.6h0M529.9 112.8h0M529.7 103.6h0M534.3 111.0h0M533.8 110.1h0M505.5 148.1h0M503.5 153.0h0M508.8 155.6h0M507.4 154.4h0M505.8 147.4h0M510.2 147.4h0M511.8 150.7h0M506.8 149.7h0M509.1 155.7h0M507.7 150.2h0M505.2 151.8h0M503.7 155.7h0M533.9 157.0h0M526.9 156.7h0M526.7 157.4h0M530.7 154.9h0M524.5 157.3h0M528.9 151.2h0M527.0 151.3h0M524.6 153.7h0M534.6 155.4h0M514.5 161.8h0M512.7 170.7h0M518.7 177.7h0M515.7 164.4h0M519.6 164.6h0M510.5 160.9h0M515.5 168.9h0M515.9 179.9h0M515.6 167.0h0M534.6 171.1h0M526.0 166.6h0M534.2 189.4h0M534.7 159.8h0M526.4 170.4h0M533.0 184.0h0M528.0 189.8h0M538.7 171.3h0M527.2 174.0h0M535.7 171.1h0M526.6 179.2h0M538.6 174.8h0M534.5 174.4h0M525.2 180.8h0M534.2 162.6h0M537.7 190.3h0M525.4 166.6h0M526.8 180.2h0M525.7 188.9h0M534.5 172.7h0M525.2 167.9h0M538.6 174.2h0M526.4 185.4h0M532.1 166.5h0M525.7 181.5h0M534.5 166.6h0M537.7 171.8h0M531.9 161.5h0M526.1 166.6h0M535.1 178.4h0M526.7 160.7h0M532.3 187.9h0M538.6 163.8h0M530.3 163.3h0M538.7 182.7h0M526.9 189.9h0M526.5 173.2h0M538.7 188.5h0M537.0 165.5h0M525.4 165.9h0M532.5 163.1h0M526.4 190.2h0M534.2 184.6h0M534.7 161.4h0M537.8 163.1h0M526.2 170.8h0M532.2 183.9h0M537.3 166.4h0M532.4 178.5h0M534.4 177.1h0M531.0 185.1h0M535.8 175.8h0M535.0 174.2h0M534.4 187.5h0M538.7 163.7h0M532.9 181.6h0M530.0 188.1h0M535.1 188.3h0M534.9 162.3h0M534.7 172.7h0M525.3 162.6h0M526.4 175.8h0M525.5 166.4h0M533.5 171.1h0M526.8 165.5h0M525.1 170.2h0M537.5 170.9h0M537.3 169.3h0M538.0 178.0h0M538.8 175.7h0M522.7 188.4h0M523.8 173.3h0M523.3 173.1h0M522.7 180.2h0M523.9 180.7h0M523.6 176.1h0M504.5 197.2h0M503.4 208.6h0M503.3 207.9h0M508.9 208.2h0M505.6 208.3h0M503.0 219.2h0M509.0 211.5h0M503.4 220.4h0M527.5 192.6h0M527.9 193.1h0M537.2 196.3h0M520.9 201.9h0M536.2 201.0h0M528.2 198.9h0M533.8 195.4h0M520.7 194.3h0M521.6 196.5h0M536.7 195.8h0M522.3 202.0h0M536.0 200.6h0M535.3 200.6h0M519.3 201.9h0M536.2 201.2h0M532.6 199.4h0M529.3 200.9h0M528.3 201.5h0M534.8 197.0h0M525.7 197.0h0M536.5 197.6h0M527.3 195.5h0M533.9 194.0h0M528.4 194.9h0M519.7 192.4h0M534.9 192.9h0M528.1 201.7h0M528.1 194.9h0M530.3 192.2h0M527.9 192.1h0M526.7 194.0h0M537.0 200.2h0M518.5 193.8h0M536.0 200.8h0M532.6 195.6h0M535.1 193.4h0M531.3 198.4h0M528.0 192.3h0M533.6 193.7h0M528.0 191.8h0M534.5 200.2h0M528.4 196.1h0M521.4 193.3h0M537.6 194.0h0M531.6 194.0h0M521.4 207.0h0M520.9 208.3h0M521.1 206.9h0M532.0 216.2h0M528.7 221.7h0M532.7 203.5h0M530.6 212.9h0M533.4 216.2h0M528.8 207.2h0M531.2 212.0h0M532.6 206.7h0M529.2 205.5h0M533.3 213.8h0M528.8 209.1h0M528.8 215.3h0M506.7 254.1h0M509.8 244.7h0M510.8 253.9h0M506.6 239.2h0M510.9 250.5h0M506.1 239.8h0M506.3 243.0h0M507.1 248.4h0M507.4 247.5h0M514.4 229.3h0M514.1 227.7h0M514.5 225.2h0M515.1 230.5h0M514.9 224.8h0M515.8 228.7h0M522.4 227.2h0M522.6 223.2h0M522.8 223.2h0M522.1 227.8h0M523.0 224.6h0M522.5 227.0h0M530.2 232.6h0M530.8 243.5h0M531.6 237.5h0M531.3 243.5h0M531.6 247.3h0M532.7 244.2h0M532.4 238.1h0M531.8 242.9h0M531.3 225.6h0M535.0 237.3h0M532.8 241.2h0M531.2 225.4h0M505.4 258.3h0M510.3 264.8h0M505.3 256.5h0M510.1 257.1h0M510.3 250.6h0M510.7 251.3h0M506.2 253.4h0M510.3 257.4h0M509.8 260.6h0M508.3 253.1h0M508.5 265.2h0M509.9 256.8h0M506.1 263.5h0M505.9 259.1h0M506.0 262.6h0M536.3 256.6h0M536.1 252.6h0M529.3 256.6h0M536.9 253.5h0M529.9 255.9h0M534.8 255.9h0M535.3 251.4h0M532.7 256.8h0M532.8 252.6h0" stroke="#BC00FF"/>
<path d="M503.0 273.8H538.8" stroke="#BC00FF" stroke-linecap="butt"/>
<path d="M539.8 102.2h0M540.9 142.8h0M541.4 232.7h0M541.9 264.3h0M540.9 265.9h0M546.0 270.0h0M556.7 270.0h0M548.0 114.9h0M557.2 120.0h0M554.6 124.6h0M547.5 155.6h0M555.6 160.0h0M556.7 165.1h0M556.7 170.2h0M558.2 174.3h0M555.2 188.6h0M563.0 160.0h0M555.2 193.0h0M555.2 197.1h0M554.1 201.2h0M556.7 207.3h0M554.1 218.1h0M557.2 218.1h0M558.7 244.4h0M539.2 170.3h0M539.1 181.5h0M538.9 163.5h0M538.9 189.4h0M539.0 161.1h0M538.9 164.5h0M539.5 181.0h0M539.1 187.1h0M565.2 109.4h0M564.3 110.2h0M562.7 118.4h0M565.4 125.3h0M565.2 123.0h0M565.3 114.0h0M565.9 115.8h0M562.8 123.6h0M563.4 112.1h0M565.0 122.9h0M561.4 122.0h0M564.2 126.2h0M565.9 123.5h0M563.0 109.5h0M562.7 116.9h0M564.3 117.6h0M565.5 109.8h0M562.6 117.6h0M561.9 119.6h0M565.2 110.0h0M565.2 120.9h0M561.0 147.5h0M566.4 154.3h0M562.9 143.0h0M563.3 150.1h0M560.5 134.1h0M567.9 150.1h0M566.9 131.3h0M566.6 133.9h0M560.5 134.8h0M567.7 141.5h0M566.1 152.0h0M561.8 143.9h0M561.6 146.6h0M562.3 151.1h0M567.1 130.6h0M560.6 146.8h0M562.1 128.2h0M561.0 131.6h0M564.6 131.2h0M560.8 158.8h0M562.0 157.8h0M561.9 132.6h0M567.2 130.7h0M566.7 133.8h0M561.2 132.5h0M560.7 147.9h0M566.9 141.2h0M560.9 137.7h0M567.1 146.1h0M566.8 142.1h0M561.9 129.1h0M562.3 158.8h0M560.7 141.6h0M565.5 150.7h0M561.1 152.6h0M562.1 150.9h0M565.8 149.6h0M561.7 156.0h0M561.0 145.6h0M564.1 142.3h0M564.2 151.5h0M562.6 144.0h0M564.0 137.9h0M566.3 142.6h0M567.3 152.1h0M565.4 137.4h0M565.9 144.3h0M567.1 150.0h0M554.3 141.5h0M554.2 150.4h0M559.2 129.9h0M559.1 136.8h0M557.1 135.3h0M558.8 137.8h0M554.4 153.0h0M559.8 136.1h0M558.2 148.2h0M558.4 143.9h0M559.8 154.3h0M554.1 135.4h0M556.2 135.5h0M559.0 148.2h0M559.2 142.7h0M555.8 151.9h0M554.6 135.3h0M553.9 141.4h0M558.1 152.5h0M558.5 130.6h0M559.8 135.4h0M559.5 153.8h0M559.7 143.1h0M559.6 142.8h0M554.2 142.6h0M558.3 130.0h0M554.9 139.8h0M559.6 127.4h0M560.0 137.0h0M554.5 133.2h0M572.1 128.1h0M571.6 130.8h0M575.2 132.6h0M576.2 129.3h0M570.8 130.6h0M572.2 128.3h0M576.0 129.1h0M578.2 131.0h0M575.1 149.6h0M575.4 147.7h0M572.6 142.0h0M573.2 139.5h0M575.2 144.3h0M575.5 153.0h0M574.3 151.1h0M575.2 150.0h0M575.4 142.6h0M577.6 149.3h0M575.2 139.2h0M572.8 143.1h0M547.6 160.8h0M547.2 159.3h0M546.1 159.3h0M546.2 166.6h0M546.7 159.0h0M547.1 166.9h0M547.0 159.4h0M547.4 159.5h0M547.2 162.0h0M547.4 161.2h0M545.9 164.5h0M545.4 159.1h0M560.9 170.1h0M559.9 176.9h0M561.0 182.8h0M563.2 187.5h0M560.5 190.9h0M560.6 173.4h0M562.3 181.0h0M560.2 190.0h0M564.2 174.0h0M561.2 171.9h0M560.4 186.6h0M560.8 170.4h0M560.2 181.0h0M560.5 190.2h0M561.0 182.5h0M560.3 179.6h0M560.3 174.1h0M560.8 176.9h0M566.7 181.3h0M560.5 175.7h0M560.8 189.6h0M560.8 187.4h0M561.9 178.4h0M562.3 182.9h0M563.8 170.4h0M559.9 179.6h0M560.9 174.6h0M559.8 174.9h0M561.0 188.1h0M560.1 170.6h0M560.7 188.3h0M562.1 171.4h0M560.0 185.2h0M561.6 186.2h0M566.4 178.0h0M561.0 182.7h0M559.9 178.8h0M560.3 172.4h0M560.2 187.8h0M560.8 175.1h0M561.1 187.4h0M560.4 181.0h0M560.4 190.3h0M559.6 173.7h0M561.1 174.7h0M560.8 171.3h0M562.3 186.3h0M561.6 182.0h0M560.9 188.3h0M560.9 174.9h0M566.4 182.1h0M566.6 190.4h0M564.5 179.4h0M566.0 172.9h0M560.7 170.8h0M562.9 189.7h0M561.3 191.0h0M577.4 179.5h0M571.8 188.2h0M576.7 182.9h0M575.1 178.8h0M577.1 185.6h0M571.8 190.1h0M576.4 173.9h0M570.9 172.7h0M571.2 190.9h0M576.3 174.1h0M577.9 189.2h0M571.8 169.5h0M578.2 173.9h0M574.7 171.6h0M570.9 164.1h0M576.3 167.3h0M574.7 167.0h0M575.1 184.1h0M575.7 184.8h0M571.5 190.9h0M577.1 167.3h0M570.6 178.1h0M572.1 184.7h0M571.7 186.6h0M576.4 181.2h0M575.1 172.2h0M574.8 178.4h0M575.2 168.3h0M576.9 182.4h0M574.5 176.6h0M573.4 175.5h0M571.0 176.0h0M571.4 171.8h0M574.7 183.8h0M575.2 190.6h0M575.2 182.5h0M572.3 165.5h0M571.5 182.6h0M577.0 173.5h0M570.7 185.6h0M574.6 168.8h0M578.4 165.3h0M577.1 164.5h0M578.3 172.5h0M572.5 168.2h0M572.0 165.1h0M574.4 178.2h0M571.7 182.5h0M571.5 176.7h0M573.9 172.3h0M577.4 186.1h0M572.0 183.9h0M566.2 221.9h0M566.6 196.4h0M573.4 213.9h0M566.6 197.1h0M568.7 207.5h0M565.6 199.0h0M567.4 218.8h0M577.5 205.5h0M573.4 217.0h0M567.4 207.1h0M567.3 217.9h0M573.3 211.5h0M573.1 200.6h0M573.4 191.6h0M573.6 214.9h0M569.7 208.1h0M568.2 214.6h0M567.1 207.9h0M568.6 209.1h0M565.9 196.6h0M573.7 195.5h0M572.9 199.3h0M568.2 199.3h0M573.5 212.1h0M565.1 222.3h0M578.2 209.3h0M566.5 213.9h0M567.5 211.0h0M567.6 219.2h0M565.3 201.8h0M566.7 220.1h0M576.9 206.6h0M576.3 219.2h0M566.3 203.0h0M573.1 218.6h0M566.4 219.1h0M572.2 197.2h0M565.8 220.4h0M568.6 210.7h0M566.0 198.1h0M565.5 209.6h0M565.6 200.0h0M578.1 217.5h0M567.4 203.4h0M566.2 212.6h0M570.2 210.7h0M577.6 205.9h0M566.2 196.9h0M566.2 193.9h0M569.6 220.9h0M569.9 206.9h0M566.8 212.1h0M567.3 219.7h0M578.4 219.7h0M565.0 193.6h0M568.5 221.3h0M565.3 221.5h0M573.0 201.7h0M570.0 222.6h0M571.8 202.1h0M568.1 202.0h0M565.7 220.9h0M572.2 221.0h0M567.0 199.8h0M569.6 201.9h0M566.1 199.8h0M568.2 222.0h0M573.6 220.2h0M565.3 218.4h0M567.3 214.0h0M569.6 193.4h0M573.2 197.2h0M565.3 210.7h0M566.4 204.8h0M575.7 200.2h0M565.8 203.5h0M565.6 193.9h0M568.7 212.2h0M569.7 205.0h0M565.7 197.8h0M567.8 199.1h0M567.4 214.4h0M567.6 192.6h0M570.1 213.8h0M568.5 220.5h0M567.4 213.1h0M574.7 220.3h0M567.7 194.7h0M569.5 211.0h0M568.4 197.9h0M572.4 218.9h0M569.9 216.1h0M572.9 216.4h0M569.7 193.5h0M566.4 205.2h0M568.5 222.1h0M565.7 203.0h0M573.2 222.0h0M569.7 201.1h0M569.7 218.2h0M567.2 218.6h0M575.9 215.4h0M569.5 217.8h0M574.9 195.9h0M573.7 201.0h0M569.6 213.8h0M569.9 198.0h0M569.7 206.8h0M577.2 216.4h0M576.8 201.7h0M573.0 221.1h0M569.3 216.9h0M560.4 226.5h0M570.2 225.8h0M570.0 243.2h0M569.0 228.3h0M576.7 240.8h0M570.2 223.9h0M575.7 237.7h0M570.4 241.6h0M569.1 225.4h0M567.6 224.9h0M571.1 231.2h0M575.3 237.8h0M570.2 228.1h0M569.7 239.7h0M561.6 224.7h0M562.8 235.0h0M562.6 240.5h0M578.3 242.8h0M570.3 235.6h0M560.2 233.0h0M560.3 223.2h0M569.2 229.6h0M575.8 230.7h0M569.7 228.4h0M562.7 239.5h0M560.2 241.4h0M568.5 240.1h0M569.6 223.9h0M567.5 238.7h0M574.8 232.6h0M562.8 238.1h0M570.0 225.4h0M575.8 241.9h0M569.6 228.8h0M563.0 223.8h0M566.6 238.1h0M560.0 234.4h0M570.5 238.3h0M561.7 231.1h0M570.1 241.2h0M561.7 243.0h0M570.5 229.2h0M570.8 230.3h0M570.7 240.2h0M569.1 231.7h0M560.8 228.1h0M561.4 242.6h0M561.8 225.2h0M562.1 228.6h0M569.9 239.7h0M560.4 228.7h0M570.0 239.8h0M570.3 230.9h0M569.8 229.7h0M562.4 236.4h0M573.7 242.0h0M572.9 225.6h0M568.4 225.1h0M560.6 230.1h0M560.4 233.0h0M568.8 234.7h0M570.4 229.0h0M560.6 233.3h0M569.8 232.6h0M562.4 242.3h0M573.0 224.8h0M569.7 246.5h0M567.5 246.7h0M565.5 245.1h0M571.4 254.3h0M575.3 248.5h0M564.9 249.5h0M572.3 248.7h0M567.7 253.8h0M566.1 248.0h0M576.1 251.1h0M569.3 251.1h0M570.8 248.8h0M573.6 251.0h0M575.4 250.6h0M576.7 253.5h0M575.8 255.5h0M576.2 254.0h0M569.1 258.5h0M569.4 260.1h0M569.7 258.9h0M567.0 258.8h0M567.5 256.6h0M569.9 261.9h0M571.1 268.7h0M572.8 271.9h0M570.3 268.0h0M573.6 271.3h0M565.5 270.3h0M577.4 266.0h0M572.6 269.8h0M564.1 268.5h0M572.0 269.7h0" stroke="#FF00F2"/>
<path d="M538.8 273.8H578.4" stroke="#FF00F2" stroke-linecap="butt"/>
<path d="M579.9 112.4h0M580.4 263.8h0M607.8 87.4h0M583.9 93.4h0M584.0 96.0h0M584.0 97.5h0M602.9 103.2h0M601.9 104.7h0M603.4 105.7h0M602.9 111.9h0M602.9 116.5h0M603.9 119.5h0M599.8 122.0h0M607.5 114.4h0M608.0 117.0h0M608.5 120.5h0M608.0 123.6h0M591.2 138.7h0M597.3 128.0h0M597.8 139.3h0M596.8 144.9h0M597.8 157.0h0M596.3 183.5h0M597.8 186.6h0M591.2 198.7h0M602.9 239.9h0M608.0 243.4h0M611.1 243.4h0M612.1 247.5h0M608.0 250.6h0M615.5 252.6h0M615.2 252.6h0M580.7 127.5h0M579.6 173.8h0M580.8 183.7h0M580.6 171.7h0M581.0 188.8h0M579.4 165.6h0M580.6 188.9h0M579.4 185.0h0M580.6 169.1h0M580.2 221.4h0M580.4 193.7h0M579.5 199.9h0M579.2 208.9h0M579.5 208.6h0M578.9 235.0h0M578.9 225.4h0M578.9 231.9h0M578.6 255.5h0M610.6 147.4h0M604.0 143.2h0M608.2 148.3h0M609.9 145.6h0M605.1 158.4h0M608.2 158.5h0M610.2 128.0h0M610.3 148.4h0M604.4 149.6h0M602.3 154.4h0M605.0 152.9h0M611.0 145.3h0M604.3 146.6h0M610.2 129.5h0M609.5 135.6h0M609.3 139.9h0M609.0 151.0h0M608.3 152.7h0M609.8 149.0h0M605.7 130.7h0M608.6 155.2h0M608.3 141.5h0M610.3 148.8h0M604.0 144.4h0M610.2 158.4h0M604.8 158.5h0M609.9 132.9h0M601.6 157.6h0M610.6 141.6h0M605.0 133.9h0M605.1 148.0h0M603.4 138.7h0M605.2 148.7h0M609.9 153.8h0M610.7 156.4h0M604.9 155.7h0M603.7 151.1h0M610.9 158.7h0M607.6 143.7h0M604.4 130.0h0M602.3 155.3h0M608.3 158.4h0M608.6 149.8h0M610.4 145.0h0M604.6 145.4h0M603.6 128.8h0M608.9 148.0h0M605.0 136.9h0M595.8 172.5h0M596.7 159.4h0M598.4 170.8h0M597.1 177.6h0M596.0 172.0h0M597.5 170.6h0M596.1 163.6h0M596.2 177.4h0M597.9 170.3h0M596.0 167.8h0M595.9 162.7h0M595.0 162.8h0M597.0 166.2h0M596.5 172.1h0M596.2 161.7h0M609.2 159.3h0M604.6 173.1h0M605.5 168.3h0M611.3 190.5h0M610.4 178.4h0M609.5 174.9h0M607.2 180.9h0M604.4 179.5h0M603.0 174.1h0M605.0 190.2h0M612.0 177.9h0M605.6 162.0h0M607.8 171.8h0M611.5 176.6h0M605.7 162.7h0M611.2 176.9h0M602.8 169.6h0M607.6 185.2h0M603.3 171.7h0M607.6 160.3h0M607.4 184.6h0M605.4 176.8h0M609.4 168.7h0M608.5 162.6h0M608.8 176.4h0M605.5 190.3h0M609.1 185.4h0M608.9 188.9h0M608.2 167.3h0M607.5 166.8h0M603.6 169.4h0M609.2 170.9h0M607.4 166.2h0M610.2 174.7h0M607.3 189.4h0M605.2 178.0h0M609.0 169.8h0M610.5 161.4h0M608.7 186.0h0M605.4 180.1h0M607.3 161.0h0M611.8 165.4h0M610.8 164.2h0M611.6 169.9h0M605.2 190.5h0M611.2 164.4h0M608.3 160.1h0M609.6 179.7h0M602.0 188.4h0M602.9 160.9h0M604.5 171.6h0M605.7 174.1h0M611.6 165.7h0M602.7 163.5h0M590.4 210.6h0M593.8 218.5h0M589.3 207.1h0M591.9 221.9h0M594.6 222.3h0M588.2 212.2h0M592.0 215.9h0M588.2 205.6h0M589.0 211.1h0M594.4 207.8h0M589.8 210.3h0M592.2 220.6h0M588.1 212.4h0M590.8 205.2h0M589.8 222.5h0M594.6 210.6h0M587.7 207.5h0M590.2 216.0h0M588.0 210.1h0M594.3 206.0h0M588.4 221.3h0M594.7 220.3h0M588.2 209.2h0M592.7 212.6h0M589.7 216.6h0M592.7 220.2h0M588.2 218.6h0M594.9 221.6h0M589.0 214.1h0M590.4 208.2h0M590.2 216.6h0M588.1 220.4h0M590.4 209.4h0M589.0 220.5h0M589.2 208.8h0M588.2 214.4h0M590.1 216.7h0M593.9 205.9h0M587.8 222.8h0M589.9 204.7h0M592.2 215.8h0M592.1 220.4h0M592.1 205.3h0M594.5 213.0h0M591.5 216.0h0M595.0 213.8h0M594.0 205.8h0M592.0 220.9h0M592.4 219.6h0M592.3 205.2h0M589.0 213.7h0M584.9 213.7h0M589.4 211.2h0M588.0 209.5h0M602.7 199.0h0M608.1 197.4h0M608.6 193.9h0M603.2 191.6h0M609.2 192.5h0M605.4 199.4h0M603.6 197.5h0M602.9 191.4h0M603.1 194.0h0M608.8 198.9h0M603.1 194.8h0M608.9 198.3h0M603.4 197.3h0M603.4 195.4h0M603.1 191.9h0M607.4 199.7h0M608.5 191.8h0M604.3 193.7h0M604.3 200.2h0M603.1 195.1h0M603.9 200.9h0M607.7 192.3h0M604.1 194.5h0M605.3 200.3h0M605.5 222.6h0M609.5 203.1h0M608.1 221.4h0M608.8 221.1h0M608.4 222.8h0M607.3 206.0h0M607.2 203.1h0M605.8 221.1h0M608.0 213.7h0M606.8 212.0h0M607.7 213.3h0M607.2 215.6h0M589.1 230.2h0M589.3 225.1h0M586.8 227.4h0M586.6 223.7h0M591.4 227.0h0M584.6 230.2h0M588.6 224.7h0M589.6 231.2h0M586.8 228.1h0M585.8 225.9h0M593.2 225.3h0M594.6 231.1h0M586.0 231.0h0M584.8 233.0h0M591.0 227.7h0M582.3 231.1h0M582.5 227.0h0M589.7 233.8h0M588.9 233.2h0M589.7 226.2h0M589.5 225.2h0M592.2 230.4h0M589.2 231.0h0M586.0 233.1h0M586.3 230.3h0M586.8 229.8h0M588.5 230.5h0M586.7 232.0h0M586.7 224.6h0M592.9 232.3h0M587.2 228.1h0M594.4 227.3h0M582.2 224.2h0M588.2 237.7h0M588.3 239.6h0M589.9 249.3h0M588.0 249.9h0M586.9 239.5h0M588.2 246.2h0M587.2 236.4h0M588.1 245.7h0M588.1 249.8h0M587.3 246.8h0M589.6 246.5h0M588.3 237.3h0M586.6 248.4h0M588.5 245.5h0M587.1 237.9h0M588.5 236.7h0M593.0 239.4h0M588.1 249.8h0M588.6 260.5h0M589.8 266.4h0M588.2 264.1h0M590.3 263.9h0M593.4 257.0h0M590.4 254.3h0M588.6 260.9h0M591.7 266.2h0M589.3 255.8h0M590.5 263.3h0M590.0 255.7h0M589.3 255.1h0M591.5 252.3h0M590.2 259.3h0M591.5 266.2h0M591.0 255.1h0M592.2 252.9h0M591.2 255.7h0M589.7 262.1h0M591.2 266.1h0M590.0 260.4h0M589.9 256.6h0M591.4 255.5h0M588.4 265.6h0M610.3 232.6h0M608.2 224.7h0M608.9 232.1h0M610.1 225.9h0M605.9 225.1h0M608.2 230.1h0M604.6 224.8h0M609.0 224.1h0M608.1 226.1h0M610.6 223.3h0M604.4 228.3h0M606.2 229.2h0M608.3 235.2h0M604.7 234.8h0M608.4 223.3h0M609.1 223.3h0M608.8 225.8h0M604.2 234.1h0M610.4 229.8h0M608.9 233.8h0M607.7 225.5h0M612.6 224.4h0M610.2 228.2h0M609.1 230.3h0M604.8 229.5h0M603.9 224.9h0M613.6 235.2h0M608.5 253.0h0M606.2 251.8h0M611.1 249.5h0M605.9 248.7h0M606.0 251.1h0M609.0 250.9h0M608.4 250.3h0M605.9 249.5h0M610.5 253.1h0M610.8 266.6h0M610.5 264.1h0M611.4 267.0h0M610.9 258.4h0M611.9 257.4h0M611.0 259.1h0" stroke="#FF00A1"/>
<path d="M578.4 273.8H615.7" stroke="#FF00A1" stroke-linecap="butt"/>
<path d="M625.2 65.9h0M625.2 67.9h0M625.2 69.9h0M625.2 71.9h0M625.2 73.9h0M625.2 75.9h0M625.2 77.9h0M625.2 89.8h0M625.2 92.0h0M625.2 94.0h0M633.4 90.9h0M651.2 73.7h0M650.6 81.0h0M650.6 83.5h0M650.6 86.0h0M650.6 88.5h0M650.6 91.0h0M650.6 93.5h0M656.1 92.1h0M625.2 106.2h0M626.7 121.6h0M625.2 124.0h0M626.2 126.7h0M636.5 126.2h0M650.2 113.4h0M650.2 115.4h0M656.9 114.9h0M625.2 127.5h0M636.5 127.5h0M626.2 131.6h0M621.1 149.0h0M626.7 156.1h0M652.3 129.0h0M652.3 132.0h0M648.7 139.8h0M647.7 144.9h0M650.2 146.9h0M650.2 149.0h0M656.4 152.5h0M657.4 155.5h0M657.0 157.6h0M651.3 156.6h0M621.6 162.6h0M621.6 165.1h0M633.4 175.9h0M626.7 181.0h0M656.5 160.0h0M657.5 161.5h0M655.8 163.0h0M653.3 164.6h0M657.5 164.0h0M656.4 174.3h0M656.4 175.8h0M653.3 183.0h0M651.3 190.7h0M626.2 214.0h0M627.3 222.2h0M651.3 192.0h0M651.3 193.8h0M653.3 197.6h0M653.3 200.7h0M642.6 216.5h0M643.6 221.1h0M650.8 220.1h0M650.8 222.2h0M619.1 237.3h0M621.1 240.9h0M621.1 243.9h0M626.2 238.8h0M633.4 241.9h0M616.0 252.0h0M620.1 253.6h0M643.6 249.6h0M643.0 252.6h0M645.6 252.6h0M651.3 253.1h0M621.6 259.2h0M620.1 261.3h0M619.6 263.3h0M629.8 262.8h0M626.2 266.4h0M630.3 267.4h0M630.3 270.0h0M617.6 270.0h0M646.1 252.6h0M652.3 260.3h0M618.7 237.3h0M623.6 102.0h0M624.1 97.6h0M624.0 101.9h0M624.6 99.7h0M624.3 100.3h0M625.3 97.0h0M627.1 96.7h0M626.0 97.2h0M623.8 100.0h0M628.1 124.8h0M628.2 111.6h0M628.0 115.4h0M628.2 117.4h0M625.5 113.1h0M627.6 124.1h0M628.2 118.0h0M627.6 123.7h0M627.8 117.1h0M633.4 114.7h0M634.4 113.1h0M634.2 117.5h0M649.7 95.4h0M650.6 102.5h0M649.9 101.7h0M650.3 100.3h0M650.4 99.1h0M649.2 101.0h0M650.4 96.2h0M651.1 106.9h0M650.2 108.9h0M650.8 109.9h0M650.5 105.9h0M650.2 99.1h0M658.4 142.3h0M658.7 138.5h0M658.7 141.3h0M658.4 137.9h0M659.1 123.6h0M659.2 125.9h0M658.4 139.2h0M656.6 134.3h0M658.6 130.5h0M658.7 137.6h0M658.5 130.2h0M659.0 127.6h0M658.3 121.6h0M659.4 132.5h0M658.8 123.6h0M657.4 126.3h0M658.5 134.0h0M657.5 123.0h0M658.7 138.7h0M659.0 123.2h0M658.8 130.5h0M658.9 130.6h0M658.7 128.5h0M657.0 131.2h0M657.7 128.3h0M656.9 139.0h0M658.7 126.7h0M627.0 143.7h0M630.6 145.1h0M631.9 145.5h0M628.6 204.6h0M626.4 205.0h0M627.3 200.1h0M628.4 194.1h0M626.7 204.2h0M627.2 206.9h0M625.9 200.6h0M630.6 203.9h0M627.5 206.8h0M627.8 194.7h0M630.7 207.3h0M627.0 195.0h0M626.9 199.7h0M628.7 199.1h0M629.2 199.9h0M628.5 200.6h0M626.0 194.1h0M627.2 196.2h0M630.3 204.5h0M626.4 196.3h0M628.0 195.5h0M627.1 233.0h0M627.2 226.0h0M627.2 226.3h0M626.9 225.1h0M626.7 231.0h0M626.8 231.1h0M627.3 230.6h0M626.4 225.3h0M626.5 228.2h0M642.8 225.7h0M644.9 230.2h0M643.2 226.6h0M642.7 227.0h0M643.0 224.1h0M642.6 226.2h0M643.0 227.9h0M642.9 226.0h0M643.1 228.1h0M644.0 225.0h0M642.5 228.2h0M643.0 229.8h0M652.0 230.5h0M651.8 224.8h0M651.8 229.8h0M651.9 228.8h0M651.4 224.6h0M651.8 229.7h0M652.3 233.2h0M651.7 231.7h0M651.6 231.0h0M651.3 229.8h0M651.7 234.4h0M650.6 236.5h0M643.1 253.9h0M641.8 263.9h0M641.7 257.1h0M642.1 257.9h0M641.7 258.6h0M645.2 252.7h0M642.9 257.9h0M641.9 249.2h0M644.8 249.7h0M643.1 264.0h0M642.3 249.0h0M642.1 261.2h0" stroke="#FF0051"/>
<path d="M615.7 273.8H659.0" stroke="#FF0051" stroke-linecap="butt"/>
</g>
<path d="M45.2 71.4H681.6" stroke="#383838" stroke-width="1.1"/>
<rect x="45.2" y="29.8" width="636.4" height="253.7" fill="none" stroke="#c8c8c8" stroke-width="1.3"/>
<path d="M40 274.30H45.2M40 222.05H45.2M40 169.80H45.2M40 117.55H45.2M40 65.30H45.2" stroke="#a4a4a4" stroke-width="1"/>
<text transform="translate(32.8,274.70) rotate(-90)" text-anchor="middle" font-size="11.6" fill="#2a2a2a">0</text>
<text transform="translate(32.8,222.45) rotate(-90)" text-anchor="middle" font-size="11.6" fill="#2a2a2a">10</text>
<text transform="translate(32.8,170.20) rotate(-90)" text-anchor="middle" font-size="11.6" fill="#2a2a2a">20</text>
<text transform="translate(32.8,117.95) rotate(-90)" text-anchor="middle" font-size="11.6" fill="#2a2a2a">30</text>
<text transform="translate(32.8,65.70) rotate(-90)" text-anchor="middle" font-size="11.6" fill="#2a2a2a">40</text>
<text transform="translate(11.3,157) rotate(-90)" text-anchor="middle" font-size="13" fill="#2a2a2a">-log(p-value)</text>
<path d="M79.4 294.5H635.4M79.4 294.5V299.6M101.5 294.5V299.6M126.4 294.5V299.6M148.3 294.5V299.6M167.5 294.5V299.6M189.4 294.5V299.6M211.3 294.5V299.6M231.3 294.5V299.6M255.3 294.5V299.6M278.4 294.5V299.6M304.2 294.5V299.6M343.4 294.5V299.6M391.3 294.5V299.6M441.6 294.5V299.6M483.2 294.5V299.6M520.1 294.5V299.6M557.4 294.5V299.6M595.4 294.5V299.6M635.4 294.5V299.6" stroke="#a4a4a4" stroke-width="1" fill="none"/>
<text x="79.4" y="313.2" text-anchor="middle" font-size="9.2" fill="#2a2a2a">A1</text>
<text x="101.5" y="313.2" text-anchor="middle" font-size="9.2" fill="#2a2a2a">A2</text>
<text x="126.4" y="313.2" text-anchor="middle" font-size="9.2" fill="#2a2a2a">A3</text>
<text x="148.3" y="313.2" text-anchor="middle" font-size="9.2" fill="#2a2a2a">A4</text>
<text x="167.5" y="313.2" text-anchor="middle" font-size="9.2" fill="#2a2a2a">A5</text>
<text x="189.4" y="313.2" text-anchor="middle" font-size="9.2" fill="#2a2a2a">A6</text>
<text x="211.3" y="313.2" text-anchor="middle" font-size="9.2" fill="#2a2a2a">A7</text>
<text x="231.3" y="313.2" text-anchor="middle" font-size="9.2" fill="#2a2a2a">A8</text>
<text x="255.3" y="313.2" text-anchor="middle" font-size="9.2" fill="#2a2a2a">A9</text>
<text x="278.4" y="313.2" text-anchor="middle" font-size="9.2" fill="#2a2a2a">A10</text>
<text x="304.2" y="313.2" text-anchor="middle" font-size="9.2" fill="#2a2a2a">C1</text>
<text x="343.4" y="313.2" text-anchor="middle" font-size="9.2" fill="#2a2a2a">C2</text>
<text x="391.3" y="313.2" text-anchor="middle" font-size="9.2" fill="#2a2a2a">C3</text>
<text x="441.6" y="313.2" text-anchor="middle" font-size="9.2" fill="#2a2a2a">C4</text>
<text x="483.2" y="313.2" text-anchor="middle" font-size="9.2" fill="#2a2a2a">C5</text>
<text x="520.1" y="313.2" text-anchor="middle" font-size="9.2" fill="#2a2a2a">C6</text>
<text x="557.4" y="313.2" text-anchor="middle" font-size="9.2" fill="#2a2a2a">C7</text>
<text x="595.4" y="313.2" text-anchor="middle" font-size="9.2" fill="#2a2a2a">C8</text>
<text x="635.4" y="313.2" text-anchor="middle" font-size="9.2" fill="#2a2a2a">C9</text>
<text x="363.2" y="323.7" text-anchor="middle" font-size="13.2" fill="#2a2a2a">Chromosome</text>
</svg>
</body></html>
